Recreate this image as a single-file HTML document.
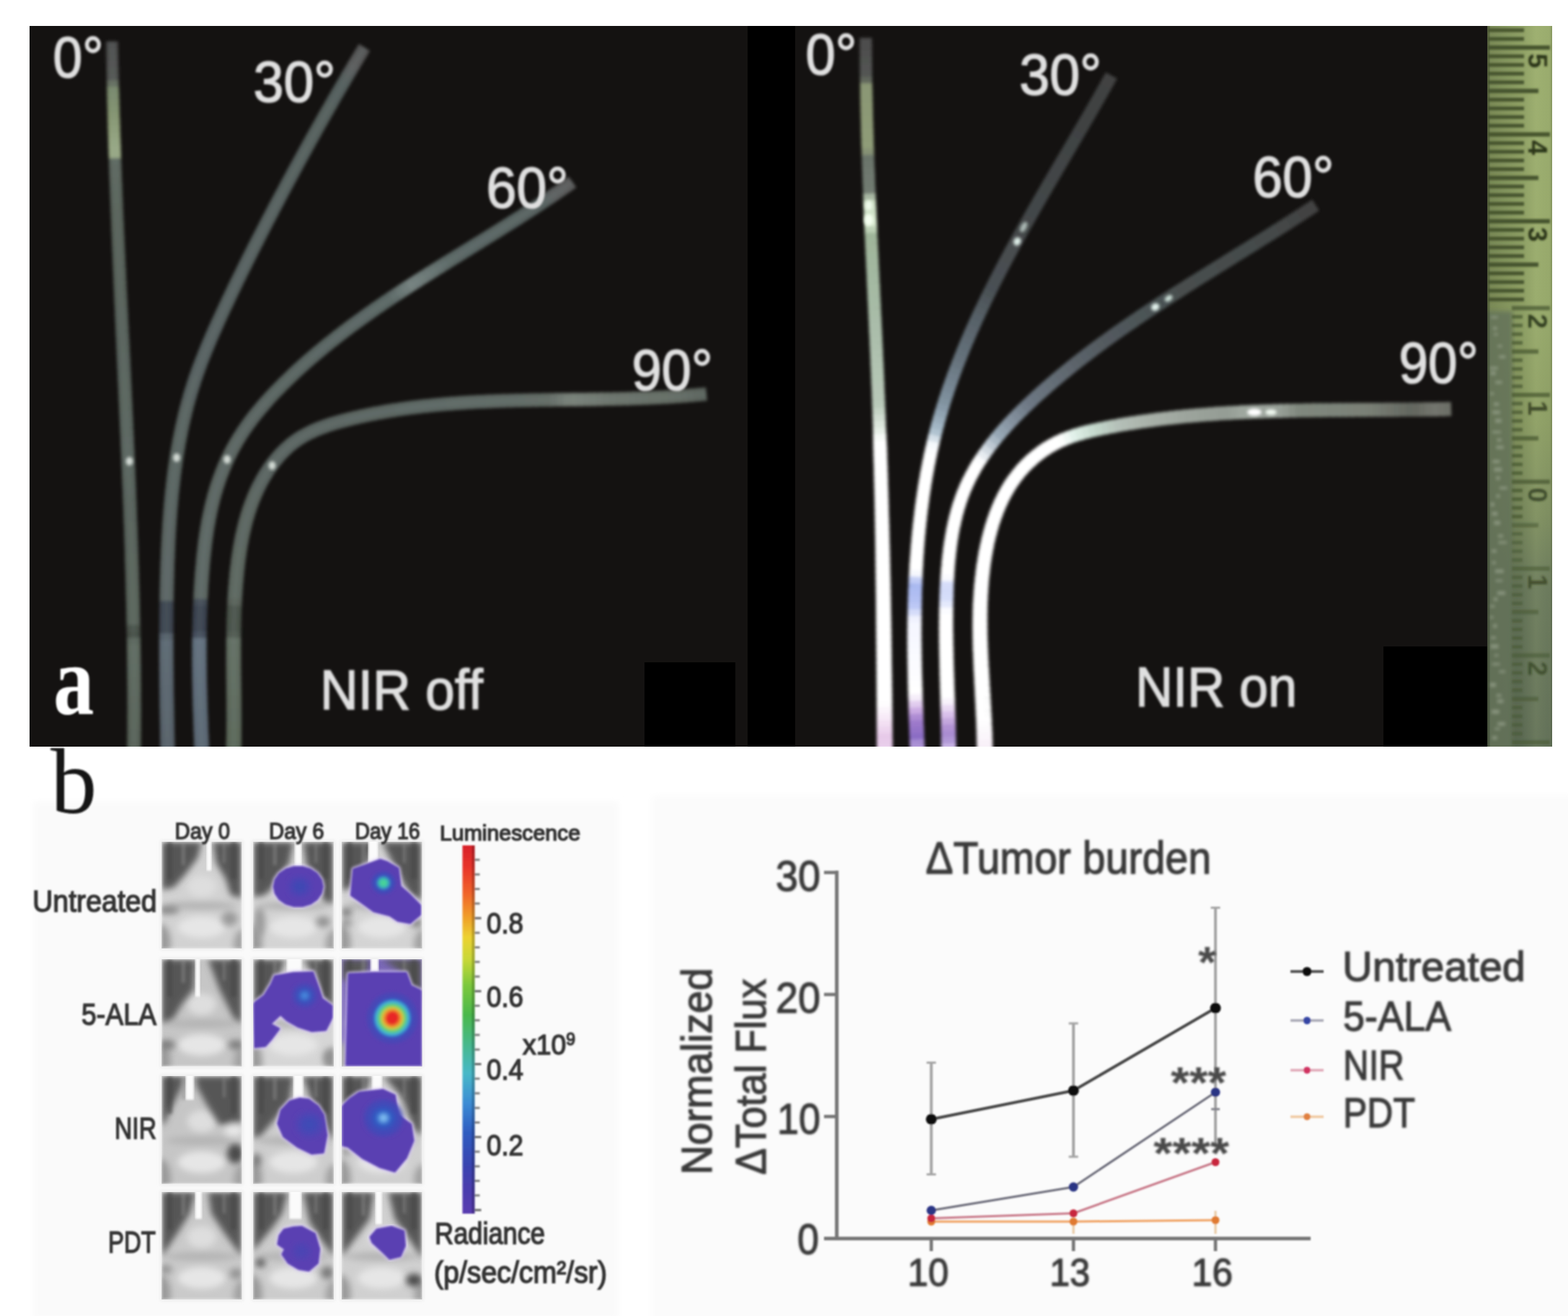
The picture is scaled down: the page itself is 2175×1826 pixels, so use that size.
<!DOCTYPE html>
<html lang="en"><head><meta charset="utf-8"><title>Figure</title>
<style>
html,body{margin:0;padding:0;background:#fff;}
body{width:2175px;height:1826px;overflow:hidden;position:relative;font-family:"Liberation Sans",sans-serif;}
svg{position:absolute;left:0;top:0;display:block;}
text{font-family:"Liberation Sans",sans-serif;}
.serif{font-family:"Liberation Serif",serif;}
</style></head><body>
<svg xmlns="http://www.w3.org/2000/svg" width="2175" height="1826" viewBox="0 0 2175 1826">
<defs>
<filter id="b1" x="-5%" y="-5%" width="110%" height="110%"><feGaussianBlur stdDeviation="1"/></filter>
<filter id="b15" x="-5%" y="-5%" width="110%" height="110%"><feGaussianBlur stdDeviation="1.5"/></filter>
<filter id="b2" x="-10%" y="-10%" width="120%" height="120%"><feGaussianBlur stdDeviation="2"/></filter>
<filter id="b3" x="-10%" y="-10%" width="120%" height="120%"><feGaussianBlur stdDeviation="3"/></filter>
<filter id="b5" x="-20%" y="-20%" width="140%" height="140%"><feGaussianBlur stdDeviation="5"/></filter>
<filter id="b8" x="-30%" y="-30%" width="160%" height="160%"><feGaussianBlur stdDeviation="8"/></filter>

<linearGradient id="gR0" gradientUnits="userSpaceOnUse" x1="0" y1="36" x2="0" y2="1036">
<stop offset="0" stop-color="#4a4e4a"/><stop offset="0.10" stop-color="#59615a"/><stop offset="0.2" stop-color="#7f8a7c"/>
<stop offset="0.42" stop-color="#95a398"/><stop offset="0.53" stop-color="#b9c9c0"/><stop offset="0.585" stop-color="#ffffff"/>
<stop offset="0.86" stop-color="#ffffff"/><stop offset="0.93" stop-color="#f3e3f7"/><stop offset="1" stop-color="#d9b3e6"/>
</linearGradient>
<linearGradient id="gR30" gradientUnits="userSpaceOnUse" x1="0" y1="36" x2="0" y2="1036">
<stop offset="0" stop-color="#3c3f3f"/><stop offset="0.10" stop-color="#454a4a"/><stop offset="0.3" stop-color="#5f6969"/>
<stop offset="0.45" stop-color="#66737a"/><stop offset="0.55" stop-color="#9fb6bd"/><stop offset="0.63" stop-color="#ffffff"/>
<stop offset="0.72" stop-color="#ffffff"/><stop offset="0.76" stop-color="#aab4e8"/><stop offset="0.80" stop-color="#eef0ff"/><stop offset="0.88" stop-color="#ffffff"/>
<stop offset="0.94" stop-color="#a183dc"/><stop offset="1" stop-color="#8a63c8"/>
</linearGradient>
<linearGradient id="gR60" gradientUnits="userSpaceOnUse" x1="0" y1="36" x2="0" y2="1036">
<stop offset="0" stop-color="#3c3f3f"/><stop offset="0.25" stop-color="#454a4a"/><stop offset="0.40" stop-color="#59625f"/>
<stop offset="0.50" stop-color="#6a7880"/><stop offset="0.57" stop-color="#a9bfc6"/><stop offset="0.63" stop-color="#ffffff"/>
<stop offset="0.74" stop-color="#ffffff"/><stop offset="0.77" stop-color="#dfe3fb"/><stop offset="0.82" stop-color="#ffffff"/><stop offset="0.90" stop-color="#ffffff"/>
<stop offset="0.95" stop-color="#b79be6"/><stop offset="1" stop-color="#9270d0"/>
</linearGradient>
<linearGradient id="gR90" gradientUnits="userSpaceOnUse" x1="1380" y1="0" x2="2010" y2="0">
<stop offset="0" stop-color="#ffffff"/><stop offset="0.22" stop-color="#ffffff"/><stop offset="0.36" stop-color="#c8cec8"/>
<stop offset="0.50" stop-color="#b0b8b0"/><stop offset="0.56" stop-color="#f4f6f4"/><stop offset="0.60" stop-color="#f4f6f4"/><stop offset="0.66" stop-color="#aab2aa"/>
<stop offset="0.85" stop-color="#9aa29a"/><stop offset="0.93" stop-color="#6e746e"/><stop offset="1" stop-color="#5a5e5a"/>
</linearGradient>
<linearGradient id="gL0" gradientUnits="userSpaceOnUse" x1="0" y1="36" x2="0" y2="1036">
<stop offset="0" stop-color="#444644"/><stop offset="0.075" stop-color="#4c504c"/><stop offset="0.09" stop-color="#859473"/>
<stop offset="0.18" stop-color="#8b9b78"/><stop offset="0.19" stop-color="#5a645c"/><stop offset="0.5" stop-color="#545e58"/>
<stop offset="1" stop-color="#556058"/>
</linearGradient>
<linearGradient id="gL" gradientUnits="userSpaceOnUse" x1="0" y1="36" x2="0" y2="1036">
<stop offset="0" stop-color="#4a4f4e"/><stop offset="0.1" stop-color="#566060"/><stop offset="0.5" stop-color="#5f6b6b"/>
<stop offset="0.78" stop-color="#5c6868"/><stop offset="0.82" stop-color="#39404a"/><stop offset="0.88" stop-color="#4e5866"/><stop offset="1" stop-color="#667484"/>
</linearGradient>
<linearGradient id="gL90" gradientUnits="userSpaceOnUse" x1="0" y1="36" x2="0" y2="1036">
<stop offset="0" stop-color="#566060"/><stop offset="0.5" stop-color="#626e6a"/>
<stop offset="0.8" stop-color="#606c64"/><stop offset="0.84" stop-color="#4a524a"/><stop offset="1" stop-color="#6a7668"/>
</linearGradient>
<linearGradient id="gRul" x1="0" y1="0" x2="1" y2="0">
<stop offset="0" stop-color="#6f7d4c"/><stop offset="0.08" stop-color="#7f8f55"/><stop offset="0.55" stop-color="#93a565"/><stop offset="0.8" stop-color="#a3b573"/><stop offset="1" stop-color="#94a667"/>
</linearGradient>
<linearGradient id="gRulDark" gradientUnits="userSpaceOnUse" x1="0" y1="36" x2="0" y2="1036">
<stop offset="0" stop-color="#2a3320" stop-opacity="0"/><stop offset="0.38" stop-color="#2a3320" stop-opacity="0"/><stop offset="0.5" stop-color="#2a3320" stop-opacity="0.18"/>
<stop offset="0.7" stop-color="#2f3a2c" stop-opacity="0.4"/><stop offset="1" stop-color="#2f3a2c" stop-opacity="0.5"/>
</linearGradient>
<linearGradient id="gRulV" gradientUnits="userSpaceOnUse" x1="0" y1="36" x2="0" y2="1036">
<stop offset="0" stop-color="#98aa6c"/><stop offset="0.39" stop-color="#94a669"/><stop offset="0.55" stop-color="#8a9b63"/>
<stop offset="0.68" stop-color="#7a8a5e"/><stop offset="0.78" stop-color="#67765a"/><stop offset="1" stop-color="#5e6c56"/>
</linearGradient>
<linearGradient id="gRulH" x1="0" y1="0" x2="1" y2="0">
<stop offset="0" stop-color="#2c3620" stop-opacity="0.28"/><stop offset="0.5" stop-color="#2c3620" stop-opacity="0.08"/>
<stop offset="0.75" stop-color="#d8e8a0" stop-opacity="0.10"/><stop offset="0.94" stop-color="#d8e8a0" stop-opacity="0.04"/><stop offset="1" stop-color="#2c3620" stop-opacity="0.2"/>
</linearGradient>
<linearGradient id="gCbar" x1="0" y1="0" x2="0" y2="1">
<stop offset="0" stop-color="#d8222a"/><stop offset="0.06" stop-color="#e8352a"/><stop offset="0.13" stop-color="#f0642a"/><stop offset="0.19" stop-color="#f09a2a"/>
<stop offset="0.25" stop-color="#ecd232"/><stop offset="0.31" stop-color="#c8d838"/><stop offset="0.38" stop-color="#7cc83c"/><stop offset="0.46" stop-color="#4ab84c"/>
<stop offset="0.54" stop-color="#46b88c"/><stop offset="0.62" stop-color="#48b8c8"/><stop offset="0.70" stop-color="#3c8cd4"/><stop offset="0.78" stop-color="#2f5cc0"/>
<stop offset="0.87" stop-color="#3a44b0"/><stop offset="0.94" stop-color="#4c3cae"/><stop offset="1" stop-color="#5a3cb0"/>
</linearGradient>
</defs>
<rect x="0" y="0" width="2175" height="1826" fill="#ffffff"/>
<g filter="url(#b5)"><rect x="46" y="1112" width="812" height="720" fill="#fafafa"/><rect x="904" y="1104" width="1280" height="730" fill="#fbfbfb"/></g>
<g id="panel-a">
<rect x="41" y="36" width="2112" height="1000" fill="#141211"/>
<rect x="1037" y="36" width="66" height="1000" fill="#000"/>
<rect x="894" y="919" width="126" height="117" fill="#000"/>
<rect x="1919" y="897" width="144" height="139" fill="#000"/>
<clipPath id="clipL"><rect x="41" y="36" width="996" height="1000"/></clipPath>
<clipPath id="clipR"><rect x="1103" y="36" width="960" height="1000"/></clipPath>
<g clip-path="url(#clipL)"><g filter="url(#b2)" fill="none" stroke-linecap="butt" stroke-linejoin="round">
<path d="M155.5 57.5 L155.5 60.5 L155.6 63.5 L155.6 66.5 L155.7 69.5" stroke="#4b4b4b" stroke-width="16.5"/>
<path d="M155.6 66.5 L155.7 69.5 L155.7 72.5 L155.8 75.5 L155.8 78.5" stroke="#4c4d4c" stroke-width="16.6"/>
<path d="M155.8 75.5 L155.8 78.5 L155.9 81.5 L155.9 84.5 L156.0 87.5" stroke="#4d4e4d" stroke-width="16.6"/>
<path d="M155.9 84.5 L156.0 87.5 L156.0 90.5 L156.1 93.5 L156.1 96.5" stroke="#4f504f" stroke-width="16.6"/>
<path d="M156.1 93.5 L156.1 96.5 L156.2 99.5 L156.3 102.5 L156.3 105.5" stroke="#505250" stroke-width="16.7"/>
<path d="M156.3 102.5 L156.3 105.5 L156.4 108.5 L156.4 111.5 L156.5 114.5" stroke="#515351" stroke-width="16.7"/>
<path d="M156.4 111.5 L156.5 114.5 L156.6 117.5 L156.6 120.5 L156.7 123.5" stroke="#646d5e" stroke-width="16.7"/>
<path d="M156.6 120.5 L156.7 123.5 L156.8 126.5 L156.9 129.5 L156.9 132.5" stroke="#78886b" stroke-width="16.8"/>
<path d="M156.9 129.5 L156.9 132.5 L157.0 135.5 L157.1 138.5 L157.1 141.5" stroke="#7b8b6c" stroke-width="16.8"/>
<path d="M157.1 138.5 L157.1 141.5 L157.2 144.5 L157.3 147.5 L157.4 150.5" stroke="#7e8e6d" stroke-width="16.9"/>
<path d="M157.3 147.5 L157.4 150.5 L157.5 153.5 L157.5 156.5 L157.6 159.5" stroke="#81916e" stroke-width="16.9"/>
<path d="M157.5 156.5 L157.6 159.5 L157.7 162.5 L157.8 165.5 L157.9 168.5" stroke="#859570" stroke-width="16.9"/>
<path d="M157.8 165.5 L157.9 168.5 L158.0 171.5 L158.1 174.5 L158.1 177.5" stroke="#899974" stroke-width="17.0"/>
<path d="M158.1 174.5 L158.1 177.5 L158.2 180.5 L158.3 183.5 L158.4 186.5" stroke="#8d9d78" stroke-width="17.0"/>
<path d="M158.3 183.5 L158.4 186.5 L158.5 189.5 L158.6 192.5 L158.7 195.5" stroke="#91a17c" stroke-width="17.0"/>
<path d="M158.6 192.5 L158.7 195.5 L158.8 198.5 L158.9 201.5 L159.0 204.5" stroke="#95a581" stroke-width="17.1"/>
<path d="M158.9 201.5 L159.0 204.5 L159.1 207.5 L159.2 210.5 L159.3 213.5" stroke="#98a884" stroke-width="17.1"/>
<path d="M159.2 210.5 L159.3 213.5 L159.4 216.5 L159.5 219.5 L159.6 222.5" stroke="#98a884" stroke-width="17.1"/>
<path d="M159.5 219.5 L159.6 222.5 L159.7 225.5 L159.8 228.5 L159.9 231.5" stroke="#5c665e" stroke-width="17.2"/>
<path d="M159.8 228.5 L159.9 231.5 L160.0 234.5 L160.1 237.5 L160.2 240.4" stroke="#5b655d" stroke-width="17.2"/>
<path d="M160.1 237.5 L160.2 240.4 L160.3 243.4 L160.4 246.4 L160.5 249.4" stroke="#5b655d" stroke-width="17.3"/>
<path d="M160.4 246.4 L160.5 249.4 L160.6 252.4 L160.8 255.4 L160.9 258.4" stroke="#5a645c" stroke-width="17.3"/>
<path d="M160.8 255.4 L160.9 258.4 L161.0 261.4 L161.1 264.4 L161.2 267.4" stroke="#59635b" stroke-width="17.3"/>
<path d="M161.1 264.4 L161.2 267.4 L161.3 270.4 L161.4 273.4 L161.6 276.4" stroke="#58625a" stroke-width="17.4"/>
<path d="M161.4 273.4 L161.6 276.4 L161.7 279.4 L161.8 282.4 L161.9 285.4" stroke="#58625a" stroke-width="17.4"/>
<path d="M161.8 282.4 L161.9 285.4 L162.0 288.4 L162.1 291.4 L162.3 294.4" stroke="#576159" stroke-width="17.4"/>
<path d="M162.1 291.4 L162.3 294.4 L162.4 297.4 L162.5 300.4 L162.6 303.4" stroke="#566058" stroke-width="17.5"/>
<path d="M162.5 300.4 L162.6 303.4 L162.8 306.4 L162.9 309.4 L163.0 312.4" stroke="#566058" stroke-width="17.5"/>
<path d="M162.9 309.4 L163.0 312.4 L163.1 315.4 L163.2 318.4 L163.4 321.4" stroke="#566058" stroke-width="17.6"/>
<path d="M163.2 318.4 L163.4 321.4 L163.5 324.4 L163.6 327.4 L163.8 330.4" stroke="#566058" stroke-width="17.6"/>
<path d="M163.6 327.4 L163.8 330.4 L163.9 333.4 L164.0 336.4 L164.1 339.4" stroke="#566058" stroke-width="17.7"/>
<path d="M164.0 336.4 L164.1 339.4 L164.3 342.4 L164.4 345.4 L164.5 348.4" stroke="#566058" stroke-width="17.7"/>
<path d="M164.4 345.4 L164.5 348.4 L164.7 351.4 L164.8 354.4 L164.9 357.4" stroke="#566059" stroke-width="17.7"/>
<path d="M164.8 354.4 L164.9 357.4 L165.0 360.4 L165.2 363.4 L165.3 366.3" stroke="#566059" stroke-width="17.8"/>
<path d="M165.2 363.4 L165.3 366.3 L165.4 369.3 L165.6 372.3 L165.7 375.3" stroke="#566059" stroke-width="17.8"/>
<path d="M165.6 372.3 L165.7 375.3 L165.8 378.3 L166.0 381.3 L166.1 384.3" stroke="#566059" stroke-width="17.9"/>
<path d="M166.0 381.3 L166.1 384.3 L166.2 387.3 L166.4 390.3 L166.5 393.3" stroke="#566059" stroke-width="17.9"/>
<path d="M166.4 390.3 L166.5 393.3 L166.6 396.3 L166.8 399.3 L166.9 402.3" stroke="#566059" stroke-width="18.0"/>
<path d="M166.8 399.3 L166.9 402.3 L167.1 405.3 L167.2 408.3 L167.3 411.3" stroke="#566059" stroke-width="18.0"/>
<path d="M167.2 408.3 L167.3 411.3 L167.5 414.3 L167.6 417.3 L167.7 420.3" stroke="#566059" stroke-width="18.1"/>
<path d="M167.6 417.3 L167.7 420.3 L167.9 423.3 L168.0 426.3 L168.2 429.3" stroke="#566059" stroke-width="18.1"/>
<path d="M168.0 426.3 L168.2 429.3 L168.3 432.3 L168.4 435.3 L168.6 438.3" stroke="#56605a" stroke-width="18.1"/>
<path d="M168.4 435.3 L168.6 438.3 L168.7 441.3 L168.8 444.3 L169.0 447.3" stroke="#56605a" stroke-width="18.2"/>
<path d="M168.8 444.3 L169.0 447.3 L169.1 450.3 L169.3 453.3 L169.4 456.3" stroke="#56605a" stroke-width="18.2"/>
<path d="M169.3 453.3 L169.4 456.3 L169.5 459.3 L169.7 462.3 L169.8 465.2" stroke="#56605a" stroke-width="18.3"/>
<path d="M169.7 462.3 L169.8 465.2 L170.0 468.2 L170.1 471.2 L170.2 474.2" stroke="#56605a" stroke-width="18.3"/>
<path d="M170.1 471.2 L170.2 474.2 L170.4 477.2 L170.5 480.2 L170.7 483.2" stroke="#56605a" stroke-width="18.4"/>
<path d="M170.5 480.2 L170.7 483.2 L170.8 486.2 L170.9 489.2 L171.1 492.2" stroke="#56615a" stroke-width="18.4"/>
<path d="M170.9 489.2 L171.1 492.2 L171.2 495.2 L171.4 498.2 L171.5 501.2" stroke="#57615b" stroke-width="18.5"/>
<path d="M171.4 498.2 L171.5 501.2 L171.6 504.2 L171.8 507.2 L171.9 510.2" stroke="#57615b" stroke-width="18.5"/>
<path d="M171.8 507.2 L171.9 510.2 L172.1 513.2 L172.2 516.2 L172.3 519.2" stroke="#57615b" stroke-width="18.5"/>
<path d="M172.2 516.2 L172.3 519.2 L172.5 522.2 L172.6 525.2 L172.7 528.2" stroke="#57625b" stroke-width="18.5"/>
<path d="M172.6 525.2 L172.7 528.2 L172.9 531.2 L173.0 534.2 L173.2 537.2" stroke="#58625c" stroke-width="18.5"/>
<path d="M173.0 534.2 L173.2 537.2 L173.3 540.2 L173.4 543.2 L173.6 546.2" stroke="#58625c" stroke-width="18.5"/>
<path d="M173.4 543.2 L173.6 546.2 L173.7 549.2 L173.8 552.2 L174.0 555.2" stroke="#58635c" stroke-width="18.5"/>
<path d="M173.8 552.2 L174.0 555.2 L174.1 558.2 L174.3 561.2 L174.4 564.1" stroke="#58635c" stroke-width="18.6"/>
<path d="M174.3 561.2 L174.4 564.1 L174.5 567.1 L174.7 570.1 L174.8 573.1" stroke="#58635c" stroke-width="18.6"/>
<path d="M174.7 570.1 L174.8 573.1 L174.9 576.1 L175.1 579.1 L175.2 582.1" stroke="#59635d" stroke-width="18.6"/>
<path d="M175.1 579.1 L175.2 582.1 L175.3 585.1 L175.5 588.1 L175.6 591.1" stroke="#59645d" stroke-width="18.6"/>
<path d="M175.5 588.1 L175.6 591.1 L175.7 594.1 L175.9 597.1 L176.0 600.1" stroke="#59645d" stroke-width="18.6"/>
<path d="M175.9 597.1 L176.0 600.1 L176.1 603.1 L176.3 606.1 L176.4 609.1" stroke="#59645d" stroke-width="18.6"/>
<path d="M176.3 606.1 L176.4 609.1 L176.5 612.1 L176.6 615.1 L176.8 618.1" stroke="#5a645e" stroke-width="18.6"/>
<path d="M176.6 615.1 L176.8 618.1 L176.9 621.1 L177.0 624.1 L177.2 627.1" stroke="#5a655e" stroke-width="18.6"/>
<path d="M177.0 624.1 L177.2 627.1 L177.3 630.1 L177.4 633.1 L177.5 636.1" stroke="#5a655e" stroke-width="18.6"/>
<path d="M177.4 633.1 L177.5 636.1 L177.7 639.1 L177.8 642.1 L177.9 645.1" stroke="#5a645e" stroke-width="18.6"/>
<path d="M177.8 642.1 L177.9 645.1 L178.0 648.1 L178.2 651.1 L178.3 654.1" stroke="#59645d" stroke-width="18.6"/>
<path d="M178.2 651.1 L178.3 654.1 L178.4 657.1 L178.5 660.1 L178.7 663.1" stroke="#59635d" stroke-width="18.6"/>
<path d="M178.5 660.1 L178.7 663.1 L178.8 666.1 L178.9 669.0 L179.0 672.0" stroke="#58625c" stroke-width="18.7"/>
<path d="M178.9 669.0 L179.0 672.0 L179.1 675.0 L179.3 678.0 L179.4 681.0" stroke="#57625b" stroke-width="18.7"/>
<path d="M179.3 678.0 L179.4 681.0 L179.5 684.0 L179.6 687.0 L179.7 690.0" stroke="#57615b" stroke-width="18.7"/>
<path d="M179.6 687.0 L179.7 690.0 L179.8 693.0 L180.0 696.0 L180.1 699.0" stroke="#56615a" stroke-width="18.7"/>
<path d="M180.0 696.0 L180.1 699.0 L180.2 702.0 L180.3 705.0 L180.4 708.0" stroke="#56605a" stroke-width="18.7"/>
<path d="M180.3 705.0 L180.4 708.0 L180.5 711.0 L180.6 714.0 L180.7 717.0" stroke="#56605a" stroke-width="18.7"/>
<path d="M180.6 714.0 L180.7 717.0 L180.8 720.0 L180.9 723.0 L181.1 726.0" stroke="#56605a" stroke-width="18.7"/>
<path d="M180.9 723.0 L181.1 726.0 L181.2 729.0 L181.3 732.0 L181.4 735.0" stroke="#57615a" stroke-width="18.7"/>
<path d="M181.3 732.0 L181.4 735.0 L181.5 738.0 L181.6 741.0 L181.7 744.0" stroke="#57615a" stroke-width="18.7"/>
<path d="M181.6 741.0 L181.7 744.0 L181.8 747.0 L181.9 750.0 L182.0 753.0" stroke="#57615a" stroke-width="18.7"/>
<path d="M181.9 750.0 L182.0 753.0 L182.1 756.0 L182.2 759.0 L182.3 762.0" stroke="#57615a" stroke-width="18.7"/>
<path d="M182.2 759.0 L182.3 762.0 L182.4 765.0 L182.5 768.0 L182.6 771.0" stroke="#57615a" stroke-width="18.7"/>
<path d="M182.5 768.0 L182.6 771.0 L182.6 774.0 L182.7 777.0 L182.8 780.0" stroke="#58625a" stroke-width="18.8"/>
<path d="M182.7 777.0 L182.8 780.0 L182.9 783.0 L183.0 786.0 L183.1 789.0" stroke="#58625a" stroke-width="18.8"/>
<path d="M183.0 786.0 L183.1 789.0 L183.2 792.0 L183.3 795.0 L183.4 798.0" stroke="#58625a" stroke-width="18.8"/>
<path d="M183.3 795.0 L183.4 798.0 L183.4 801.0 L183.5 804.0 L183.6 807.0" stroke="#58625a" stroke-width="18.8"/>
<path d="M183.5 804.0 L183.6 807.0 L183.7 810.0 L183.8 813.0 L183.8 816.0" stroke="#58625a" stroke-width="18.8"/>
<path d="M183.8 813.0 L183.8 816.0 L183.9 819.0 L184.0 822.0 L184.1 825.0" stroke="#59635a" stroke-width="18.8"/>
<path d="M184.0 822.0 L184.1 825.0 L184.1 828.0 L184.2 831.0 L184.3 834.0" stroke="#59635a" stroke-width="18.8"/>
<path d="M184.2 831.0 L184.3 834.0 L184.4 837.0 L184.4 839.9 L184.5 842.9" stroke="#59635a" stroke-width="18.8"/>
<path d="M184.4 839.9 L184.5 842.9 L184.6 845.9 L184.6 848.9 L184.7 851.9" stroke="#59635a" stroke-width="18.8"/>
<path d="M184.6 848.9 L184.7 851.9 L184.7 854.9 L184.8 857.9 L184.9 860.9" stroke="#59635a" stroke-width="18.8"/>
<path d="M184.8 857.9 L184.9 860.9 L184.9 863.9 L185.0 866.9 L185.0 869.9" stroke="#59635a" stroke-width="18.8"/>
<path d="M185.0 866.9 L185.0 869.9 L185.1 872.9 L185.2 875.9 L185.2 878.9" stroke="#485148" stroke-width="18.8"/>
<path d="M185.2 875.9 L185.2 878.9 L185.3 881.9 L185.3 884.9 L185.4 887.9" stroke="#454d45" stroke-width="18.9"/>
<path d="M185.3 884.9 L185.4 887.9 L185.4 890.9 L185.5 893.9 L185.5 896.9" stroke="#5a655c" stroke-width="18.9"/>
<path d="M185.5 893.9 L185.5 896.9 L185.5 899.9 L185.6 902.9 L185.6 905.9" stroke="#5e695f" stroke-width="18.9"/>
<path d="M185.6 902.9 L185.6 905.9 L185.7 908.9 L185.7 911.9 L185.7 914.9" stroke="#5d695f" stroke-width="18.9"/>
<path d="M185.7 911.9 L185.7 914.9 L185.8 917.9 L185.8 920.9 L185.8 923.9" stroke="#5d685e" stroke-width="18.9"/>
<path d="M185.8 920.9 L185.8 923.9 L185.9 926.9 L185.9 929.9 L185.9 932.9" stroke="#5c685e" stroke-width="18.9"/>
<path d="M185.9 929.9 L185.9 932.9 L185.9 935.9 L186.0 938.9 L186.0 941.9" stroke="#5c675d" stroke-width="18.9"/>
<path d="M186.0 938.9 L186.0 941.9 L186.0 944.9 L186.0 947.9 L186.1 951.0" stroke="#5b665c" stroke-width="18.9"/>
<path d="M186.0 947.9 L186.1 951.0 L186.1 954.0 L186.1 957.0 L186.1 960.0" stroke="#5b665c" stroke-width="18.9"/>
<path d="M186.1 957.0 L186.1 960.0 L186.1 963.0 L186.1 966.0 L186.1 969.0" stroke="#5a655b" stroke-width="18.9"/>
<path d="M186.1 966.0 L186.1 969.0 L186.1 972.0 L186.1 975.0 L186.2 978.0" stroke="#5a645a" stroke-width="18.9"/>
<path d="M186.1 975.0 L186.2 978.0 L186.2 981.0 L186.2 984.0 L186.2 987.0" stroke="#59645a" stroke-width="18.9"/>
<path d="M186.2 984.0 L186.2 987.0 L186.2 990.0 L186.1 993.0 L186.1 996.0" stroke="#596359" stroke-width="19.0"/>
<path d="M186.1 993.0 L186.1 996.0 L186.1 999.0 L186.1 1002.0 L186.1 1005.0" stroke="#586359" stroke-width="19.0"/>
<path d="M186.1 1002.0 L186.1 1005.0 L186.1 1008.0 L186.1 1011.0 L186.1 1014.0" stroke="#586258" stroke-width="19.0"/>
<path d="M186.1 1011.0 L186.1 1014.0 L186.1 1017.0 L186.0 1020.0 L186.0 1023.0" stroke="#576157" stroke-width="19.0"/>
<path d="M186.0 1020.0 L186.0 1023.0 L186.0 1026.0 L186.0 1029.0 L185.9 1032.0" stroke="#576157" stroke-width="19.0"/>
<path d="M186.0 1029.0 L185.9 1032.0 L185.9 1035.0 L185.9 1038.0 L185.8 1041.0" stroke="#566056" stroke-width="19.0"/>
<path d="M185.9 1038.0 L185.8 1041.0 L185.8 1044.0" stroke="#566056" stroke-width="19.0"/>
<path d="M155.5 57.5 L155.7 69.5 L155.9 81.6 L156.1 93.6 L156.3 105.6 L156.6 117.7 L156.9 129.7 L157.2 141.8 L157.5 153.8 L157.8 165.8 L158.1 177.8 L158.5 189.9 L158.9 201.9 L159.3 213.9 L159.7 226.0 L160.1 238.0 L160.6 250.0 L161.0 262.1 L161.5 274.1 L161.9 286.1 L162.4 298.1 L162.9 310.2 L163.4 322.2 L163.9 334.2 L164.4 346.2 L165.0 358.3 L165.5 370.3 L166.0 382.3 L166.6 394.3 L167.1 406.4 L167.7 418.4 L168.2 430.4 L168.8 442.4 L169.3 454.5 L169.9 466.5 L170.4 478.5 L171.0 490.5 L171.6 502.6 L172.1 514.6 L172.7 526.6 L173.2 538.6 L173.8 550.7 L174.3 562.7 L174.9 574.7 L175.4 586.7 L175.9 598.8 L176.5 610.8 L177.0 622.8 L177.5 634.8 L178.0 646.9 L178.5 658.9 L179.0 670.9 L179.4 682.9 L179.9 695.0 L180.4 707.0 L180.8 719.0 L181.2 731.1 L181.6 743.1 L182.0 755.1 L182.4 767.1 L182.8 779.2 L183.2 791.2 L183.5 803.2 L183.8 815.3 L184.1 827.3 L184.4 839.3 L184.7 851.4 L184.9 863.4 L185.1 875.4 L185.3 887.5 L185.5 899.5 L185.7 911.5 L185.8 923.6 L185.9 935.6 L186.0 947.7 L186.1 959.7 L186.1 971.7 L186.2 983.8 L186.1 995.8 L186.1 1007.9 L186.0 1019.9 L185.9 1032.0 L185.8 1044.0" stroke="#9fb0ac" stroke-opacity="0.10" stroke-width="7"/>
<path d="M505.5 65.8 L503.9 68.4 L502.4 71.0 L500.9 73.6 L499.3 76.1" stroke="#555555" stroke-width="18.0"/>
<path d="M500.9 73.6 L499.3 76.1 L497.8 78.7 L496.2 81.3 L494.7 83.9" stroke="#565757" stroke-width="18.0"/>
<path d="M496.2 81.3 L494.7 83.9 L493.1 86.5 L491.6 89.1 L490.1 91.7" stroke="#585959" stroke-width="18.0"/>
<path d="M491.6 89.1 L490.1 91.7 L488.5 94.3 L487.0 96.9 L485.5 99.4" stroke="#5a5c5c" stroke-width="18.0"/>
<path d="M487.0 96.9 L485.5 99.4 L484.0 102.0 L482.4 104.6 L480.9 107.2" stroke="#575c5c" stroke-width="18.1"/>
<path d="M482.4 104.6 L480.9 107.2 L479.4 109.8 L477.9 112.4 L476.4 115.0" stroke="#545d5b" stroke-width="18.1"/>
<path d="M477.9 112.4 L476.4 115.0 L474.9 117.6 L473.4 120.2 L471.8 122.8" stroke="#535d5b" stroke-width="18.1"/>
<path d="M473.4 120.2 L471.8 122.8 L470.3 125.4 L468.8 128.0 L467.3 130.6" stroke="#535d5b" stroke-width="18.1"/>
<path d="M468.8 128.0 L467.3 130.6 L465.8 133.2 L464.3 135.8 L462.8 138.4" stroke="#535d5b" stroke-width="18.1"/>
<path d="M464.3 135.8 L462.8 138.4 L461.3 141.0 L459.9 143.6 L458.4 146.2" stroke="#535d5b" stroke-width="18.2"/>
<path d="M459.9 143.6 L458.4 146.2 L456.9 148.9 L455.4 151.5 L453.9 154.1" stroke="#545e5c" stroke-width="18.2"/>
<path d="M455.4 151.5 L453.9 154.1 L452.4 156.7 L450.9 159.3 L449.5 161.9" stroke="#545e5c" stroke-width="18.2"/>
<path d="M450.9 159.3 L449.5 161.9 L448.0 164.5 L446.5 167.1 L445.1 169.7" stroke="#545e5c" stroke-width="18.2"/>
<path d="M446.5 167.1 L445.1 169.7 L443.6 172.4 L442.1 175.0 L440.6 177.6" stroke="#545e5c" stroke-width="18.2"/>
<path d="M442.1 175.0 L440.6 177.6 L439.2 180.2 L437.7 182.8 L436.3 185.5" stroke="#545e5c" stroke-width="18.2"/>
<path d="M437.7 182.8 L436.3 185.5 L434.8 188.1 L433.3 190.7 L431.9 193.3" stroke="#545e5c" stroke-width="18.3"/>
<path d="M433.3 190.7 L431.9 193.3 L430.4 195.9 L429.0 198.6 L427.5 201.2" stroke="#545e5c" stroke-width="18.3"/>
<path d="M429.0 198.6 L427.5 201.2 L426.1 203.8 L424.6 206.5 L423.2 209.1" stroke="#545e5c" stroke-width="18.3"/>
<path d="M424.6 206.5 L423.2 209.1 L421.8 211.7 L420.3 214.3 L418.9 217.0" stroke="#555f5d" stroke-width="18.3"/>
<path d="M420.3 214.3 L418.9 217.0 L417.4 219.6 L416.0 222.2 L414.6 224.9" stroke="#555f5d" stroke-width="18.3"/>
<path d="M416.0 222.2 L414.6 224.9 L413.1 227.5 L411.7 230.1 L410.3 232.8" stroke="#555f5d" stroke-width="18.3"/>
<path d="M411.7 230.1 L410.3 232.8 L408.8 235.4 L407.4 238.1 L406.0 240.7" stroke="#555f5d" stroke-width="18.4"/>
<path d="M407.4 238.1 L406.0 240.7 L404.6 243.3 L403.2 246.0 L401.7 248.6" stroke="#555f5d" stroke-width="18.4"/>
<path d="M403.2 246.0 L401.7 248.6 L400.3 251.3 L398.9 253.9 L397.5 256.6" stroke="#555f5d" stroke-width="18.4"/>
<path d="M398.9 253.9 L397.5 256.6 L396.1 259.2 L394.7 261.9 L393.3 264.5" stroke="#555f5d" stroke-width="18.4"/>
<path d="M394.7 261.9 L393.3 264.5 L391.8 267.2 L390.4 269.8 L389.0 272.5" stroke="#555f5d" stroke-width="18.4"/>
<path d="M390.4 269.8 L389.0 272.5 L387.6 275.1 L386.2 277.8 L384.8 280.5" stroke="#56605e" stroke-width="18.4"/>
<path d="M386.2 277.8 L384.8 280.5 L383.4 283.1 L382.0 285.8 L380.6 288.4" stroke="#56605e" stroke-width="18.5"/>
<path d="M382.0 285.8 L380.6 288.4 L379.2 291.1 L377.9 293.8 L376.5 296.4" stroke="#56605e" stroke-width="18.5"/>
<path d="M377.9 293.8 L376.5 296.4 L375.1 299.1 L373.7 301.8 L372.3 304.4" stroke="#56605e" stroke-width="18.5"/>
<path d="M373.7 301.8 L372.3 304.4 L370.9 307.1 L369.5 309.8 L368.1 312.5" stroke="#56605e" stroke-width="18.5"/>
<path d="M369.5 309.8 L368.1 312.5 L366.8 315.1 L365.4 317.8 L364.0 320.5" stroke="#56605e" stroke-width="18.5"/>
<path d="M365.4 317.8 L364.0 320.5 L362.6 323.2 L361.3 325.8 L359.9 328.5" stroke="#56605e" stroke-width="18.5"/>
<path d="M361.3 325.8 L359.9 328.5 L358.5 331.2 L357.2 333.9 L355.8 336.6" stroke="#56605e" stroke-width="18.6"/>
<path d="M357.2 333.9 L355.8 336.6 L354.4 339.3 L353.1 341.9 L351.7 344.6" stroke="#56605e" stroke-width="18.6"/>
<path d="M353.1 341.9 L351.7 344.6 L350.4 347.3 L349.0 350.0 L347.7 352.7" stroke="#56605e" stroke-width="18.6"/>
<path d="M349.0 350.0 L347.7 352.7 L346.3 355.4 L345.0 358.1 L343.6 360.8" stroke="#56605f" stroke-width="18.6"/>
<path d="M345.0 358.1 L343.6 360.8 L342.3 363.5 L341.0 366.2 L339.6 368.9" stroke="#56605f" stroke-width="18.6"/>
<path d="M341.0 366.2 L339.6 368.9 L338.3 371.6 L337.0 374.3 L335.6 377.0" stroke="#56605f" stroke-width="18.6"/>
<path d="M337.0 374.3 L335.6 377.0 L334.3 379.7 L333.0 382.4 L331.7 385.1" stroke="#56605f" stroke-width="18.6"/>
<path d="M333.0 382.4 L331.7 385.1 L330.3 387.8 L329.0 390.5 L327.7 393.2" stroke="#56605f" stroke-width="18.6"/>
<path d="M329.0 390.5 L327.7 393.2 L326.4 395.9 L325.1 398.6 L323.8 401.3" stroke="#56605f" stroke-width="18.7"/>
<path d="M325.1 398.6 L323.8 401.3 L322.5 404.1 L321.2 406.8 L319.9 409.5" stroke="#56605f" stroke-width="18.7"/>
<path d="M321.2 406.8 L319.9 409.5 L318.6 412.2 L317.3 414.9 L316.0 417.7" stroke="#56605f" stroke-width="18.7"/>
<path d="M317.3 414.9 L316.0 417.7 L314.8 420.4 L313.5 423.1 L312.2 425.8" stroke="#56605f" stroke-width="18.7"/>
<path d="M313.5 423.1 L312.2 425.8 L310.9 428.6 L309.7 431.3 L308.4 434.0" stroke="#56605f" stroke-width="18.7"/>
<path d="M309.7 431.3 L308.4 434.0 L307.1 436.7 L305.9 439.5 L304.6 442.2" stroke="#56605f" stroke-width="18.7"/>
<path d="M305.9 439.5 L304.6 442.2 L303.4 444.9 L302.1 447.7 L300.9 450.4" stroke="#56605f" stroke-width="18.7"/>
<path d="M302.1 447.7 L300.9 450.4 L299.7 453.2 L298.5 455.9 L297.2 458.6" stroke="#566060" stroke-width="18.8"/>
<path d="M298.5 455.9 L297.2 458.6 L296.0 461.4 L294.8 464.1 L293.6 466.9" stroke="#566060" stroke-width="18.8"/>
<path d="M294.8 464.1 L293.6 466.9 L292.4 469.6 L291.3 472.4 L290.1 475.2" stroke="#566060" stroke-width="18.8"/>
<path d="M291.3 472.4 L290.1 475.2 L288.9 477.9 L287.8 480.7 L286.6 483.5" stroke="#566060" stroke-width="18.8"/>
<path d="M287.8 480.7 L286.6 483.5 L285.5 486.2 L284.4 489.0 L283.3 491.8" stroke="#566060" stroke-width="18.8"/>
<path d="M284.4 489.0 L283.3 491.8 L282.2 494.6 L281.1 497.3 L280.0 500.1" stroke="#566060" stroke-width="18.8"/>
<path d="M281.1 497.3 L280.0 500.1 L278.9 502.9 L277.9 505.7 L276.8 508.5" stroke="#566060" stroke-width="18.8"/>
<path d="M277.9 505.7 L276.8 508.5 L275.8 511.3 L274.8 514.1 L273.8 516.9" stroke="#566060" stroke-width="18.9"/>
<path d="M274.8 514.1 L273.8 516.9 L272.8 519.7 L271.8 522.6 L270.8 525.4" stroke="#566060" stroke-width="18.9"/>
<path d="M271.8 522.6 L270.8 525.4 L269.9 528.2 L269.0 531.1 L268.1 533.9" stroke="#576160" stroke-width="18.9"/>
<path d="M269.0 531.1 L268.1 533.9 L267.2 536.7 L266.3 539.6 L265.4 542.4" stroke="#576160" stroke-width="18.9"/>
<path d="M266.3 539.6 L265.4 542.4 L264.5 545.3 L263.7 548.1 L262.9 551.0" stroke="#576160" stroke-width="18.9"/>
<path d="M263.7 548.1 L262.9 551.0 L262.1 553.9 L261.3 556.7 L260.5 559.6" stroke="#576160" stroke-width="18.9"/>
<path d="M261.3 556.7 L260.5 559.6 L259.7 562.5 L259.0 565.4 L258.2 568.3" stroke="#58625f" stroke-width="18.9"/>
<path d="M259.0 565.4 L258.2 568.3 L257.5 571.2 L256.8 574.0 L256.1 576.9" stroke="#58625f" stroke-width="19.0"/>
<path d="M256.8 574.0 L256.1 576.9 L255.4 579.8 L254.7 582.8 L254.1 585.7" stroke="#58625f" stroke-width="19.0"/>
<path d="M254.7 582.8 L254.1 585.7 L253.4 588.6 L252.8 591.5 L252.1 594.4" stroke="#58625f" stroke-width="19.0"/>
<path d="M252.8 591.5 L252.1 594.4 L251.5 597.3 L250.9 600.3 L250.4 603.2" stroke="#58625f" stroke-width="19.0"/>
<path d="M250.9 600.3 L250.4 603.2 L249.8 606.1 L249.2 609.1 L248.7 612.0" stroke="#59635f" stroke-width="19.0"/>
<path d="M249.2 609.1 L248.7 612.0 L248.1 614.9 L247.6 617.9 L247.1 620.8" stroke="#59635f" stroke-width="19.0"/>
<path d="M247.6 617.9 L247.1 620.8 L246.6 623.8 L246.1 626.7 L245.6 629.7" stroke="#59635f" stroke-width="19.1"/>
<path d="M246.1 626.7 L245.6 629.7 L245.1 632.6 L244.7 635.6 L244.2 638.6" stroke="#59635f" stroke-width="19.1"/>
<path d="M244.7 635.6 L244.2 638.6 L243.8 641.5 L243.4 644.5 L242.9 647.5" stroke="#59635f" stroke-width="19.1"/>
<path d="M243.4 644.5 L242.9 647.5 L242.5 650.4 L242.1 653.4 L241.7 656.4" stroke="#59635f" stroke-width="19.1"/>
<path d="M242.1 653.4 L241.7 656.4 L241.3 659.4 L241.0 662.3 L240.6 665.3" stroke="#596360" stroke-width="19.1"/>
<path d="M241.0 662.3 L240.6 665.3 L240.3 668.3 L239.9 671.3 L239.6 674.3" stroke="#596360" stroke-width="19.2"/>
<path d="M239.9 671.3 L239.6 674.3 L239.3 677.3 L238.9 680.3 L238.6 683.3" stroke="#596360" stroke-width="19.2"/>
<path d="M238.9 680.3 L238.6 683.3 L238.3 686.3 L238.0 689.3 L237.8 692.2" stroke="#596360" stroke-width="19.2"/>
<path d="M238.0 689.3 L237.8 692.2 L237.5 695.2 L237.2 698.2 L237.0 701.3" stroke="#596360" stroke-width="19.2"/>
<path d="M237.2 698.2 L237.0 701.3 L236.7 704.3 L236.5 707.3 L236.2 710.3" stroke="#596360" stroke-width="19.2"/>
<path d="M236.5 707.3 L236.2 710.3 L236.0 713.3 L235.8 716.3 L235.5 719.3" stroke="#5a6461" stroke-width="19.3"/>
<path d="M235.8 716.3 L235.5 719.3 L235.3 722.3 L235.1 725.3 L234.9 728.3" stroke="#5a6461" stroke-width="19.3"/>
<path d="M235.1 725.3 L234.9 728.3 L234.7 731.3 L234.6 734.3 L234.4 737.4" stroke="#5a6461" stroke-width="19.3"/>
<path d="M234.6 734.3 L234.4 737.4 L234.2 740.4 L234.0 743.4 L233.9 746.4" stroke="#5a6461" stroke-width="19.3"/>
<path d="M234.0 743.4 L233.9 746.4 L233.7 749.4 L233.6 752.4 L233.4 755.4" stroke="#5a6461" stroke-width="19.3"/>
<path d="M233.6 752.4 L233.4 755.4 L233.3 758.5 L233.2 761.5 L233.0 764.5" stroke="#5a6461" stroke-width="19.4"/>
<path d="M233.2 761.5 L233.0 764.5 L232.9 767.5 L232.8 770.5 L232.7 773.5" stroke="#5a6461" stroke-width="19.4"/>
<path d="M232.8 770.5 L232.7 773.5 L232.6 776.6 L232.4 779.6 L232.3 782.6" stroke="#5a6462" stroke-width="19.4"/>
<path d="M232.4 779.6 L232.3 782.6 L232.2 785.6 L232.1 788.6 L232.1 791.6" stroke="#5a6462" stroke-width="19.4"/>
<path d="M232.1 788.6 L232.1 791.6 L232.0 794.6 L231.9 797.7 L231.8 800.7" stroke="#5a6462" stroke-width="19.4"/>
<path d="M231.9 797.7 L231.8 800.7 L231.7 803.7 L231.6 806.7 L231.6 809.7" stroke="#5a6462" stroke-width="19.5"/>
<path d="M231.6 806.7 L231.6 809.7 L231.5 812.7 L231.4 815.7 L231.4 818.7" stroke="#5a6462" stroke-width="19.5"/>
<path d="M231.4 815.7 L231.4 818.7 L231.3 821.7 L231.3 824.8 L231.2 827.8" stroke="#5a6462" stroke-width="19.5"/>
<path d="M231.3 824.8 L231.2 827.8 L231.2 830.8 L231.1 833.8 L231.1 836.8" stroke="#5a6462" stroke-width="19.5"/>
<path d="M231.1 833.8 L231.1 836.8 L231.0 839.8 L231.0 842.8 L230.9 845.8" stroke="#3c4450" stroke-width="19.5"/>
<path d="M231.0 842.8 L230.9 845.8 L230.9 848.8 L230.9 851.8 L230.8 854.8" stroke="#3c4450" stroke-width="19.6"/>
<path d="M230.9 851.8 L230.8 854.8 L230.8 857.8 L230.8 860.8 L230.8 863.8" stroke="#3c4450" stroke-width="19.6"/>
<path d="M230.8 860.8 L230.8 863.8 L230.7 866.8 L230.7 869.8 L230.7 872.8" stroke="#3c4450" stroke-width="19.6"/>
<path d="M230.7 869.8 L230.7 872.8 L230.7 875.9 L230.7 878.9 L230.7 881.9" stroke="#3c4450" stroke-width="19.6"/>
<path d="M230.7 878.9 L230.7 881.9 L230.7 884.9 L230.7 887.9 L230.7 890.9" stroke="#545f69" stroke-width="19.7"/>
<path d="M230.7 887.9 L230.7 890.9 L230.7 893.9 L230.7 896.9 L230.7 899.9" stroke="#5c6872" stroke-width="19.7"/>
<path d="M230.7 896.9 L230.7 899.9 L230.7 902.9 L230.7 905.9 L230.7 908.9" stroke="#5b6771" stroke-width="19.7"/>
<path d="M230.7 905.9 L230.7 908.9 L230.7 911.9 L230.7 914.9 L230.7 917.9" stroke="#5b6770" stroke-width="19.7"/>
<path d="M230.7 914.9 L230.7 917.9 L230.8 920.9 L230.8 923.9 L230.8 926.9" stroke="#5b6670" stroke-width="19.7"/>
<path d="M230.8 923.9 L230.8 926.9 L230.8 929.9 L230.9 932.9 L230.9 935.9" stroke="#5a666f" stroke-width="19.8"/>
<path d="M230.9 932.9 L230.9 935.9 L230.9 938.9 L230.9 941.9 L231.0 944.9" stroke="#5a656f" stroke-width="19.8"/>
<path d="M230.9 941.9 L231.0 944.9 L231.0 947.9 L231.0 950.9 L231.1 953.9" stroke="#5a656e" stroke-width="19.8"/>
<path d="M231.0 950.9 L231.1 953.9 L231.1 956.9 L231.1 959.9 L231.2 962.9" stroke="#59646d" stroke-width="19.8"/>
<path d="M231.1 959.9 L231.2 962.9 L231.2 965.9 L231.3 968.9 L231.3 971.9" stroke="#59646d" stroke-width="19.8"/>
<path d="M231.3 968.9 L231.3 971.9 L231.3 974.9 L231.4 977.9 L231.4 980.9" stroke="#58636c" stroke-width="19.9"/>
<path d="M231.4 977.9 L231.4 980.9 L231.5 983.9 L231.5 986.9 L231.6 989.9" stroke="#58636c" stroke-width="19.9"/>
<path d="M231.5 986.9 L231.6 989.9 L231.6 992.9 L231.7 995.9 L231.7 998.9" stroke="#58626b" stroke-width="19.9"/>
<path d="M231.7 995.9 L231.7 998.9 L231.8 1001.9 L231.8 1004.9 L231.9 1007.9" stroke="#57626a" stroke-width="19.9"/>
<path d="M231.8 1004.9 L231.9 1007.9 L231.9 1010.9 L232.0 1013.9 L232.0 1016.9" stroke="#57616a" stroke-width="19.9"/>
<path d="M232.0 1013.9 L232.0 1016.9 L232.1 1019.9 L232.1 1022.9 L232.2 1026.0" stroke="#576169" stroke-width="20.0"/>
<path d="M232.1 1022.9 L232.2 1026.0 L232.2 1029.0 L232.3 1032.0 L232.3 1035.0" stroke="#566069" stroke-width="20.0"/>
<path d="M232.3 1032.0 L232.3 1035.0 L232.4 1038.0 L232.4 1041.0 L232.5 1044.0" stroke="#566068" stroke-width="20.0"/>
<path d="M232.4 1041.0 L232.5 1044.0" stroke="#566068" stroke-width="20.0"/>
<path d="M505.5 65.8 L499.3 76.2 L493.1 86.6 L486.9 97.0 L480.8 107.5 L474.7 117.9 L468.6 128.4 L462.6 138.9 L456.6 149.3 L450.6 159.8 L444.7 170.4 L438.8 180.9 L432.9 191.4 L427.1 202.0 L421.3 212.6 L415.5 223.2 L409.7 233.8 L404.0 244.4 L398.3 255.0 L392.6 265.7 L387.0 276.4 L381.4 287.1 L375.8 297.8 L370.2 308.5 L364.6 319.3 L359.1 330.1 L353.6 340.9 L348.2 351.7 L342.8 362.5 L337.4 373.4 L332.1 384.3 L326.8 395.2 L321.5 406.1 L316.3 417.0 L311.2 428.0 L306.1 439.0 L301.1 450.0 L296.2 461.0 L291.4 472.1 L286.7 483.2 L282.2 494.4 L277.9 505.6 L273.8 516.9 L269.9 528.2 L266.2 539.6 L262.8 551.1 L259.7 562.7 L256.7 574.3 L254.0 586.0 L251.5 597.7 L249.1 609.5 L247.0 621.4 L245.0 633.3 L243.3 645.2 L241.6 657.1 L240.2 669.1 L238.8 681.2 L237.7 693.2 L236.6 705.3 L235.7 717.4 L234.9 729.5 L234.1 741.6 L233.5 753.8 L233.0 765.9 L232.5 778.0 L232.1 790.2 L231.8 802.3 L231.5 814.4 L231.2 826.5 L231.0 838.6 L230.9 850.7 L230.8 862.8 L230.7 874.9 L230.7 887.0 L230.7 899.0 L230.7 911.1 L230.8 923.2 L230.9 935.2 L231.0 947.3 L231.1 959.4 L231.3 971.5 L231.5 983.5 L231.6 995.6 L231.8 1007.7 L232.1 1019.8 L232.3 1031.9 L232.5 1044.0" stroke="#9fb0ac" stroke-opacity="0.10" stroke-width="7"/>
<path d="M794.1 252.5 L791.7 254.2 L789.2 255.9 L786.8 257.6 L784.3 259.3" stroke="#5a5a5a" stroke-width="18.5"/>
<path d="M786.8 257.6 L784.3 259.3 L781.9 261.0 L779.5 262.7 L777.0 264.4" stroke="#5b5c5c" stroke-width="18.5"/>
<path d="M779.5 262.7 L777.0 264.4 L774.5 266.1 L772.1 267.8 L769.6 269.5" stroke="#5b5d5d" stroke-width="18.5"/>
<path d="M772.1 267.8 L769.6 269.5 L767.1 271.1 L764.7 272.8 L762.2 274.5" stroke="#5c5e5e" stroke-width="18.5"/>
<path d="M764.7 272.8 L762.2 274.5 L759.7 276.1 L757.2 277.8 L754.7 279.4" stroke="#595f5e" stroke-width="18.5"/>
<path d="M757.2 277.8 L754.7 279.4 L752.2 281.1 L749.7 282.7 L747.2 284.4" stroke="#56605e" stroke-width="18.5"/>
<path d="M749.7 282.7 L747.2 284.4 L744.7 286.0 L742.2 287.7 L739.7 289.3" stroke="#56605e" stroke-width="18.5"/>
<path d="M742.2 287.7 L739.7 289.3 L737.2 290.9 L734.7 292.6 L732.1 294.2" stroke="#57615f" stroke-width="18.6"/>
<path d="M734.7 292.6 L732.1 294.2 L729.6 295.8 L727.1 297.4 L724.6 299.0" stroke="#57615f" stroke-width="18.6"/>
<path d="M727.1 297.4 L724.6 299.0 L722.0 300.7 L719.5 302.3 L717.0 303.9" stroke="#57615f" stroke-width="18.6"/>
<path d="M719.5 302.3 L717.0 303.9 L714.4 305.5 L711.9 307.1 L709.3 308.7" stroke="#576260" stroke-width="18.6"/>
<path d="M711.9 307.1 L709.3 308.7 L706.8 310.3 L704.2 311.9 L701.7 313.5" stroke="#576260" stroke-width="18.6"/>
<path d="M704.2 311.9 L701.7 313.5 L699.1 315.1 L696.6 316.7 L694.0 318.3" stroke="#586361" stroke-width="18.6"/>
<path d="M696.6 316.7 L694.0 318.3 L691.5 319.9 L688.9 321.5 L686.4 323.1" stroke="#586361" stroke-width="18.6"/>
<path d="M688.9 321.5 L686.4 323.1 L683.8 324.7 L681.3 326.3 L678.7 327.8" stroke="#586361" stroke-width="18.6"/>
<path d="M681.3 326.3 L678.7 327.8 L676.1 329.4 L673.6 331.0 L671.0 332.6" stroke="#586462" stroke-width="18.6"/>
<path d="M673.6 331.0 L671.0 332.6 L668.4 334.2 L665.9 335.8 L663.3 337.4" stroke="#596462" stroke-width="18.6"/>
<path d="M665.9 335.8 L663.3 337.4 L660.7 338.9 L658.2 340.5 L655.6 342.1" stroke="#596462" stroke-width="18.6"/>
<path d="M658.2 340.5 L655.6 342.1 L653.0 343.7 L650.5 345.3 L647.9 346.9" stroke="#596563" stroke-width="18.6"/>
<path d="M650.5 345.3 L647.9 346.9 L645.3 348.4 L642.8 350.0 L640.2 351.6" stroke="#596563" stroke-width="18.6"/>
<path d="M642.8 350.0 L640.2 351.6 L637.6 353.2 L635.0 354.8 L632.5 356.4" stroke="#5a6563" stroke-width="18.7"/>
<path d="M635.0 354.8 L632.5 356.4 L629.9 358.0 L627.3 359.6 L624.8 361.1" stroke="#5a6664" stroke-width="18.7"/>
<path d="M627.3 359.6 L624.8 361.1 L622.2 362.7 L619.6 364.3 L617.1 365.9" stroke="#5b6765" stroke-width="18.7"/>
<path d="M619.6 364.3 L617.1 365.9 L614.5 367.5 L612.0 369.1 L609.4 370.7" stroke="#5e6a68" stroke-width="18.7"/>
<path d="M612.0 369.1 L609.4 370.7 L606.8 372.3 L604.3 373.9 L601.7 375.5" stroke="#626e6c" stroke-width="18.7"/>
<path d="M604.3 373.9 L601.7 375.5 L599.2 377.1 L596.6 378.7 L594.0 380.3" stroke="#667270" stroke-width="18.7"/>
<path d="M596.6 378.7 L594.0 380.3 L591.5 382.0 L588.9 383.6 L586.4 385.2" stroke="#697573" stroke-width="18.7"/>
<path d="M588.9 383.6 L586.4 385.2 L583.8 386.8 L581.3 388.4 L578.8 390.0" stroke="#6d7977" stroke-width="18.7"/>
<path d="M581.3 388.4 L578.8 390.0 L576.2 391.7 L573.7 393.3 L571.1 394.9" stroke="#717d7b" stroke-width="18.7"/>
<path d="M573.7 393.3 L571.1 394.9 L568.6 396.6 L566.1 398.2 L563.5 399.9" stroke="#737f7d" stroke-width="18.7"/>
<path d="M566.1 398.2 L563.5 399.9 L561.0 401.5 L558.5 403.1 L556.0 404.8" stroke="#6c7876" stroke-width="18.7"/>
<path d="M558.5 403.1 L556.0 404.8 L553.5 406.5 L550.9 408.1 L548.4 409.8" stroke="#667270" stroke-width="18.7"/>
<path d="M550.9 408.1 L548.4 409.8 L545.9 411.4 L543.4 413.1 L540.9 414.8" stroke="#5f6b69" stroke-width="18.7"/>
<path d="M543.4 413.1 L540.9 414.8 L538.4 416.5 L535.9 418.1 L533.4 419.8" stroke="#5a6664" stroke-width="18.8"/>
<path d="M535.9 418.1 L533.4 419.8 L530.9 421.5 L528.5 423.2 L526.0 424.9" stroke="#5a6664" stroke-width="18.8"/>
<path d="M528.5 423.2 L526.0 424.9 L523.5 426.6 L521.0 428.3 L518.5 430.0" stroke="#5a6663" stroke-width="18.8"/>
<path d="M521.0 428.3 L518.5 430.0 L516.1 431.8 L513.6 433.5 L511.2 435.2" stroke="#5a6663" stroke-width="18.8"/>
<path d="M513.6 433.5 L511.2 435.2 L508.7 437.0 L506.3 438.7 L503.8 440.4" stroke="#5a6563" stroke-width="18.8"/>
<path d="M506.3 438.7 L503.8 440.4 L501.4 442.2 L498.9 443.9 L496.5 445.7" stroke="#5a6563" stroke-width="18.8"/>
<path d="M498.9 443.9 L496.5 445.7 L494.1 447.5 L491.7 449.3 L489.2 451.0" stroke="#5a6563" stroke-width="18.8"/>
<path d="M491.7 449.3 L489.2 451.0 L486.8 452.8 L484.4 454.6 L482.0 456.4" stroke="#5a6562" stroke-width="18.8"/>
<path d="M484.4 454.6 L482.0 456.4 L479.6 458.2 L477.2 460.0 L474.9 461.8" stroke="#5a6562" stroke-width="18.8"/>
<path d="M477.2 460.0 L474.9 461.8 L472.5 463.7 L470.1 465.5 L467.7 467.3" stroke="#5a6562" stroke-width="18.8"/>
<path d="M470.1 465.5 L467.7 467.3 L465.4 469.2 L463.0 471.0 L460.7 472.9" stroke="#5a6562" stroke-width="18.8"/>
<path d="M463.0 471.0 L460.7 472.9 L458.3 474.7 L456.0 476.6 L453.7 478.5" stroke="#596461" stroke-width="18.8"/>
<path d="M456.0 476.6 L453.7 478.5 L451.3 480.4 L449.0 482.3 L446.7 484.2" stroke="#596461" stroke-width="18.9"/>
<path d="M449.0 482.3 L446.7 484.2 L444.4 486.1 L442.1 488.0 L439.8 489.9" stroke="#596461" stroke-width="18.9"/>
<path d="M442.1 488.0 L439.8 489.9 L437.5 491.8 L435.2 493.8 L433.0 495.7" stroke="#596461" stroke-width="18.9"/>
<path d="M435.2 493.8 L433.0 495.7 L430.7 497.7 L428.4 499.6 L426.2 501.6" stroke="#596460" stroke-width="18.9"/>
<path d="M428.4 499.6 L426.2 501.6 L424.0 503.6 L421.7 505.6 L419.5 507.6" stroke="#596460" stroke-width="18.9"/>
<path d="M421.7 505.6 L419.5 507.6 L417.3 509.6 L415.0 511.6 L412.8 513.6" stroke="#596460" stroke-width="18.9"/>
<path d="M415.0 511.6 L412.8 513.6 L410.6 515.7 L408.5 517.7 L406.3 519.8" stroke="#596360" stroke-width="18.9"/>
<path d="M408.5 517.7 L406.3 519.8 L404.1 521.8 L401.9 523.9 L399.8 526.0" stroke="#59635f" stroke-width="18.9"/>
<path d="M401.9 523.9 L399.8 526.0 L397.6 528.1 L395.5 530.2 L393.3 532.3" stroke="#59635f" stroke-width="18.9"/>
<path d="M395.5 530.2 L393.3 532.3 L391.2 534.4 L389.1 536.5 L387.0 538.7" stroke="#59635f" stroke-width="18.9"/>
<path d="M389.1 536.5 L387.0 538.7 L384.9 540.8 L382.8 543.0 L380.8 545.1" stroke="#59635f" stroke-width="18.9"/>
<path d="M382.8 543.0 L380.8 545.1 L378.7 547.3 L376.6 549.5 L374.6 551.7" stroke="#59635f" stroke-width="18.9"/>
<path d="M376.6 549.5 L374.6 551.7 L372.6 553.9 L370.6 556.1 L368.6 558.4" stroke="#59635f" stroke-width="18.9"/>
<path d="M370.6 556.1 L368.6 558.4 L366.6 560.6 L364.7 562.9 L362.7 565.2" stroke="#5a6460" stroke-width="19.0"/>
<path d="M364.7 562.9 L362.7 565.2 L360.8 567.5 L358.9 569.7 L357.0 572.1" stroke="#5a6460" stroke-width="19.0"/>
<path d="M358.9 569.7 L357.0 572.1 L355.1 574.4 L353.3 576.7 L351.4 579.1" stroke="#5a6460" stroke-width="19.0"/>
<path d="M353.3 576.7 L351.4 579.1 L349.6 581.4 L347.8 583.8 L346.1 586.2" stroke="#5a6460" stroke-width="19.0"/>
<path d="M347.8 583.8 L346.1 586.2 L344.3 588.6 L342.6 591.0 L340.9 593.4" stroke="#5a6460" stroke-width="19.0"/>
<path d="M342.6 591.0 L340.9 593.4 L339.2 595.9 L337.5 598.4 L335.9 600.8" stroke="#5a6460" stroke-width="19.0"/>
<path d="M337.5 598.4 L335.9 600.8 L334.3 603.3 L332.7 605.8 L331.1 608.3" stroke="#5a6460" stroke-width="19.0"/>
<path d="M332.7 605.8 L331.1 608.3 L329.6 610.9 L328.1 613.4 L326.6 616.0" stroke="#5b6561" stroke-width="19.0"/>
<path d="M328.1 613.4 L326.6 616.0 L325.2 618.6 L323.7 621.2 L322.3 623.8" stroke="#5b6561" stroke-width="19.1"/>
<path d="M323.7 621.2 L322.3 623.8 L321.0 626.4 L319.6 629.0 L318.3 631.7" stroke="#5b6561" stroke-width="19.1"/>
<path d="M319.6 629.0 L318.3 631.7 L317.0 634.4 L315.7 637.0 L314.5 639.7" stroke="#5b6561" stroke-width="19.1"/>
<path d="M315.7 637.0 L314.5 639.7 L313.3 642.4 L312.1 645.2 L310.9 647.9" stroke="#5b6561" stroke-width="19.2"/>
<path d="M312.1 645.2 L310.9 647.9 L309.8 650.6 L308.7 653.4 L307.6 656.2" stroke="#5b6561" stroke-width="19.2"/>
<path d="M308.7 653.4 L307.6 656.2 L306.5 658.9 L305.5 661.7 L304.5 664.5" stroke="#5b6561" stroke-width="19.2"/>
<path d="M305.5 661.7 L304.5 664.5 L303.5 667.3 L302.6 670.2 L301.6 673.0" stroke="#5b6561" stroke-width="19.2"/>
<path d="M302.6 670.2 L301.6 673.0 L300.7 675.8 L299.8 678.7 L299.0 681.6" stroke="#5b6561" stroke-width="19.3"/>
<path d="M299.8 678.7 L299.0 681.6 L298.1 684.4 L297.3 687.3 L296.5 690.2" stroke="#5b6561" stroke-width="19.3"/>
<path d="M297.3 687.3 L296.5 690.2 L295.8 693.1 L295.0 696.0 L294.3 698.9" stroke="#5b6561" stroke-width="19.3"/>
<path d="M295.0 696.0 L294.3 698.9 L293.6 701.8 L292.9 704.8 L292.3 707.7" stroke="#5b6561" stroke-width="19.4"/>
<path d="M292.9 704.8 L292.3 707.7 L291.6 710.7 L291.0 713.6 L290.4 716.6" stroke="#5b6561" stroke-width="19.4"/>
<path d="M291.0 713.6 L290.4 716.6 L289.8 719.5 L289.3 722.5 L288.7 725.5" stroke="#5c6662" stroke-width="19.4"/>
<path d="M289.3 722.5 L288.7 725.5 L288.2 728.5 L287.7 731.4 L287.2 734.4" stroke="#5c6662" stroke-width="19.5"/>
<path d="M287.7 731.4 L287.2 734.4 L286.8 737.4 L286.3 740.4 L285.9 743.4" stroke="#5c6662" stroke-width="19.5"/>
<path d="M286.3 740.4 L285.9 743.4 L285.4 746.4 L285.0 749.4 L284.6 752.4" stroke="#5c6662" stroke-width="19.5"/>
<path d="M285.0 749.4 L284.6 752.4 L284.2 755.5 L283.9 758.5 L283.5 761.5" stroke="#5c6662" stroke-width="19.6"/>
<path d="M283.9 758.5 L283.5 761.5 L283.2 764.5 L282.8 767.5 L282.5 770.6" stroke="#5c6662" stroke-width="19.6"/>
<path d="M282.8 767.5 L282.5 770.6 L282.2 773.6 L281.9 776.6 L281.6 779.6" stroke="#5c6662" stroke-width="19.6"/>
<path d="M281.9 776.6 L281.6 779.6 L281.4 782.7 L281.1 785.7 L280.9 788.7" stroke="#5c6662" stroke-width="19.6"/>
<path d="M281.1 785.7 L280.9 788.7 L280.6 791.8 L280.4 794.8 L280.1 797.8" stroke="#5c6662" stroke-width="19.7"/>
<path d="M280.4 794.8 L280.1 797.8 L279.9 800.8 L279.7 803.9 L279.5 806.9" stroke="#5c6662" stroke-width="19.7"/>
<path d="M279.7 803.9 L279.5 806.9 L279.3 809.9 L279.1 812.9 L278.9 815.9" stroke="#5c6662" stroke-width="19.7"/>
<path d="M279.1 812.9 L278.9 815.9 L278.8 819.0 L278.6 822.0 L278.4 825.0" stroke="#5c6662" stroke-width="19.8"/>
<path d="M278.6 822.0 L278.4 825.0 L278.3 828.0 L278.1 831.0 L278.0 834.0" stroke="#5c6662" stroke-width="19.8"/>
<path d="M278.1 831.0 L278.0 834.0 L277.9 837.1 L277.7 840.1 L277.6 843.1" stroke="#434b55" stroke-width="19.8"/>
<path d="M277.7 840.1 L277.6 843.1 L277.5 846.1 L277.4 849.1 L277.3 852.1" stroke="#3a4250" stroke-width="19.9"/>
<path d="M277.4 849.1 L277.3 852.1 L277.2 855.1 L277.1 858.1 L277.0 861.1" stroke="#3a4250" stroke-width="19.9"/>
<path d="M277.1 858.1 L277.0 861.1 L277.0 864.1 L276.9 867.1 L276.8 870.2" stroke="#3a4250" stroke-width="19.9"/>
<path d="M276.9 867.1 L276.8 870.2 L276.8 873.2 L276.7 876.2 L276.7 879.2" stroke="#3a4250" stroke-width="19.9"/>
<path d="M276.7 876.2 L276.7 879.2 L276.6 882.2 L276.6 885.2 L276.6 888.2" stroke="#444d5b" stroke-width="20.0"/>
<path d="M276.6 885.2 L276.6 888.2 L276.5 891.2 L276.5 894.2 L276.5 897.2" stroke="#62707e" stroke-width="20.0"/>
<path d="M276.5 894.2 L276.5 897.2 L276.5 900.2 L276.5 903.2 L276.5 906.2" stroke="#616f7d" stroke-width="20.0"/>
<path d="M276.5 903.2 L276.5 906.2 L276.5 909.2 L276.5 912.2 L276.5 915.2" stroke="#616e7c" stroke-width="20.1"/>
<path d="M276.5 912.2 L276.5 915.2 L276.5 918.2 L276.5 921.2 L276.6 924.2" stroke="#606e7b" stroke-width="20.1"/>
<path d="M276.5 921.2 L276.6 924.2 L276.6 927.2 L276.6 930.2 L276.7 933.1" stroke="#606d7b" stroke-width="20.1"/>
<path d="M276.6 930.2 L276.7 933.1 L276.7 936.1 L276.7 939.1 L276.8 942.1" stroke="#5f6d7a" stroke-width="20.2"/>
<path d="M276.7 939.1 L276.8 942.1 L276.8 945.1 L276.9 948.1 L277.0 951.1" stroke="#5f6c79" stroke-width="20.2"/>
<path d="M276.9 948.1 L277.0 951.1 L277.0 954.1 L277.1 957.1 L277.2 960.1" stroke="#5e6b79" stroke-width="20.2"/>
<path d="M277.1 957.1 L277.2 960.1 L277.2 963.1 L277.3 966.1 L277.4 969.1" stroke="#5e6b78" stroke-width="20.3"/>
<path d="M277.3 966.1 L277.4 969.1 L277.5 972.1 L277.5 975.1 L277.6 978.1" stroke="#5d6a77" stroke-width="20.3"/>
<path d="M277.5 975.1 L277.6 978.1 L277.7 981.1 L277.8 984.1 L277.9 987.1" stroke="#5d6a76" stroke-width="20.3"/>
<path d="M277.8 984.1 L277.9 987.1 L278.0 990.0 L278.1 993.0 L278.2 996.0" stroke="#5c6976" stroke-width="20.3"/>
<path d="M278.1 993.0 L278.2 996.0 L278.3 999.0 L278.4 1002.0 L278.5 1005.0" stroke="#5c6975" stroke-width="20.4"/>
<path d="M278.4 1002.0 L278.5 1005.0 L278.6 1008.0 L278.7 1011.0 L278.8 1014.0" stroke="#5c6874" stroke-width="20.4"/>
<path d="M278.7 1011.0 L278.8 1014.0 L278.9 1017.0 L279.0 1020.0 L279.2 1023.0" stroke="#5b6774" stroke-width="20.4"/>
<path d="M279.0 1020.0 L279.2 1023.0 L279.3 1026.0 L279.4 1029.0 L279.5 1032.0" stroke="#5b6773" stroke-width="20.5"/>
<path d="M279.4 1029.0 L279.5 1032.0 L279.6 1035.0 L279.7 1038.0 L279.9 1041.0" stroke="#5a6672" stroke-width="20.5"/>
<path d="M279.7 1038.0 L279.9 1041.0 L280.0 1044.0" stroke="#5a6672" stroke-width="20.5"/>
<path d="M794.1 252.5 L784.3 259.3 L774.5 266.1 L764.7 272.8 L754.7 279.4 L744.7 286.0 L734.7 292.6 L724.6 299.0 L714.4 305.5 L704.2 311.9 L694.0 318.3 L683.8 324.7 L673.6 331.0 L663.3 337.4 L653.0 343.7 L642.8 350.0 L632.5 356.4 L622.2 362.7 L612.0 369.1 L601.7 375.5 L591.5 382.0 L581.3 388.4 L571.1 394.9 L561.0 401.5 L550.9 408.1 L540.9 414.8 L530.9 421.5 L521.0 428.3 L511.2 435.2 L501.4 442.2 L491.7 449.3 L482.0 456.4 L472.5 463.7 L463.0 471.0 L453.7 478.5 L444.4 486.1 L435.2 493.8 L426.2 501.6 L417.3 509.6 L408.5 517.7 L399.8 526.0 L391.2 534.4 L382.8 543.0 L374.6 551.7 L366.6 560.6 L358.9 569.7 L351.4 579.1 L344.3 588.6 L337.5 598.4 L331.1 608.3 L325.2 618.6 L319.6 629.0 L314.5 639.7 L309.8 650.6 L305.5 661.7 L301.6 673.0 L298.1 684.4 L295.0 696.0 L292.3 707.7 L289.8 719.5 L287.7 731.4 L285.9 743.4 L284.2 755.5 L282.8 767.5 L281.6 779.6 L280.6 791.8 L279.7 803.9 L278.9 815.9 L278.3 828.0 L277.7 840.1 L277.3 852.1 L277.0 864.1 L276.7 876.2 L276.6 888.2 L276.5 900.2 L276.5 912.2 L276.6 924.2 L276.7 936.1 L276.9 948.1 L277.2 960.1 L277.5 972.1 L277.8 984.1 L278.2 996.0 L278.6 1008.0 L279.0 1020.0 L279.5 1032.0 L280.0 1044.0" stroke="#9fb0ac" stroke-opacity="0.10" stroke-width="7"/>
<path d="M980.0 546.7 L977.0 547.0 L974.0 547.3 L971.1 547.6 L968.1 547.8" stroke="#5a625c" stroke-width="18.5"/>
<path d="M971.1 547.6 L968.1 547.8 L965.1 548.1 L962.1 548.3 L959.2 548.6" stroke="#5c645d" stroke-width="18.5"/>
<path d="M962.1 548.3 L959.2 548.6 L956.2 548.8 L953.2 549.1 L950.2 549.3" stroke="#5e665f" stroke-width="18.5"/>
<path d="M953.2 549.1 L950.2 549.3 L947.2 549.5 L944.2 549.7 L941.2 549.9" stroke="#606861" stroke-width="18.5"/>
<path d="M944.2 549.7 L941.2 549.9 L938.2 550.1 L935.3 550.3 L932.3 550.5" stroke="#626a62" stroke-width="18.5"/>
<path d="M935.3 550.3 L932.3 550.5 L929.3 550.7 L926.3 550.9 L923.3 551.0" stroke="#636b63" stroke-width="18.5"/>
<path d="M926.3 550.9 L923.3 551.0 L920.3 551.2 L917.3 551.3 L914.3 551.5" stroke="#646c64" stroke-width="18.6"/>
<path d="M917.3 551.3 L914.3 551.5 L911.3 551.6 L908.3 551.8 L905.3 551.9" stroke="#656d65" stroke-width="18.6"/>
<path d="M908.3 551.8 L905.3 551.9 L902.3 552.0 L899.3 552.2 L896.3 552.3" stroke="#656d65" stroke-width="18.6"/>
<path d="M899.3 552.2 L896.3 552.3 L893.3 552.4 L890.3 552.5 L887.3 552.6" stroke="#666e66" stroke-width="18.6"/>
<path d="M890.3 552.5 L887.3 552.6 L884.3 552.7 L881.3 552.8 L878.2 552.9" stroke="#676f67" stroke-width="18.6"/>
<path d="M881.3 552.8 L878.2 552.9 L875.2 553.0 L872.2 553.1 L869.2 553.2" stroke="#687068" stroke-width="18.6"/>
<path d="M872.2 553.1 L869.2 553.2 L866.2 553.2 L863.2 553.3 L860.2 553.4" stroke="#697169" stroke-width="18.6"/>
<path d="M863.2 553.3 L860.2 553.4 L857.2 553.5 L854.2 553.5 L851.1 553.6" stroke="#697169" stroke-width="18.6"/>
<path d="M854.2 553.5 L851.1 553.6 L848.1 553.7 L845.1 553.7 L842.1 553.8" stroke="#6a726a" stroke-width="18.6"/>
<path d="M845.1 553.7 L842.1 553.8 L839.1 553.8 L836.1 553.9 L833.1 553.9" stroke="#6c746c" stroke-width="18.6"/>
<path d="M836.1 553.9 L833.1 553.9 L830.0 554.0 L827.0 554.0 L824.0 554.1" stroke="#6f776f" stroke-width="18.6"/>
<path d="M827.0 554.0 L824.0 554.1 L821.0 554.1 L818.0 554.1 L815.0 554.2" stroke="#717971" stroke-width="18.6"/>
<path d="M818.0 554.1 L815.0 554.2 L811.9 554.2 L808.9 554.3 L805.9 554.3" stroke="#737b73" stroke-width="18.6"/>
<path d="M808.9 554.3 L805.9 554.3 L802.9 554.3 L799.9 554.4 L796.8 554.4" stroke="#757d75" stroke-width="18.7"/>
<path d="M799.9 554.4 L796.8 554.4 L793.8 554.4 L790.8 554.5 L787.8 554.5" stroke="#777f77" stroke-width="18.7"/>
<path d="M790.8 554.5 L787.8 554.5 L784.8 554.6 L781.7 554.6 L778.7 554.6" stroke="#757d75" stroke-width="18.7"/>
<path d="M781.7 554.6 L778.7 554.6 L775.7 554.7 L772.7 554.7 L769.7 554.7" stroke="#6e766f" stroke-width="18.7"/>
<path d="M772.7 554.7 L769.7 554.7 L766.6 554.8 L763.6 554.8 L760.6 554.9" stroke="#676f69" stroke-width="18.7"/>
<path d="M763.6 554.8 L760.6 554.9 L757.6 554.9 L754.6 554.9 L751.5 555.0" stroke="#626a64" stroke-width="18.7"/>
<path d="M754.6 554.9 L751.5 555.0 L748.5 555.0 L745.5 555.1 L742.5 555.1" stroke="#616a64" stroke-width="18.7"/>
<path d="M745.5 555.1 L742.5 555.1 L739.5 555.2 L736.5 555.2 L733.4 555.3" stroke="#616964" stroke-width="18.7"/>
<path d="M736.5 555.2 L733.4 555.3 L730.4 555.4 L727.4 555.4 L724.4 555.5" stroke="#606964" stroke-width="18.7"/>
<path d="M727.4 555.4 L724.4 555.5 L721.4 555.6 L718.4 555.6 L715.3 555.7" stroke="#5f6964" stroke-width="18.7"/>
<path d="M718.4 555.6 L715.3 555.7 L712.3 555.8 L709.3 555.9 L706.3 556.0" stroke="#5f6864" stroke-width="18.7"/>
<path d="M709.3 555.9 L706.3 556.0 L703.3 556.0 L700.3 556.1 L697.3 556.2" stroke="#5e6864" stroke-width="18.7"/>
<path d="M700.3 556.1 L697.3 556.2 L694.3 556.3 L691.2 556.4 L688.2 556.5" stroke="#5e6864" stroke-width="18.8"/>
<path d="M691.2 556.4 L688.2 556.5 L685.2 556.7 L682.2 556.8 L679.2 556.9" stroke="#5e6864" stroke-width="18.8"/>
<path d="M682.2 556.8 L679.2 556.9 L676.2 557.0 L673.2 557.2 L670.2 557.3" stroke="#5e6864" stroke-width="18.8"/>
<path d="M673.2 557.2 L670.2 557.3 L667.2 557.4 L664.2 557.6 L661.2 557.7" stroke="#5d6763" stroke-width="18.8"/>
<path d="M664.2 557.6 L661.2 557.7 L658.2 557.9 L655.2 558.1 L652.2 558.2" stroke="#5d6763" stroke-width="18.8"/>
<path d="M655.2 558.1 L652.2 558.2 L649.2 558.4 L646.2 558.6 L643.2 558.8" stroke="#5d6763" stroke-width="18.8"/>
<path d="M646.2 558.6 L643.2 558.8 L640.2 559.0 L637.2 559.2 L634.2 559.4" stroke="#5d6763" stroke-width="18.8"/>
<path d="M637.2 559.2 L634.2 559.4 L631.2 559.6 L628.2 559.8 L625.2 560.0" stroke="#5d6763" stroke-width="18.8"/>
<path d="M628.2 559.8 L625.2 560.0 L622.2 560.3 L619.2 560.5 L616.2 560.8" stroke="#5d6763" stroke-width="18.8"/>
<path d="M619.2 560.5 L616.2 560.8 L613.2 561.0 L610.2 561.3 L607.2 561.6" stroke="#5c6662" stroke-width="18.8"/>
<path d="M610.2 561.3 L607.2 561.6 L604.3 561.9 L601.3 562.2 L598.3 562.5" stroke="#5c6662" stroke-width="18.8"/>
<path d="M601.3 562.2 L598.3 562.5 L595.3 562.8 L592.3 563.1 L589.4 563.4" stroke="#5c6662" stroke-width="18.8"/>
<path d="M592.3 563.1 L589.4 563.4 L586.4 563.7 L583.4 564.1 L580.4 564.4" stroke="#5c6662" stroke-width="18.9"/>
<path d="M583.4 564.1 L580.4 564.4 L577.5 564.8 L574.5 565.2 L571.5 565.5" stroke="#5c6662" stroke-width="18.9"/>
<path d="M574.5 565.2 L571.5 565.5 L568.5 565.9 L565.6 566.3 L562.6 566.7" stroke="#5c6662" stroke-width="18.9"/>
<path d="M565.6 566.3 L562.6 566.7 L559.6 567.2 L556.7 567.6 L553.7 568.0" stroke="#5c6662" stroke-width="18.9"/>
<path d="M556.7 567.6 L553.7 568.0 L550.7 568.5 L547.8 568.9 L544.8 569.4" stroke="#5c6662" stroke-width="18.9"/>
<path d="M547.8 568.9 L544.8 569.4 L541.9 569.9 L538.9 570.4 L536.0 570.9" stroke="#5b6561" stroke-width="18.9"/>
<path d="M538.9 570.4 L536.0 570.9 L533.0 571.4 L530.1 571.9 L527.1 572.5" stroke="#5b6561" stroke-width="18.9"/>
<path d="M530.1 571.9 L527.1 572.5 L524.2 573.0 L521.2 573.6 L518.3 574.1" stroke="#5b6561" stroke-width="18.9"/>
<path d="M521.2 573.6 L518.3 574.1 L515.3 574.7 L512.4 575.3 L509.5 575.9" stroke="#5b6561" stroke-width="18.9"/>
<path d="M512.4 575.3 L509.5 575.9 L506.5 576.5 L503.6 577.2 L500.7 577.8" stroke="#5b6561" stroke-width="18.9"/>
<path d="M503.6 577.2 L500.7 577.8 L497.7 578.5 L494.8 579.2 L491.9 579.8" stroke="#5b6561" stroke-width="18.9"/>
<path d="M494.8 579.2 L491.9 579.8 L489.0 580.5 L486.0 581.3 L483.1 582.0" stroke="#5b6561" stroke-width="18.9"/>
<path d="M486.0 581.3 L483.1 582.0 L480.2 582.7 L477.3 583.5 L474.4 584.2" stroke="#5b6561" stroke-width="19.0"/>
<path d="M477.3 583.5 L474.4 584.2 L471.5 585.0 L468.6 585.8 L465.7 586.7" stroke="#5a6460" stroke-width="19.0"/>
<path d="M468.6 585.8 L465.7 586.7 L462.8 587.5 L460.0 588.4 L457.1 589.3" stroke="#5a6460" stroke-width="19.0"/>
<path d="M460.0 588.4 L457.1 589.3 L454.3 590.3 L451.5 591.2 L448.7 592.2" stroke="#5a6460" stroke-width="19.0"/>
<path d="M451.5 591.2 L448.7 592.2 L445.9 593.3 L443.1 594.3 L440.4 595.4" stroke="#5a6460" stroke-width="19.0"/>
<path d="M443.1 594.3 L440.4 595.4 L437.6 596.6 L434.9 597.8 L432.3 599.0" stroke="#5a6460" stroke-width="19.0"/>
<path d="M434.9 597.8 L432.3 599.0 L429.6 600.3 L427.0 601.6 L424.4 603.0" stroke="#5a6460" stroke-width="19.0"/>
<path d="M427.0 601.6 L424.4 603.0 L421.8 604.4 L419.3 605.8 L416.8 607.3" stroke="#5a6460" stroke-width="19.0"/>
<path d="M419.3 605.8 L416.8 607.3 L414.3 608.9 L411.9 610.5 L409.5 612.2" stroke="#5a6460" stroke-width="19.1"/>
<path d="M411.9 610.5 L409.5 612.2 L407.1 614.0 L404.8 615.8 L402.5 617.6" stroke="#5a6460" stroke-width="19.1"/>
<path d="M404.8 615.8 L402.5 617.6 L400.3 619.5 L398.1 621.5 L395.9 623.5" stroke="#5a6460" stroke-width="19.1"/>
<path d="M398.1 621.5 L395.9 623.5 L393.8 625.6 L391.7 627.7 L389.6 629.8" stroke="#5a6460" stroke-width="19.2"/>
<path d="M391.7 627.7 L389.6 629.8 L387.6 632.0 L385.6 634.3 L383.7 636.6" stroke="#5a6460" stroke-width="19.2"/>
<path d="M385.6 634.3 L383.7 636.6 L381.8 638.9 L379.9 641.3 L378.1 643.7" stroke="#5a6460" stroke-width="19.3"/>
<path d="M379.9 641.3 L378.1 643.7 L376.3 646.1 L374.5 648.6 L372.8 651.1" stroke="#5a6460" stroke-width="19.3"/>
<path d="M374.5 648.6 L372.8 651.1 L371.1 653.6 L369.5 656.2 L367.9 658.8" stroke="#5a6460" stroke-width="19.3"/>
<path d="M369.5 656.2 L367.9 658.8 L366.3 661.4 L364.8 664.1 L363.3 666.7" stroke="#5a6460" stroke-width="19.4"/>
<path d="M364.8 664.1 L363.3 666.7 L361.9 669.4 L360.5 672.1 L359.1 674.9" stroke="#5a6460" stroke-width="19.4"/>
<path d="M360.5 672.1 L359.1 674.9 L357.7 677.6 L356.4 680.4 L355.2 683.1" stroke="#5a6460" stroke-width="19.5"/>
<path d="M356.4 680.4 L355.2 683.1 L353.9 685.9 L352.8 688.7 L351.6 691.5" stroke="#5b655f" stroke-width="19.5"/>
<path d="M352.8 688.7 L351.6 691.5 L350.5 694.4 L349.4 697.2 L348.3 700.0" stroke="#5b655f" stroke-width="19.5"/>
<path d="M349.4 697.2 L348.3 700.0 L347.3 702.9 L346.3 705.8 L345.4 708.6" stroke="#5b655f" stroke-width="19.6"/>
<path d="M346.3 705.8 L345.4 708.6 L344.4 711.5 L343.5 714.4 L342.7 717.3" stroke="#5b655f" stroke-width="19.6"/>
<path d="M343.5 714.4 L342.7 717.3 L341.8 720.2 L341.0 723.2 L340.2 726.1" stroke="#5b655f" stroke-width="19.6"/>
<path d="M341.0 723.2 L340.2 726.1 L339.5 729.0 L338.8 732.0 L338.1 734.9" stroke="#5b655f" stroke-width="19.7"/>
<path d="M338.8 732.0 L338.1 734.9 L337.4 737.9 L336.7 740.9 L336.1 743.8" stroke="#5b655f" stroke-width="19.7"/>
<path d="M336.7 740.9 L336.1 743.8 L335.5 746.8 L334.9 749.8 L334.4 752.8" stroke="#5b655f" stroke-width="19.8"/>
<path d="M334.9 749.8 L334.4 752.8 L333.8 755.8 L333.3 758.8 L332.8 761.8" stroke="#5b655f" stroke-width="19.8"/>
<path d="M333.3 758.8 L332.8 761.8 L332.3 764.8 L331.9 767.8 L331.4 770.8" stroke="#5c665e" stroke-width="19.8"/>
<path d="M331.9 767.8 L331.4 770.8 L331.0 773.8 L330.6 776.8 L330.2 779.8" stroke="#5c665e" stroke-width="19.9"/>
<path d="M330.6 776.8 L330.2 779.8 L329.9 782.8 L329.5 785.8 L329.2 788.9" stroke="#5c665e" stroke-width="19.9"/>
<path d="M329.5 785.8 L329.2 788.9 L328.8 791.9 L328.5 794.9 L328.2 797.9" stroke="#5c665e" stroke-width="20.0"/>
<path d="M328.5 794.9 L328.2 797.9 L328.0 800.9 L327.7 803.9 L327.4 806.9" stroke="#5c665e" stroke-width="20.0"/>
<path d="M327.7 803.9 L327.4 806.9 L327.2 809.9 L326.9 812.9 L326.7 815.9" stroke="#5c665e" stroke-width="20.0"/>
<path d="M326.9 812.9 L326.7 815.9 L326.5 818.9 L326.3 821.9 L326.1 824.9" stroke="#5c665e" stroke-width="20.1"/>
<path d="M326.3 821.9 L326.1 824.9 L325.9 827.9 L325.7 830.9 L325.6 833.9" stroke="#5c665e" stroke-width="20.1"/>
<path d="M325.7 830.9 L325.6 833.9 L325.4 836.9 L325.3 839.9 L325.1 842.9" stroke="#586159" stroke-width="20.1"/>
<path d="M325.3 839.9 L325.1 842.9 L325.0 845.9 L324.9 848.9 L324.8 851.9" stroke="#4a524a" stroke-width="20.2"/>
<path d="M324.9 848.9 L324.8 851.9 L324.7 854.9 L324.6 857.9 L324.5 860.9" stroke="#4a524a" stroke-width="20.2"/>
<path d="M324.6 857.9 L324.5 860.9 L324.4 863.9 L324.4 866.9 L324.3 869.9" stroke="#4a524a" stroke-width="20.3"/>
<path d="M324.4 866.9 L324.3 869.9 L324.2 872.9 L324.2 875.8 L324.1 878.8" stroke="#4a524a" stroke-width="20.3"/>
<path d="M324.2 875.8 L324.1 878.8 L324.1 881.8 L324.1 884.8 L324.0 887.8" stroke="#505950" stroke-width="20.3"/>
<path d="M324.1 884.8 L324.0 887.8 L324.0 890.8 L324.0 893.8 L324.0 896.8" stroke="#626e62" stroke-width="20.4"/>
<path d="M324.0 893.8 L324.0 896.8 L324.0 899.8 L324.0 902.7 L324.0 905.7" stroke="#616d61" stroke-width="20.4"/>
<path d="M324.0 902.7 L324.0 905.7 L324.0 908.7 L324.0 911.7 L324.0 914.7" stroke="#616d61" stroke-width="20.5"/>
<path d="M324.0 911.7 L324.0 914.7 L324.0 917.7 L324.0 920.7 L324.0 923.7" stroke="#606c60" stroke-width="20.5"/>
<path d="M324.0 920.7 L324.0 923.7 L324.0 926.7 L324.1 929.7 L324.1 932.6" stroke="#606c5f" stroke-width="20.5"/>
<path d="M324.1 929.7 L324.1 932.6 L324.1 935.6 L324.1 938.6 L324.2 941.6" stroke="#5f6b5f" stroke-width="20.6"/>
<path d="M324.1 938.6 L324.2 941.6 L324.2 944.6 L324.2 947.6 L324.3 950.6" stroke="#5f6b5e" stroke-width="20.6"/>
<path d="M324.2 947.6 L324.3 950.6 L324.3 953.6 L324.3 956.6 L324.3 959.6" stroke="#5e6a5e" stroke-width="20.6"/>
<path d="M324.3 956.6 L324.3 959.6 L324.4 962.6 L324.4 965.6 L324.4 968.6" stroke="#5e6a5d" stroke-width="20.7"/>
<path d="M324.4 965.6 L324.4 968.6 L324.5 971.6 L324.5 974.6 L324.5 977.6" stroke="#5d695c" stroke-width="20.7"/>
<path d="M324.5 974.6 L324.5 977.6 L324.5 980.6 L324.5 983.6 L324.5 986.6" stroke="#5d695c" stroke-width="20.8"/>
<path d="M324.5 983.6 L324.5 986.6 L324.6 989.6 L324.6 992.6 L324.6 995.6" stroke="#5c685b" stroke-width="20.8"/>
<path d="M324.6 992.6 L324.6 995.6 L324.6 998.7 L324.6 1001.7 L324.6 1004.7" stroke="#5c685b" stroke-width="20.8"/>
<path d="M324.6 1001.7 L324.6 1004.7 L324.5 1007.7 L324.5 1010.7 L324.5 1013.7" stroke="#5c685a" stroke-width="20.9"/>
<path d="M324.5 1010.7 L324.5 1013.7 L324.5 1016.8 L324.5 1019.8 L324.4 1022.8" stroke="#5b6759" stroke-width="20.9"/>
<path d="M324.5 1019.8 L324.4 1022.8 L324.4 1025.8 L324.3 1028.8 L324.3 1031.9" stroke="#5b6759" stroke-width="21.0"/>
<path d="M324.3 1028.8 L324.3 1031.9 L324.2 1034.9 L324.1 1037.9 L324.1 1041.0" stroke="#5a6658" stroke-width="21.0"/>
<path d="M324.1 1037.9 L324.1 1041.0 L324.0 1044.0" stroke="#5a6658" stroke-width="21.0"/>
<path d="M980.0 546.7 L968.1 547.8 L956.2 548.8 L944.2 549.7 L932.3 550.5 L920.3 551.2 L908.3 551.8 L896.3 552.3 L884.3 552.7 L872.2 553.1 L860.2 553.4 L848.1 553.7 L836.1 553.9 L824.0 554.1 L811.9 554.2 L799.9 554.4 L787.8 554.5 L775.7 554.7 L763.6 554.8 L751.5 555.0 L739.5 555.2 L727.4 555.4 L715.3 555.7 L703.3 556.0 L691.2 556.4 L679.2 556.9 L667.2 557.4 L655.2 558.1 L643.2 558.8 L631.2 559.6 L619.2 560.5 L607.2 561.6 L595.3 562.8 L583.4 564.1 L571.5 565.5 L559.6 567.2 L547.8 568.9 L536.0 570.9 L524.2 573.0 L512.4 575.3 L500.7 577.8 L489.0 580.5 L477.3 583.5 L465.7 586.7 L454.3 590.3 L443.1 594.3 L432.3 599.0 L421.8 604.4 L411.9 610.5 L402.5 617.6 L393.8 625.6 L385.6 634.3 L378.1 643.7 L371.1 653.6 L364.8 664.1 L359.1 674.9 L353.9 685.9 L349.4 697.2 L345.4 708.6 L341.8 720.2 L338.8 732.0 L336.1 743.8 L333.8 755.8 L331.9 767.8 L330.2 779.8 L328.8 791.9 L327.7 803.9 L326.7 815.9 L325.9 827.9 L325.3 839.9 L324.8 851.9 L324.4 863.9 L324.2 875.8 L324.0 887.8 L324.0 899.8 L324.0 911.7 L324.0 923.7 L324.1 935.6 L324.2 947.6 L324.3 959.6 L324.5 971.6 L324.5 983.6 L324.6 995.6 L324.5 1007.7 L324.5 1019.8 L324.3 1031.9 L324.0 1044.0" stroke="#9fb0ac" stroke-opacity="0.10" stroke-width="7"/>
</g>
<g filter="url(#b2)">
<ellipse cx="179.5" cy="640.0" rx="5" ry="6" fill="#d0d8d2"/>
<ellipse cx="245.0" cy="635.0" rx="5" ry="6" fill="#d0d8d2"/>
<ellipse cx="315.0" cy="637.5" rx="5" ry="6" fill="#d0d8d2"/>
<ellipse cx="377.5" cy="646.0" rx="5" ry="6" fill="#d0d8d2"/>
</g></g>
<g clip-path="url(#clipR)"><g filter="url(#b2)" fill="none" stroke-linecap="butt" stroke-linejoin="round">
<path d="M1201.0 52.5 L1201.0 55.5 L1201.0 58.5 L1201.0 61.5 L1201.0 64.5" stroke="#4d4d4d" stroke-width="17.0"/>
<path d="M1201.0 61.5 L1201.0 64.5 L1201.0 67.5 L1201.0 70.5 L1201.0 73.6" stroke="#4e4e4e" stroke-width="17.0"/>
<path d="M1201.0 70.5 L1201.0 73.6 L1201.1 76.6 L1201.1 79.6 L1201.1 82.6" stroke="#4f504f" stroke-width="17.0"/>
<path d="M1201.1 79.6 L1201.1 82.6 L1201.1 85.6 L1201.2 88.6 L1201.2 91.6" stroke="#505250" stroke-width="17.1"/>
<path d="M1201.2 88.6 L1201.2 91.6 L1201.2 94.6 L1201.2 97.6 L1201.3 100.6" stroke="#525352" stroke-width="17.1"/>
<path d="M1201.2 97.6 L1201.3 100.6 L1201.3 103.6 L1201.3 106.6 L1201.4 109.6" stroke="#535553" stroke-width="17.1"/>
<path d="M1201.3 106.6 L1201.4 109.6 L1201.4 112.6 L1201.5 115.6 L1201.5 118.6" stroke="#61665c" stroke-width="17.1"/>
<path d="M1201.5 115.6 L1201.5 118.6 L1201.6 121.7 L1201.6 124.7 L1201.7 127.7" stroke="#8a9774" stroke-width="17.1"/>
<path d="M1201.6 124.7 L1201.7 127.7 L1201.7 130.7 L1201.8 133.7 L1201.8 136.7" stroke="#8b9875" stroke-width="17.2"/>
<path d="M1201.8 133.7 L1201.8 136.7 L1201.9 139.7 L1202.0 142.7 L1202.0 145.7" stroke="#8b9875" stroke-width="17.2"/>
<path d="M1202.0 142.7 L1202.0 145.7 L1202.1 148.7 L1202.2 151.7 L1202.2 154.7" stroke="#8c9975" stroke-width="17.2"/>
<path d="M1202.2 151.7 L1202.2 154.7 L1202.3 157.7 L1202.4 160.7 L1202.4 163.7" stroke="#8c9976" stroke-width="17.2"/>
<path d="M1202.4 160.7 L1202.4 163.7 L1202.5 166.7 L1202.6 169.7 L1202.7 172.7" stroke="#8d9a76" stroke-width="17.2"/>
<path d="M1202.6 169.7 L1202.7 172.7 L1202.7 175.7 L1202.8 178.8 L1202.9 181.8" stroke="#8d9a77" stroke-width="17.2"/>
<path d="M1202.8 178.8 L1202.9 181.8 L1203.0 184.8 L1203.1 187.8 L1203.2 190.8" stroke="#8e9b77" stroke-width="17.3"/>
<path d="M1203.1 187.8 L1203.2 190.8 L1203.3 193.8 L1203.3 196.8 L1203.4 199.8" stroke="#8e9b77" stroke-width="17.3"/>
<path d="M1203.3 196.8 L1203.4 199.8 L1203.5 202.8 L1203.6 205.8 L1203.7 208.8" stroke="#8f9c78" stroke-width="17.3"/>
<path d="M1203.6 205.8 L1203.7 208.8 L1203.8 211.8 L1203.9 214.8 L1204.0 217.8" stroke="#869275" stroke-width="17.3"/>
<path d="M1203.9 214.8 L1204.0 217.8 L1204.1 220.8 L1204.2 223.8 L1204.3 226.8" stroke="#6b756b" stroke-width="17.3"/>
<path d="M1204.2 223.8 L1204.3 226.8 L1204.4 229.8 L1204.5 232.8 L1204.6 235.8" stroke="#6c766c" stroke-width="17.4"/>
<path d="M1204.5 232.8 L1204.6 235.8 L1204.8 238.8 L1204.9 241.8 L1205.0 244.9" stroke="#6e786e" stroke-width="17.4"/>
<path d="M1204.9 241.8 L1205.0 244.9 L1205.1 247.9 L1205.2 250.9 L1205.3 253.9" stroke="#6f796f" stroke-width="17.4"/>
<path d="M1205.2 250.9 L1205.3 253.9 L1205.4 256.9 L1205.5 259.9 L1205.7 262.9" stroke="#707a70" stroke-width="17.4"/>
<path d="M1205.5 259.9 L1205.7 262.9 L1205.8 265.9 L1205.9 268.9 L1206.0 271.9" stroke="#727c72" stroke-width="17.4"/>
<path d="M1205.9 268.9 L1206.0 271.9 L1206.1 274.9 L1206.3 277.9 L1206.4 280.9" stroke="#a8b7a3" stroke-width="17.4"/>
<path d="M1206.3 277.9 L1206.4 280.9 L1206.5 283.9 L1206.6 286.9 L1206.8 289.9" stroke="#cadcc2" stroke-width="17.5"/>
<path d="M1206.6 286.9 L1206.8 289.9 L1206.9 292.9 L1207.0 295.9 L1207.1 298.9" stroke="#cfe1c7" stroke-width="17.5"/>
<path d="M1207.0 295.9 L1207.1 298.9 L1207.3 301.9 L1207.4 304.9 L1207.5 307.9" stroke="#d3e5cb" stroke-width="17.5"/>
<path d="M1207.4 304.9 L1207.5 307.9 L1207.7 310.9 L1207.8 313.9 L1207.9 316.9" stroke="#d7e9cf" stroke-width="17.5"/>
<path d="M1207.8 313.9 L1207.9 316.9 L1208.0 319.9 L1208.2 322.9 L1208.3 325.9" stroke="#bcd0b5" stroke-width="17.5"/>
<path d="M1208.2 322.9 L1208.3 325.9 L1208.4 328.9 L1208.6 332.0 L1208.7 335.0" stroke="#9fb59a" stroke-width="17.5"/>
<path d="M1208.6 332.0 L1208.7 335.0 L1208.8 338.0 L1209.0 341.0 L1209.1 344.0" stroke="#a0b69b" stroke-width="17.6"/>
<path d="M1209.0 341.0 L1209.1 344.0 L1209.3 347.0 L1209.4 350.0 L1209.5 353.0" stroke="#a1b69c" stroke-width="17.6"/>
<path d="M1209.4 350.0 L1209.5 353.0 L1209.7 356.0 L1209.8 359.0 L1209.9 362.0" stroke="#a1b79e" stroke-width="17.6"/>
<path d="M1209.8 359.0 L1209.9 362.0 L1210.1 365.0 L1210.2 368.0 L1210.4 371.0" stroke="#a2b79f" stroke-width="17.6"/>
<path d="M1210.2 368.0 L1210.4 371.0 L1210.5 374.0 L1210.6 377.0 L1210.8 380.0" stroke="#a3b8a0" stroke-width="17.6"/>
<path d="M1210.6 377.0 L1210.8 380.0 L1210.9 383.0 L1211.1 386.0 L1211.2 389.0" stroke="#a3b8a1" stroke-width="17.6"/>
<path d="M1211.1 386.0 L1211.2 389.0 L1211.3 392.0 L1211.5 395.0 L1211.6 398.0" stroke="#a4b9a2" stroke-width="17.7"/>
<path d="M1211.5 395.0 L1211.6 398.0 L1211.8 401.0 L1211.9 404.0 L1212.0 407.0" stroke="#a5baa3" stroke-width="17.7"/>
<path d="M1211.9 404.0 L1212.0 407.0 L1212.2 410.0 L1212.3 413.0 L1212.5 416.0" stroke="#a6baa4" stroke-width="17.7"/>
<path d="M1212.3 413.0 L1212.5 416.0 L1212.6 419.0 L1212.7 422.0 L1212.9 425.0" stroke="#a6bba5" stroke-width="17.7"/>
<path d="M1212.7 422.0 L1212.9 425.0 L1213.0 428.0 L1213.2 431.0 L1213.3 434.0" stroke="#a7bba6" stroke-width="17.7"/>
<path d="M1213.2 431.0 L1213.3 434.0 L1213.4 437.1 L1213.6 440.1 L1213.7 443.1" stroke="#a8bca7" stroke-width="17.7"/>
<path d="M1213.6 440.1 L1213.7 443.1 L1213.9 446.1 L1214.0 449.1 L1214.1 452.1" stroke="#a9bca9" stroke-width="17.8"/>
<path d="M1214.0 449.1 L1214.1 452.1 L1214.3 455.1 L1214.4 458.1 L1214.5 461.1" stroke="#aabdaa" stroke-width="17.8"/>
<path d="M1214.4 458.1 L1214.5 461.1 L1214.7 464.1 L1214.8 467.1 L1215.0 470.1" stroke="#abbeab" stroke-width="17.8"/>
<path d="M1214.8 467.1 L1215.0 470.1 L1215.1 473.1 L1215.2 476.1 L1215.4 479.1" stroke="#acbfac" stroke-width="17.8"/>
<path d="M1215.2 476.1 L1215.4 479.1 L1215.5 482.1 L1215.6 485.1 L1215.8 488.1" stroke="#adc0ad" stroke-width="17.8"/>
<path d="M1215.6 485.1 L1215.8 488.1 L1215.9 491.1 L1216.0 494.1 L1216.2 497.1" stroke="#afc1af" stroke-width="17.8"/>
<path d="M1216.0 494.1 L1216.2 497.1 L1216.3 500.1 L1216.4 503.1 L1216.5 506.1" stroke="#b0c2b0" stroke-width="17.8"/>
<path d="M1216.4 503.1 L1216.5 506.1 L1216.7 509.1 L1216.8 512.1 L1216.9 515.1" stroke="#b1c3b1" stroke-width="17.9"/>
<path d="M1216.8 512.1 L1216.9 515.1 L1217.1 518.1 L1217.2 521.1 L1217.3 524.1" stroke="#b2c4b2" stroke-width="17.9"/>
<path d="M1217.2 521.1 L1217.3 524.1 L1217.4 527.1 L1217.5 530.1 L1217.7 533.1" stroke="#b3c5b3" stroke-width="17.9"/>
<path d="M1217.5 530.1 L1217.7 533.1 L1217.8 536.2 L1217.9 539.2 L1218.0 542.2" stroke="#b5c5b5" stroke-width="17.9"/>
<path d="M1217.9 539.2 L1218.0 542.2 L1218.1 545.2 L1218.3 548.2 L1218.4 551.2" stroke="#b6c6b6" stroke-width="17.9"/>
<path d="M1218.3 548.2 L1218.4 551.2 L1218.5 554.2 L1218.6 557.2 L1218.7 560.2" stroke="#b7c7b7" stroke-width="17.9"/>
<path d="M1218.6 557.2 L1218.7 560.2 L1218.8 563.2 L1218.9 566.2 L1219.1 569.2" stroke="#bacaba" stroke-width="18.0"/>
<path d="M1218.9 566.2 L1219.1 569.2 L1219.2 572.2 L1219.3 575.2 L1219.4 578.2" stroke="#c5d3c5" stroke-width="18.0"/>
<path d="M1219.3 575.2 L1219.4 578.2 L1219.5 581.2 L1219.6 584.2 L1219.7 587.2" stroke="#d0dcd0" stroke-width="18.0"/>
<path d="M1219.6 584.2 L1219.7 587.2 L1219.8 590.2 L1219.9 593.2 L1220.0 596.2" stroke="#dbe5db" stroke-width="18.0"/>
<path d="M1219.9 593.2 L1220.0 596.2 L1220.1 599.2 L1220.2 602.2 L1220.3 605.2" stroke="#e6eee6" stroke-width="18.3"/>
<path d="M1220.2 602.2 L1220.3 605.2 L1220.4 608.2 L1220.5 611.2 L1220.6 614.2" stroke="#f6f9f6" stroke-width="18.7"/>
<path d="M1220.5 611.2 L1220.6 614.2 L1220.7 617.2 L1220.8 620.3 L1220.9 623.3" stroke="#ffffff" stroke-width="19.0"/>
<path d="M1220.8 620.3 L1220.9 623.3 L1221.0 626.3 L1221.1 629.3 L1221.1 632.3" stroke="#ffffff" stroke-width="19.1"/>
<path d="M1221.1 629.3 L1221.1 632.3 L1221.2 635.3 L1221.3 638.3 L1221.4 641.3" stroke="#ffffff" stroke-width="19.1"/>
<path d="M1221.3 638.3 L1221.4 641.3 L1221.5 644.3 L1221.6 647.3 L1221.7 650.3" stroke="#ffffff" stroke-width="19.2"/>
<path d="M1221.6 647.3 L1221.7 650.3 L1221.7 653.3 L1221.8 656.3 L1221.9 659.3" stroke="#ffffff" stroke-width="19.2"/>
<path d="M1221.8 656.3 L1221.9 659.3 L1222.0 662.3 L1222.1 665.3 L1222.1 668.3" stroke="#ffffff" stroke-width="19.3"/>
<path d="M1222.1 665.3 L1222.1 668.3 L1222.2 671.3 L1222.3 674.3 L1222.4 677.3" stroke="#ffffff" stroke-width="19.3"/>
<path d="M1222.3 674.3 L1222.4 677.3 L1222.5 680.3 L1222.5 683.3 L1222.6 686.3" stroke="#ffffff" stroke-width="19.4"/>
<path d="M1222.5 683.3 L1222.6 686.3 L1222.7 689.3 L1222.7 692.4 L1222.8 695.4" stroke="#ffffff" stroke-width="19.4"/>
<path d="M1222.7 692.4 L1222.8 695.4 L1222.9 698.4 L1223.0 701.4 L1223.0 704.4" stroke="#ffffff" stroke-width="19.5"/>
<path d="M1223.0 701.4 L1223.0 704.4 L1223.1 707.4 L1223.2 710.4 L1223.2 713.4" stroke="#ffffff" stroke-width="19.5"/>
<path d="M1223.2 710.4 L1223.2 713.4 L1223.3 716.4 L1223.4 719.4 L1223.4 722.4" stroke="#ffffff" stroke-width="19.6"/>
<path d="M1223.4 719.4 L1223.4 722.4 L1223.5 725.4 L1223.6 728.4 L1223.6 731.4" stroke="#ffffff" stroke-width="19.7"/>
<path d="M1223.6 728.4 L1223.6 731.4 L1223.7 734.4 L1223.7 737.4 L1223.8 740.4" stroke="#ffffff" stroke-width="19.8"/>
<path d="M1223.7 737.4 L1223.8 740.4 L1223.9 743.4 L1223.9 746.4 L1224.0 749.4" stroke="#ffffff" stroke-width="19.9"/>
<path d="M1223.9 746.4 L1224.0 749.4 L1224.0 752.4 L1224.1 755.5 L1224.2 758.5" stroke="#ffffff" stroke-width="20.0"/>
<path d="M1224.1 755.5 L1224.2 758.5 L1224.2 761.5 L1224.3 764.5 L1224.3 767.5" stroke="#ffffff" stroke-width="20.1"/>
<path d="M1224.3 764.5 L1224.3 767.5 L1224.4 770.5 L1224.4 773.5 L1224.5 776.5" stroke="#ffffff" stroke-width="20.2"/>
<path d="M1224.4 773.5 L1224.5 776.5 L1224.5 779.5 L1224.6 782.5 L1224.6 785.5" stroke="#ffffff" stroke-width="20.3"/>
<path d="M1224.6 782.5 L1224.6 785.5 L1224.7 788.5 L1224.7 791.5 L1224.8 794.5" stroke="#ffffff" stroke-width="20.4"/>
<path d="M1224.7 791.5 L1224.8 794.5 L1224.8 797.5 L1224.9 800.5 L1224.9 803.5" stroke="#ffffff" stroke-width="20.5"/>
<path d="M1224.9 800.5 L1224.9 803.5 L1225.0 806.5 L1225.0 809.5 L1225.1 812.5" stroke="#ffffff" stroke-width="20.6"/>
<path d="M1225.0 809.5 L1225.1 812.5 L1225.1 815.6 L1225.1 818.6 L1225.2 821.6" stroke="#ffffff" stroke-width="20.6"/>
<path d="M1225.1 818.6 L1225.2 821.6 L1225.2 824.6 L1225.3 827.6 L1225.3 830.6" stroke="#ffffff" stroke-width="20.7"/>
<path d="M1225.3 827.6 L1225.3 830.6 L1225.4 833.6 L1225.4 836.6 L1225.4 839.6" stroke="#ffffff" stroke-width="20.8"/>
<path d="M1225.4 836.6 L1225.4 839.6 L1225.5 842.6 L1225.5 845.6 L1225.6 848.6" stroke="#ffffff" stroke-width="20.9"/>
<path d="M1225.5 845.6 L1225.6 848.6 L1225.6 851.6 L1225.6 854.6 L1225.7 857.6" stroke="#ffffff" stroke-width="21.0"/>
<path d="M1225.6 854.6 L1225.7 857.6 L1225.7 860.6 L1225.7 863.6 L1225.8 866.6" stroke="#ffffff" stroke-width="21.1"/>
<path d="M1225.7 863.6 L1225.8 866.6 L1225.8 869.7 L1225.8 872.7 L1225.9 875.7" stroke="#ffffff" stroke-width="21.1"/>
<path d="M1225.8 872.7 L1225.9 875.7 L1225.9 878.7 L1225.9 881.7 L1226.0 884.7" stroke="#ffffff" stroke-width="21.2"/>
<path d="M1225.9 881.7 L1226.0 884.7 L1226.0 887.7 L1226.0 890.7 L1226.1 893.7" stroke="#ffffff" stroke-width="21.2"/>
<path d="M1226.0 890.7 L1226.1 893.7 L1226.1 896.7 L1226.1 899.7 L1226.2 902.7" stroke="#ffffff" stroke-width="21.2"/>
<path d="M1226.1 899.7 L1226.2 902.7 L1226.2 905.7 L1226.2 908.7 L1226.3 911.7" stroke="#ffffff" stroke-width="21.3"/>
<path d="M1226.2 908.7 L1226.3 911.7 L1226.3 914.7 L1226.3 917.7 L1226.3 920.8" stroke="#ffffff" stroke-width="21.3"/>
<path d="M1226.3 917.7 L1226.3 920.8 L1226.4 923.8 L1226.4 926.8 L1226.4 929.8" stroke="#ffffff" stroke-width="21.4"/>
<path d="M1226.4 926.8 L1226.4 929.8 L1226.5 932.8 L1226.5 935.8 L1226.5 938.8" stroke="#ffffff" stroke-width="21.4"/>
<path d="M1226.5 935.8 L1226.5 938.8 L1226.5 941.8 L1226.6 944.8 L1226.6 947.8" stroke="#ffffff" stroke-width="21.5"/>
<path d="M1226.6 944.8 L1226.6 947.8 L1226.6 950.8 L1226.6 953.8 L1226.7 956.8" stroke="#ffffff" stroke-width="21.5"/>
<path d="M1226.6 953.8 L1226.7 956.8 L1226.7 959.8 L1226.7 962.8 L1226.7 965.8" stroke="#ffffff" stroke-width="21.6"/>
<path d="M1226.7 962.8 L1226.7 965.8 L1226.8 968.8 L1226.8 971.9 L1226.8 974.9" stroke="#ffffff" stroke-width="21.6"/>
<path d="M1226.8 971.9 L1226.8 974.9 L1226.8 977.9 L1226.8 980.9 L1226.9 983.9" stroke="#fefdfe" stroke-width="21.7"/>
<path d="M1226.8 980.9 L1226.9 983.9 L1226.9 986.9 L1226.9 989.9 L1226.9 992.9" stroke="#fbf4fb" stroke-width="21.7"/>
<path d="M1226.9 989.9 L1226.9 992.9 L1227.0 995.9 L1227.0 998.9 L1227.0 1001.9" stroke="#f8ebf8" stroke-width="21.8"/>
<path d="M1227.0 998.9 L1227.0 1001.9 L1227.0 1004.9 L1227.0 1007.9 L1227.1 1010.9" stroke="#f3e0f3" stroke-width="21.8"/>
<path d="M1227.0 1007.9 L1227.1 1010.9 L1227.1 1013.9 L1227.1 1016.9 L1227.1 1020.0" stroke="#edd5ee" stroke-width="21.9"/>
<path d="M1227.1 1016.9 L1227.1 1020.0 L1227.1 1023.0 L1227.2 1026.0 L1227.2 1029.0" stroke="#e7cae9" stroke-width="21.9"/>
<path d="M1227.2 1026.0 L1227.2 1029.0 L1227.2 1032.0 L1227.2 1035.0 L1227.2 1038.0" stroke="#e8ccea" stroke-width="22.0"/>
<path d="M1227.2 1035.0 L1227.2 1038.0 L1227.3 1041.0 L1227.3 1044.0" stroke="#ecd4ee" stroke-width="22.0"/>
<path d="M1541.7 104.8 L1540.3 107.4 L1538.8 110.0 L1537.4 112.6 L1535.9 115.2" stroke="#424242" stroke-width="18.0"/>
<path d="M1537.4 112.6 L1535.9 115.2 L1534.5 117.8 L1533.0 120.4 L1531.6 123.0" stroke="#424242" stroke-width="18.0"/>
<path d="M1533.0 120.4 L1531.6 123.0 L1530.1 125.5 L1528.7 128.1 L1527.2 130.7" stroke="#414242" stroke-width="18.0"/>
<path d="M1528.7 128.1 L1527.2 130.7 L1525.7 133.3 L1524.3 135.9 L1522.8 138.5" stroke="#414242" stroke-width="18.0"/>
<path d="M1524.3 135.9 L1522.8 138.5 L1521.3 141.1 L1519.8 143.7 L1518.3 146.3" stroke="#404242" stroke-width="18.0"/>
<path d="M1519.8 143.7 L1518.3 146.3 L1516.9 148.9 L1515.4 151.5 L1513.9 154.1" stroke="#404242" stroke-width="18.0"/>
<path d="M1515.4 151.5 L1513.9 154.1 L1512.4 156.7 L1510.9 159.3 L1509.4 161.8" stroke="#404242" stroke-width="18.0"/>
<path d="M1510.9 159.3 L1509.4 161.8 L1507.9 164.4 L1506.4 167.0 L1504.9 169.6" stroke="#404243" stroke-width="18.0"/>
<path d="M1506.4 167.0 L1504.9 169.6 L1503.4 172.2 L1501.9 174.8 L1500.4 177.4" stroke="#414343" stroke-width="18.0"/>
<path d="M1501.9 174.8 L1500.4 177.4 L1498.8 180.0 L1497.3 182.6 L1495.8 185.2" stroke="#414343" stroke-width="18.0"/>
<path d="M1497.3 182.6 L1495.8 185.2 L1494.3 187.8 L1492.8 190.4 L1491.3 193.0" stroke="#414344" stroke-width="18.0"/>
<path d="M1492.8 190.4 L1491.3 193.0 L1489.8 195.6 L1488.2 198.2 L1486.7 200.8" stroke="#414444" stroke-width="18.0"/>
<path d="M1488.2 198.2 L1486.7 200.8 L1485.2 203.4 L1483.7 206.0 L1482.2 208.6" stroke="#414444" stroke-width="18.0"/>
<path d="M1483.7 206.0 L1482.2 208.6 L1480.6 211.2 L1479.1 213.8 L1477.6 216.4" stroke="#414445" stroke-width="18.0"/>
<path d="M1479.1 213.8 L1477.6 216.4 L1476.1 219.0 L1474.5 221.6 L1473.0 224.2" stroke="#424445" stroke-width="18.0"/>
<path d="M1474.5 221.6 L1473.0 224.2 L1471.5 226.8 L1470.0 229.4 L1468.4 232.0" stroke="#424546" stroke-width="18.0"/>
<path d="M1470.0 229.4 L1468.4 232.0 L1466.9 234.6 L1465.4 237.2 L1463.9 239.9" stroke="#424546" stroke-width="18.0"/>
<path d="M1465.4 237.2 L1463.9 239.9 L1462.3 242.5 L1460.8 245.1 L1459.3 247.7" stroke="#424546" stroke-width="18.0"/>
<path d="M1460.8 245.1 L1459.3 247.7 L1457.8 250.3 L1456.3 252.9 L1454.7 255.5" stroke="#424547" stroke-width="18.0"/>
<path d="M1456.3 252.9 L1454.7 255.5 L1453.2 258.1 L1451.7 260.8 L1450.2 263.4" stroke="#434647" stroke-width="18.0"/>
<path d="M1451.7 260.8 L1450.2 263.4 L1448.7 266.0 L1447.1 268.6 L1445.6 271.2" stroke="#434647" stroke-width="18.0"/>
<path d="M1447.1 268.6 L1445.6 271.2 L1444.1 273.9 L1442.6 276.5 L1441.1 279.1" stroke="#434648" stroke-width="18.0"/>
<path d="M1442.6 276.5 L1441.1 279.1 L1439.6 281.7 L1438.1 284.4 L1436.6 287.0" stroke="#434748" stroke-width="18.0"/>
<path d="M1438.1 284.4 L1436.6 287.0 L1435.1 289.6 L1433.6 292.2 L1432.1 294.9" stroke="#434748" stroke-width="18.0"/>
<path d="M1433.6 292.2 L1432.1 294.9 L1430.6 297.5 L1429.1 300.1 L1427.6 302.8" stroke="#434749" stroke-width="18.0"/>
<path d="M1429.1 300.1 L1427.6 302.8 L1426.1 305.4 L1424.6 308.0 L1423.1 310.7" stroke="#444749" stroke-width="18.0"/>
<path d="M1424.6 308.0 L1423.1 310.7 L1421.7 313.3 L1420.2 315.9 L1418.7 318.6" stroke="#44484a" stroke-width="18.0"/>
<path d="M1420.2 315.9 L1418.7 318.6 L1417.2 321.2 L1415.8 323.9 L1414.3 326.5" stroke="#44484a" stroke-width="18.0"/>
<path d="M1415.8 323.9 L1414.3 326.5 L1412.8 329.2 L1411.4 331.8 L1409.9 334.5" stroke="#464a4c" stroke-width="18.0"/>
<path d="M1411.4 331.8 L1409.9 334.5 L1408.5 337.1 L1407.0 339.8 L1405.6 342.4" stroke="#484c4e" stroke-width="18.0"/>
<path d="M1407.0 339.8 L1405.6 342.4 L1404.1 345.1 L1402.7 347.7 L1401.3 350.4" stroke="#484d4f" stroke-width="18.0"/>
<path d="M1402.7 347.7 L1401.3 350.4 L1399.8 353.1 L1398.4 355.7 L1397.0 358.4" stroke="#494d50" stroke-width="18.0"/>
<path d="M1398.4 355.7 L1397.0 358.4 L1395.6 361.1 L1394.1 363.7 L1392.7 366.4" stroke="#494e50" stroke-width="18.0"/>
<path d="M1394.1 363.7 L1392.7 366.4 L1391.3 369.1 L1389.9 371.7 L1388.5 374.4" stroke="#494e51" stroke-width="18.0"/>
<path d="M1389.9 371.7 L1388.5 374.4 L1387.1 377.1 L1385.7 379.8 L1384.4 382.4" stroke="#494e52" stroke-width="18.0"/>
<path d="M1385.7 379.8 L1384.4 382.4 L1383.0 385.1 L1381.6 387.8 L1380.2 390.5" stroke="#494f52" stroke-width="18.0"/>
<path d="M1381.6 387.8 L1380.2 390.5 L1378.9 393.2 L1377.5 395.9 L1376.2 398.6" stroke="#4a4f53" stroke-width="18.0"/>
<path d="M1377.5 395.9 L1376.2 398.6 L1374.8 401.3 L1373.5 403.9 L1372.2 406.6" stroke="#4a5054" stroke-width="18.0"/>
<path d="M1373.5 403.9 L1372.2 406.6 L1370.8 409.3 L1369.5 412.0 L1368.2 414.7" stroke="#4c5357" stroke-width="18.0"/>
<path d="M1369.5 412.0 L1368.2 414.7 L1366.9 417.5 L1365.6 420.2 L1364.3 422.9" stroke="#4f565b" stroke-width="18.0"/>
<path d="M1365.6 420.2 L1364.3 422.9 L1363.0 425.6 L1361.7 428.3 L1360.4 431.0" stroke="#515a5f" stroke-width="18.0"/>
<path d="M1361.7 428.3 L1360.4 431.0 L1359.1 433.7 L1357.9 436.4 L1356.6 439.2" stroke="#545d63" stroke-width="18.0"/>
<path d="M1357.9 436.4 L1356.6 439.2 L1355.3 441.9 L1354.1 444.6 L1352.8 447.3" stroke="#566067" stroke-width="18.0"/>
<path d="M1354.1 444.6 L1352.8 447.3 L1351.6 450.1 L1350.4 452.8 L1349.2 455.5" stroke="#59636a" stroke-width="18.0"/>
<path d="M1350.4 452.8 L1349.2 455.5 L1347.9 458.3 L1346.7 461.0 L1345.5 463.8" stroke="#5b656d" stroke-width="18.0"/>
<path d="M1346.7 461.0 L1345.5 463.8 L1344.4 466.5 L1343.2 469.3 L1342.0 472.0" stroke="#5d6870" stroke-width="18.0"/>
<path d="M1343.2 469.3 L1342.0 472.0 L1340.8 474.8 L1339.7 477.5 L1338.5 480.3" stroke="#5f6a73" stroke-width="18.0"/>
<path d="M1339.7 477.5 L1338.5 480.3 L1337.4 483.0 L1336.2 485.8 L1335.1 488.6" stroke="#616d76" stroke-width="18.0"/>
<path d="M1336.2 485.8 L1335.1 488.6 L1334.0 491.3 L1332.9 494.1 L1331.8 496.9" stroke="#636f79" stroke-width="18.0"/>
<path d="M1332.9 494.1 L1331.8 496.9 L1330.7 499.6 L1329.6 502.4 L1328.5 505.2" stroke="#66727c" stroke-width="18.0"/>
<path d="M1329.6 502.4 L1328.5 505.2 L1327.4 508.0 L1326.4 510.8 L1325.3 513.6" stroke="#697680" stroke-width="18.0"/>
<path d="M1326.4 510.8 L1325.3 513.6 L1324.3 516.4 L1323.2 519.1 L1322.2 521.9" stroke="#6d7b86" stroke-width="18.0"/>
<path d="M1323.2 519.1 L1322.2 521.9 L1321.2 524.7 L1320.2 527.5 L1319.2 530.4" stroke="#717f8b" stroke-width="18.0"/>
<path d="M1320.2 527.5 L1319.2 530.4 L1318.2 533.2 L1317.2 536.0 L1316.2 538.8" stroke="#758490" stroke-width="18.0"/>
<path d="M1317.2 536.0 L1316.2 538.8 L1315.3 541.6 L1314.3 544.4 L1313.4 547.2" stroke="#788895" stroke-width="18.0"/>
<path d="M1314.3 544.4 L1313.4 547.2 L1312.5 550.1 L1311.5 552.9 L1310.6 555.7" stroke="#7c8d9a" stroke-width="18.0"/>
<path d="M1311.5 552.9 L1310.6 555.7 L1309.7 558.6 L1308.8 561.4 L1308.0 564.2" stroke="#80929f" stroke-width="18.0"/>
<path d="M1308.8 561.4 L1308.0 564.2 L1307.1 567.1 L1306.2 569.9 L1305.4 572.8" stroke="#8799a7" stroke-width="18.0"/>
<path d="M1306.2 569.9 L1305.4 572.8 L1304.5 575.6 L1303.7 578.5 L1302.9 581.4" stroke="#90a3b1" stroke-width="18.0"/>
<path d="M1303.7 578.5 L1302.9 581.4 L1302.1 584.2 L1301.3 587.1 L1300.5 590.0" stroke="#99acba" stroke-width="18.0"/>
<path d="M1301.3 587.1 L1300.5 590.0 L1299.7 592.8 L1299.0 595.7 L1298.2 598.6" stroke="#a2b6c4" stroke-width="18.0"/>
<path d="M1299.0 595.7 L1298.2 598.6 L1297.5 601.5 L1296.8 604.3 L1296.0 607.2" stroke="#b0c3d0" stroke-width="18.0"/>
<path d="M1296.8 604.3 L1296.0 607.2 L1295.3 610.1 L1294.6 613.0 L1294.0 615.9" stroke="#d5e0e8" stroke-width="18.0"/>
<path d="M1294.6 613.0 L1294.0 615.9 L1293.3 618.8 L1292.6 621.7 L1292.0 624.6" stroke="#f5f9fc" stroke-width="18.0"/>
<path d="M1292.6 621.7 L1292.0 624.6 L1291.3 627.5 L1290.7 630.5 L1290.1 633.4" stroke="#fcfdfe" stroke-width="18.0"/>
<path d="M1290.7 630.5 L1290.1 633.4 L1289.5 636.3 L1288.9 639.2 L1288.3 642.1" stroke="#ffffff" stroke-width="18.0"/>
<path d="M1288.9 639.2 L1288.3 642.1 L1287.7 645.1 L1287.2 648.0 L1286.6 650.9" stroke="#ffffff" stroke-width="18.0"/>
<path d="M1287.2 648.0 L1286.6 650.9 L1286.1 653.9 L1285.5 656.8 L1285.0 659.7" stroke="#ffffff" stroke-width="18.1"/>
<path d="M1285.5 656.8 L1285.0 659.7 L1284.5 662.7 L1284.0 665.6 L1283.5 668.6" stroke="#ffffff" stroke-width="18.1"/>
<path d="M1284.0 665.6 L1283.5 668.6 L1283.0 671.5 L1282.5 674.5 L1282.1 677.4" stroke="#ffffff" stroke-width="18.1"/>
<path d="M1282.5 674.5 L1282.1 677.4 L1281.6 680.4 L1281.2 683.4 L1280.7 686.3" stroke="#ffffff" stroke-width="18.2"/>
<path d="M1281.2 683.4 L1280.7 686.3 L1280.3 689.3 L1279.9 692.3 L1279.5 695.2" stroke="#ffffff" stroke-width="18.2"/>
<path d="M1279.9 692.3 L1279.5 695.2 L1279.1 698.2 L1278.7 701.2 L1278.3 704.1" stroke="#ffffff" stroke-width="18.3"/>
<path d="M1278.7 701.2 L1278.3 704.1 L1277.9 707.1 L1277.5 710.1 L1277.2 713.1" stroke="#ffffff" stroke-width="18.3"/>
<path d="M1277.5 710.1 L1277.2 713.1 L1276.8 716.1 L1276.5 719.0 L1276.2 722.0" stroke="#ffffff" stroke-width="18.3"/>
<path d="M1276.5 719.0 L1276.2 722.0 L1275.8 725.0 L1275.5 728.0 L1275.2 731.0" stroke="#ffffff" stroke-width="18.4"/>
<path d="M1275.5 728.0 L1275.2 731.0 L1274.9 734.0 L1274.6 737.0 L1274.3 740.0" stroke="#ffffff" stroke-width="18.4"/>
<path d="M1274.6 737.0 L1274.3 740.0 L1274.0 743.0 L1273.8 746.0 L1273.5 749.0" stroke="#ffffff" stroke-width="18.5"/>
<path d="M1273.8 746.0 L1273.5 749.0 L1273.3 752.0 L1273.0 755.0 L1272.8 758.0" stroke="#ffffff" stroke-width="18.5"/>
<path d="M1273.0 755.0 L1272.8 758.0 L1272.5 761.0 L1272.3 764.0 L1272.1 767.0" stroke="#ffffff" stroke-width="18.6"/>
<path d="M1272.3 764.0 L1272.1 767.0 L1271.9 770.0 L1271.7 773.0 L1271.5 776.0" stroke="#ffffff" stroke-width="18.7"/>
<path d="M1271.7 773.0 L1271.5 776.0 L1271.3 779.1 L1271.1 782.1 L1270.9 785.1" stroke="#ffffff" stroke-width="18.8"/>
<path d="M1271.1 782.1 L1270.9 785.1 L1270.8 788.1 L1270.6 791.1 L1270.5 794.1" stroke="#ffffff" stroke-width="18.9"/>
<path d="M1270.6 791.1 L1270.5 794.1 L1270.3 797.2 L1270.2 800.2 L1270.0 803.2" stroke="#f6f8fd" stroke-width="19.0"/>
<path d="M1270.2 800.2 L1270.0 803.2 L1269.9 806.2 L1269.8 809.2 L1269.7 812.3" stroke="#c2cdf5" stroke-width="19.1"/>
<path d="M1269.8 809.2 L1269.7 812.3 L1269.5 815.3 L1269.4 818.3 L1269.3 821.3" stroke="#aabaf1" stroke-width="19.2"/>
<path d="M1269.4 818.3 L1269.3 821.3 L1269.2 824.4 L1269.2 827.4 L1269.1 830.4" stroke="#afbdf2" stroke-width="19.2"/>
<path d="M1269.2 827.4 L1269.1 830.4 L1269.0 833.4 L1268.9 836.5 L1268.8 839.5" stroke="#b4c1f3" stroke-width="19.3"/>
<path d="M1268.9 836.5 L1268.8 839.5 L1268.8 842.5 L1268.7 845.5 L1268.7 848.6" stroke="#bcc8f5" stroke-width="19.4"/>
<path d="M1268.7 845.5 L1268.7 848.6 L1268.6 851.6 L1268.6 854.6 L1268.6 857.7" stroke="#d6ddf9" stroke-width="19.5"/>
<path d="M1268.6 854.6 L1268.6 857.7 L1268.5 860.7 L1268.5 863.7 L1268.5 866.7" stroke="#f0f2fe" stroke-width="19.6"/>
<path d="M1268.5 863.7 L1268.5 866.7 L1268.5 869.8 L1268.4 872.8 L1268.4 875.8" stroke="#f5f7ff" stroke-width="19.6"/>
<path d="M1268.4 872.8 L1268.4 875.8 L1268.4 878.8 L1268.4 881.9 L1268.4 884.9" stroke="#f6f7ff" stroke-width="19.7"/>
<path d="M1268.4 881.9 L1268.4 884.9 L1268.4 887.9 L1268.4 891.0 L1268.5 894.0" stroke="#f7f8ff" stroke-width="19.7"/>
<path d="M1268.4 891.0 L1268.5 894.0 L1268.5 897.0 L1268.5 900.0 L1268.5 903.1" stroke="#f8f9ff" stroke-width="19.8"/>
<path d="M1268.5 900.0 L1268.5 903.1 L1268.6 906.1 L1268.6 909.1 L1268.6 912.1" stroke="#f9faff" stroke-width="19.8"/>
<path d="M1268.6 909.1 L1268.6 912.1 L1268.7 915.1 L1268.7 918.2 L1268.8 921.2" stroke="#fafbff" stroke-width="19.8"/>
<path d="M1268.7 918.2 L1268.8 921.2 L1268.8 924.2 L1268.9 927.2 L1268.9 930.2" stroke="#fbfbff" stroke-width="19.9"/>
<path d="M1268.9 927.2 L1268.9 930.2 L1269.0 933.3 L1269.1 936.3 L1269.1 939.3" stroke="#fcfcff" stroke-width="19.9"/>
<path d="M1269.1 936.3 L1269.1 939.3 L1269.2 942.3 L1269.3 945.3 L1269.3 948.3" stroke="#fdfdff" stroke-width="20.0"/>
<path d="M1269.3 945.3 L1269.3 948.3 L1269.4 951.4 L1269.5 954.4 L1269.6 957.4" stroke="#fefeff" stroke-width="20.0"/>
<path d="M1269.5 954.4 L1269.6 957.4 L1269.7 960.4 L1269.7 963.4 L1269.8 966.4" stroke="#ffffff" stroke-width="20.1"/>
<path d="M1269.7 963.4 L1269.8 966.4 L1269.9 969.4 L1270.0 972.4 L1270.1 975.4" stroke="#f5eef9" stroke-width="20.1"/>
<path d="M1270.0 972.4 L1270.1 975.4 L1270.2 978.4 L1270.3 981.4 L1270.4 984.4" stroke="#e1ccee" stroke-width="20.2"/>
<path d="M1270.3 981.4 L1270.4 984.4 L1270.5 987.4 L1270.6 990.4 L1270.7 993.4" stroke="#cbabe2" stroke-width="20.2"/>
<path d="M1270.6 990.4 L1270.7 993.4 L1270.8 996.4 L1270.9 999.4 L1271.0 1002.4" stroke="#ae8cd3" stroke-width="20.3"/>
<path d="M1270.9 999.4 L1271.0 1002.4 L1271.1 1005.3 L1271.2 1008.3 L1271.4 1011.3" stroke="#9c79ca" stroke-width="20.3"/>
<path d="M1271.2 1008.3 L1271.4 1011.3 L1271.5 1014.3 L1271.6 1017.3 L1271.7 1020.2" stroke="#9473c7" stroke-width="20.4"/>
<path d="M1271.6 1017.3 L1271.7 1020.2 L1271.8 1023.2 L1271.9 1026.2 L1272.0 1029.2" stroke="#8b6dc4" stroke-width="20.4"/>
<path d="M1271.9 1026.2 L1272.0 1029.2 L1272.1 1032.1 L1272.3 1035.1 L1272.4 1038.1" stroke="#a78dd3" stroke-width="20.5"/>
<path d="M1272.3 1035.1 L1272.4 1038.1 L1272.5 1041.0 L1272.6 1044.0" stroke="#b8a0dc" stroke-width="20.5"/>
<path d="M1825.1 284.6 L1822.6 286.2 L1820.1 287.9 L1817.6 289.5 L1815.1 291.2" stroke="#424242" stroke-width="18.0"/>
<path d="M1817.6 289.5 L1815.1 291.2 L1812.6 292.8 L1810.1 294.4 L1807.6 296.1" stroke="#424343" stroke-width="18.0"/>
<path d="M1810.1 294.4 L1807.6 296.1 L1805.1 297.7 L1802.6 299.3 L1800.0 301.0" stroke="#434343" stroke-width="18.0"/>
<path d="M1802.6 299.3 L1800.0 301.0 L1797.5 302.6 L1795.0 304.2 L1792.5 305.8" stroke="#434444" stroke-width="18.0"/>
<path d="M1795.0 304.2 L1792.5 305.8 L1790.0 307.4 L1787.4 309.0 L1784.9 310.7" stroke="#434545" stroke-width="18.0"/>
<path d="M1787.4 309.0 L1784.9 310.7 L1782.4 312.3 L1779.9 313.9 L1777.3 315.5" stroke="#444646" stroke-width="18.1"/>
<path d="M1779.9 313.9 L1777.3 315.5 L1774.8 317.1 L1772.3 318.7 L1769.7 320.3" stroke="#444747" stroke-width="18.1"/>
<path d="M1772.3 318.7 L1769.7 320.3 L1767.2 321.9 L1764.6 323.5 L1762.1 325.1" stroke="#444848" stroke-width="18.1"/>
<path d="M1764.6 323.5 L1762.1 325.1 L1759.6 326.7 L1757.0 328.3 L1754.5 329.8" stroke="#444a4a" stroke-width="18.1"/>
<path d="M1757.0 328.3 L1754.5 329.8 L1751.9 331.4 L1749.4 333.0 L1746.8 334.6" stroke="#444a4a" stroke-width="18.1"/>
<path d="M1749.4 333.0 L1746.8 334.6 L1744.3 336.2 L1741.7 337.8 L1739.2 339.4" stroke="#444a4a" stroke-width="18.1"/>
<path d="M1741.7 337.8 L1739.2 339.4 L1736.6 341.0 L1734.1 342.5 L1731.5 344.1" stroke="#454b4b" stroke-width="18.1"/>
<path d="M1734.1 342.5 L1731.5 344.1 L1729.0 345.7 L1726.4 347.3 L1723.9 348.9" stroke="#454b4b" stroke-width="18.1"/>
<path d="M1726.4 347.3 L1723.9 348.9 L1721.3 350.5 L1718.8 352.0 L1716.2 353.6" stroke="#454b4b" stroke-width="18.2"/>
<path d="M1718.8 352.0 L1716.2 353.6 L1713.7 355.2 L1711.1 356.8 L1708.5 358.4" stroke="#454b4b" stroke-width="18.2"/>
<path d="M1711.1 356.8 L1708.5 358.4 L1706.0 359.9 L1703.4 361.5 L1700.9 363.1" stroke="#464c4c" stroke-width="18.2"/>
<path d="M1703.4 361.5 L1700.9 363.1 L1698.3 364.7 L1695.8 366.3 L1693.2 367.9" stroke="#464c4c" stroke-width="18.2"/>
<path d="M1695.8 366.3 L1693.2 367.9 L1690.7 369.4 L1688.1 371.0 L1685.6 372.6" stroke="#464c4c" stroke-width="18.2"/>
<path d="M1688.1 371.0 L1685.6 372.6 L1683.0 374.2 L1680.4 375.8 L1677.9 377.4" stroke="#474d4d" stroke-width="18.2"/>
<path d="M1680.4 375.8 L1677.9 377.4 L1675.3 379.0 L1672.8 380.6 L1670.2 382.2" stroke="#474d4d" stroke-width="18.2"/>
<path d="M1672.8 380.6 L1670.2 382.2 L1667.7 383.7 L1665.1 385.3 L1662.6 386.9" stroke="#474d4d" stroke-width="18.2"/>
<path d="M1665.1 385.3 L1662.6 386.9 L1660.0 388.5 L1657.5 390.1 L1654.9 391.7" stroke="#474d4d" stroke-width="18.2"/>
<path d="M1657.5 390.1 L1654.9 391.7 L1652.4 393.3 L1649.9 394.9 L1647.3 396.5" stroke="#484e4e" stroke-width="18.3"/>
<path d="M1649.9 394.9 L1647.3 396.5 L1644.8 398.1 L1642.2 399.8 L1639.7 401.4" stroke="#484e4e" stroke-width="18.3"/>
<path d="M1642.2 399.8 L1639.7 401.4 L1637.2 403.0 L1634.6 404.6 L1632.1 406.2" stroke="#484e4e" stroke-width="18.3"/>
<path d="M1634.6 404.6 L1632.1 406.2 L1629.6 407.8 L1627.0 409.4 L1624.5 411.1" stroke="#494f4f" stroke-width="18.3"/>
<path d="M1627.0 409.4 L1624.5 411.1 L1622.0 412.7 L1619.4 414.3 L1616.9 416.0" stroke="#495050" stroke-width="18.3"/>
<path d="M1619.4 414.3 L1616.9 416.0 L1614.4 417.6 L1611.9 419.2 L1609.4 420.9" stroke="#4a5152" stroke-width="18.3"/>
<path d="M1611.9 419.2 L1609.4 420.9 L1606.8 422.5 L1604.3 424.2 L1601.8 425.8" stroke="#4a5253" stroke-width="18.3"/>
<path d="M1604.3 424.2 L1601.8 425.8 L1599.3 427.5 L1596.8 429.1 L1594.3 430.8" stroke="#4b5254" stroke-width="18.3"/>
<path d="M1596.8 429.1 L1594.3 430.8 L1591.8 432.4 L1589.3 434.1 L1586.8 435.8" stroke="#4c5355" stroke-width="18.3"/>
<path d="M1589.3 434.1 L1586.8 435.8 L1584.3 437.4 L1581.8 439.1 L1579.3 440.8" stroke="#4c5456" stroke-width="18.4"/>
<path d="M1581.8 439.1 L1579.3 440.8 L1576.8 442.5 L1574.3 444.2 L1571.9 445.9" stroke="#4d5557" stroke-width="18.4"/>
<path d="M1574.3 444.2 L1571.9 445.9 L1569.4 447.6 L1566.9 449.3 L1564.4 451.0" stroke="#4e5659" stroke-width="18.4"/>
<path d="M1566.9 449.3 L1564.4 451.0 L1562.0 452.7 L1559.5 454.4 L1557.0 456.1" stroke="#4f575a" stroke-width="18.4"/>
<path d="M1559.5 454.4 L1557.0 456.1 L1554.6 457.8 L1552.1 459.5 L1549.6 461.3" stroke="#50575b" stroke-width="18.4"/>
<path d="M1552.1 459.5 L1549.6 461.3 L1547.2 463.0 L1544.7 464.8 L1542.3 466.5" stroke="#51585d" stroke-width="18.4"/>
<path d="M1544.7 464.8 L1542.3 466.5 L1539.9 468.2 L1537.4 470.0 L1535.0 471.8" stroke="#52595e" stroke-width="18.4"/>
<path d="M1537.4 470.0 L1535.0 471.8 L1532.6 473.5 L1530.1 475.3 L1527.7 477.1" stroke="#535a5f" stroke-width="18.4"/>
<path d="M1530.1 475.3 L1527.7 477.1 L1525.3 478.8 L1522.9 480.6 L1520.5 482.4" stroke="#555c61" stroke-width="18.5"/>
<path d="M1522.9 480.6 L1520.5 482.4 L1518.1 484.2 L1515.7 486.0 L1513.3 487.8" stroke="#565d63" stroke-width="18.5"/>
<path d="M1515.7 486.0 L1513.3 487.8 L1510.9 489.6 L1508.5 491.5 L1506.1 493.3" stroke="#575f65" stroke-width="18.5"/>
<path d="M1508.5 491.5 L1506.1 493.3 L1503.7 495.1 L1501.3 496.9 L1499.0 498.8" stroke="#596167" stroke-width="18.5"/>
<path d="M1501.3 496.9 L1499.0 498.8 L1496.6 500.6 L1494.2 502.5 L1491.9 504.4" stroke="#5a6268" stroke-width="18.5"/>
<path d="M1494.2 502.5 L1491.9 504.4 L1489.5 506.2 L1487.2 508.1 L1484.8 510.0" stroke="#5c646b" stroke-width="18.5"/>
<path d="M1487.2 508.1 L1484.8 510.0 L1482.5 511.9 L1480.2 513.8 L1477.8 515.7" stroke="#5e666e" stroke-width="18.4"/>
<path d="M1480.2 513.8 L1477.8 515.7 L1475.5 517.6 L1473.2 519.5 L1470.9 521.4" stroke="#606970" stroke-width="18.4"/>
<path d="M1473.2 519.5 L1470.9 521.4 L1468.6 523.3 L1466.3 525.3 L1464.0 527.2" stroke="#626b73" stroke-width="18.4"/>
<path d="M1466.3 525.3 L1464.0 527.2 L1461.7 529.1 L1459.4 531.1 L1457.1 533.1" stroke="#646d76" stroke-width="18.4"/>
<path d="M1459.4 531.1 L1457.1 533.1 L1454.8 535.0 L1452.6 537.0 L1450.3 539.0" stroke="#666f78" stroke-width="18.3"/>
<path d="M1452.6 537.0 L1450.3 539.0 L1448.0 541.0 L1445.8 543.0 L1443.5 545.0" stroke="#67717b" stroke-width="18.3"/>
<path d="M1445.8 543.0 L1443.5 545.0 L1441.3 547.0 L1439.0 549.0 L1436.8 551.1" stroke="#69737d" stroke-width="18.3"/>
<path d="M1439.0 549.0 L1436.8 551.1 L1434.6 553.1 L1432.4 555.2 L1430.2 557.2" stroke="#6b7580" stroke-width="18.2"/>
<path d="M1432.4 555.2 L1430.2 557.2 L1428.0 559.3 L1425.8 561.4 L1423.6 563.5" stroke="#6d7783" stroke-width="18.2"/>
<path d="M1425.8 561.4 L1423.6 563.5 L1421.4 565.5 L1419.3 567.7 L1417.1 569.8" stroke="#717c88" stroke-width="18.2"/>
<path d="M1419.3 567.7 L1417.1 569.8 L1415.0 571.9 L1412.8 574.0 L1410.7 576.2" stroke="#77838f" stroke-width="18.2"/>
<path d="M1412.8 574.0 L1410.7 576.2 L1408.6 578.3 L1406.5 580.5 L1404.4 582.6" stroke="#7e8a97" stroke-width="18.1"/>
<path d="M1406.5 580.5 L1404.4 582.6 L1402.4 584.8 L1400.3 587.0 L1398.3 589.2" stroke="#84919e" stroke-width="18.1"/>
<path d="M1400.3 587.0 L1398.3 589.2 L1396.3 591.4 L1394.3 593.7 L1392.3 595.9" stroke="#8a98a6" stroke-width="18.1"/>
<path d="M1394.3 593.7 L1392.3 595.9 L1390.3 598.1 L1388.4 600.4 L1386.4 602.7" stroke="#91a0ad" stroke-width="18.1"/>
<path d="M1388.4 600.4 L1386.4 602.7 L1384.5 605.0 L1382.6 607.2 L1380.7 609.6" stroke="#97a7b5" stroke-width="18.0"/>
<path d="M1382.6 607.2 L1380.7 609.6 L1378.9 611.9 L1377.0 614.2 L1375.2 616.6" stroke="#a9b7c3" stroke-width="18.0"/>
<path d="M1377.0 614.2 L1375.2 616.6 L1373.4 618.9 L1371.7 621.3 L1369.9 623.7" stroke="#bdc8d2" stroke-width="18.0"/>
<path d="M1371.7 621.3 L1369.9 623.7 L1368.2 626.1 L1366.5 628.5 L1364.8 630.9" stroke="#d2dae1" stroke-width="18.0"/>
<path d="M1366.5 628.5 L1364.8 630.9 L1363.1 633.3 L1361.5 635.8 L1359.9 638.2" stroke="#e6ebf0" stroke-width="18.0"/>
<path d="M1361.5 635.8 L1359.9 638.2 L1358.3 640.7 L1356.7 643.2 L1355.2 645.7" stroke="#fbfcfd" stroke-width="18.0"/>
<path d="M1356.7 643.2 L1355.2 645.7 L1353.7 648.2 L1352.2 650.8 L1350.8 653.3" stroke="#ffffff" stroke-width="18.0"/>
<path d="M1352.2 650.8 L1350.8 653.3 L1349.4 655.9 L1348.0 658.5 L1346.6 661.1" stroke="#ffffff" stroke-width="18.0"/>
<path d="M1348.0 658.5 L1346.6 661.1 L1345.3 663.7 L1344.0 666.3 L1342.7 669.0" stroke="#ffffff" stroke-width="18.0"/>
<path d="M1344.0 666.3 L1342.7 669.0 L1341.5 671.6 L1340.3 674.3 L1339.1 677.0" stroke="#ffffff" stroke-width="18.1"/>
<path d="M1340.3 674.3 L1339.1 677.0 L1338.0 679.7 L1336.9 682.4 L1335.8 685.1" stroke="#ffffff" stroke-width="18.1"/>
<path d="M1336.9 682.4 L1335.8 685.1 L1334.7 687.9 L1333.7 690.7 L1332.8 693.5" stroke="#ffffff" stroke-width="18.2"/>
<path d="M1333.7 690.7 L1332.8 693.5 L1331.8 696.3 L1330.9 699.1 L1330.0 701.9" stroke="#ffffff" stroke-width="18.2"/>
<path d="M1330.9 699.1 L1330.0 701.9 L1329.1 704.7 L1328.3 707.6 L1327.5 710.5" stroke="#ffffff" stroke-width="18.3"/>
<path d="M1328.3 707.6 L1327.5 710.5 L1326.7 713.3 L1326.0 716.2 L1325.3 719.1" stroke="#ffffff" stroke-width="18.3"/>
<path d="M1326.0 716.2 L1325.3 719.1 L1324.6 722.0 L1323.9 725.0 L1323.3 727.9" stroke="#ffffff" stroke-width="18.4"/>
<path d="M1323.9 725.0 L1323.3 727.9 L1322.6 730.8 L1322.0 733.8 L1321.5 736.8" stroke="#ffffff" stroke-width="18.4"/>
<path d="M1322.0 733.8 L1321.5 736.8 L1320.9 739.7 L1320.4 742.7 L1319.9 745.7" stroke="#ffffff" stroke-width="18.4"/>
<path d="M1320.4 742.7 L1319.9 745.7 L1319.4 748.7 L1319.0 751.7 L1318.5 754.7" stroke="#ffffff" stroke-width="18.5"/>
<path d="M1319.0 751.7 L1318.5 754.7 L1318.1 757.7 L1317.7 760.7 L1317.3 763.8" stroke="#ffffff" stroke-width="18.6"/>
<path d="M1317.7 760.7 L1317.3 763.8 L1317.0 766.8 L1316.6 769.8 L1316.3 772.9" stroke="#ffffff" stroke-width="18.7"/>
<path d="M1316.6 769.8 L1316.3 772.9 L1316.0 775.9 L1315.7 779.0 L1315.4 782.0" stroke="#ffffff" stroke-width="18.8"/>
<path d="M1315.7 779.0 L1315.4 782.0 L1315.2 785.1 L1314.9 788.1 L1314.7 791.2" stroke="#ffffff" stroke-width="18.8"/>
<path d="M1314.9 788.1 L1314.7 791.2 L1314.5 794.2 L1314.3 797.3 L1314.1 800.4" stroke="#ffffff" stroke-width="18.9"/>
<path d="M1314.3 797.3 L1314.1 800.4 L1313.9 803.4 L1313.7 806.5 L1313.6 809.6" stroke="#f9fafe" stroke-width="19.0"/>
<path d="M1313.7 806.5 L1313.6 809.6 L1313.4 812.6 L1313.3 815.7 L1313.2 818.7" stroke="#d6ddf9" stroke-width="19.1"/>
<path d="M1313.3 815.7 L1313.2 818.7 L1313.1 821.8 L1313.0 824.9 L1312.9 827.9" stroke="#d3dbf9" stroke-width="19.2"/>
<path d="M1313.0 824.9 L1312.9 827.9 L1312.8 831.0 L1312.7 834.0 L1312.6 837.0" stroke="#d6defa" stroke-width="19.3"/>
<path d="M1312.7 834.0 L1312.6 837.0 L1312.6 840.1 L1312.5 843.1 L1312.5 846.2" stroke="#e4e9fc" stroke-width="19.4"/>
<path d="M1312.5 843.1 L1312.5 846.2 L1312.4 849.2 L1312.4 852.2 L1312.4 855.2" stroke="#fbfcff" stroke-width="19.5"/>
<path d="M1312.4 852.2 L1312.4 855.2 L1312.4 858.3 L1312.3 861.3 L1312.3 864.3" stroke="#ffffff" stroke-width="19.5"/>
<path d="M1312.3 861.3 L1312.3 864.3 L1312.3 867.3 L1312.3 870.3 L1312.3 873.4" stroke="#ffffff" stroke-width="19.6"/>
<path d="M1312.3 870.3 L1312.3 873.4 L1312.3 876.4 L1312.4 879.4 L1312.4 882.4" stroke="#ffffff" stroke-width="19.6"/>
<path d="M1312.4 879.4 L1312.4 882.4 L1312.4 885.4 L1312.4 888.4 L1312.5 891.4" stroke="#ffffff" stroke-width="19.7"/>
<path d="M1312.4 888.4 L1312.5 891.4 L1312.5 894.4 L1312.6 897.4 L1312.6 900.4" stroke="#ffffff" stroke-width="19.7"/>
<path d="M1312.6 897.4 L1312.6 900.4 L1312.7 903.4 L1312.7 906.4 L1312.8 909.4" stroke="#ffffff" stroke-width="19.8"/>
<path d="M1312.7 906.4 L1312.8 909.4 L1312.8 912.4 L1312.9 915.3 L1313.0 918.3" stroke="#ffffff" stroke-width="19.8"/>
<path d="M1312.9 915.3 L1313.0 918.3 L1313.0 921.3 L1313.1 924.3 L1313.2 927.3" stroke="#ffffff" stroke-width="19.9"/>
<path d="M1313.1 924.3 L1313.2 927.3 L1313.3 930.3 L1313.3 933.3 L1313.4 936.3" stroke="#ffffff" stroke-width="19.9"/>
<path d="M1313.3 933.3 L1313.4 936.3 L1313.5 939.2 L1313.6 942.2 L1313.7 945.2" stroke="#ffffff" stroke-width="20.0"/>
<path d="M1313.6 942.2 L1313.7 945.2 L1313.8 948.2 L1313.8 951.2 L1313.9 954.2" stroke="#ffffff" stroke-width="20.0"/>
<path d="M1313.8 951.2 L1313.9 954.2 L1314.0 957.1 L1314.1 960.1 L1314.2 963.1" stroke="#ffffff" stroke-width="20.1"/>
<path d="M1314.1 960.1 L1314.2 963.1 L1314.3 966.1 L1314.4 969.1 L1314.5 972.1" stroke="#ffffff" stroke-width="20.1"/>
<path d="M1314.4 969.1 L1314.5 972.1 L1314.5 975.0 L1314.6 978.0 L1314.7 981.0" stroke="#f8f2fb" stroke-width="20.2"/>
<path d="M1314.6 978.0 L1314.7 981.0 L1314.8 984.0 L1314.9 987.0 L1315.0 990.0" stroke="#e9d9f3" stroke-width="20.2"/>
<path d="M1314.9 987.0 L1315.0 990.0 L1315.0 993.0 L1315.1 995.9 L1315.2 998.9" stroke="#d9c0ea" stroke-width="20.3"/>
<path d="M1315.1 995.9 L1315.2 998.9 L1315.3 1001.9 L1315.3 1004.9 L1315.4 1007.9" stroke="#c5a8de" stroke-width="20.3"/>
<path d="M1315.3 1004.9 L1315.4 1007.9 L1315.5 1010.9 L1315.5 1013.9 L1315.6 1016.9" stroke="#b293d4" stroke-width="20.4"/>
<path d="M1315.5 1013.9 L1315.6 1016.9 L1315.7 1019.9 L1315.7 1022.9 L1315.8 1025.9" stroke="#a98cd1" stroke-width="20.4"/>
<path d="M1315.7 1022.9 L1315.8 1025.9 L1315.8 1028.9 L1315.8 1031.9 L1315.9 1034.9" stroke="#b198d7" stroke-width="20.5"/>
<path d="M1315.8 1031.9 L1315.9 1034.9 L1315.9 1038.0 L1315.9 1041.0 L1316.0 1044.0" stroke="#c8b4e4" stroke-width="20.5"/>
<path d="M1315.9 1041.0 L1316.0 1044.0" stroke="#c8b4e4" stroke-width="20.5"/>
<path d="M2013.0 567.5 L2010.0 567.6 L2007.0 567.6 L2004.0 567.7 L2001.0 567.7" stroke="#6d6f68" stroke-width="19.5"/>
<path d="M2004.0 567.7 L2001.0 567.7 L1998.0 567.8 L1995.0 567.8 L1992.0 567.9" stroke="#70726b" stroke-width="19.5"/>
<path d="M1995.0 567.8 L1992.0 567.9 L1989.1 567.9 L1986.1 568.0 L1983.1 568.0" stroke="#73756e" stroke-width="19.5"/>
<path d="M1986.1 568.0 L1983.1 568.0 L1980.1 568.1 L1977.1 568.1 L1974.1 568.1" stroke="#70726a" stroke-width="19.5"/>
<path d="M1977.1 568.1 L1974.1 568.1 L1971.1 568.2 L1968.1 568.2 L1965.1 568.2" stroke="#6a6d65" stroke-width="19.4"/>
<path d="M1968.1 568.2 L1965.1 568.2 L1962.1 568.3 L1959.1 568.3 L1956.1 568.3" stroke="#656860" stroke-width="19.4"/>
<path d="M1959.1 568.3 L1956.1 568.3 L1953.1 568.4 L1950.1 568.4 L1947.1 568.4" stroke="#646860" stroke-width="19.4"/>
<path d="M1950.1 568.4 L1947.1 568.4 L1944.1 568.4 L1941.1 568.4 L1938.1 568.5" stroke="#686c64" stroke-width="19.4"/>
<path d="M1941.1 568.4 L1938.1 568.5 L1935.0 568.5 L1932.0 568.5 L1929.0 568.5" stroke="#6b6f67" stroke-width="19.4"/>
<path d="M1932.0 568.5 L1929.0 568.5 L1926.0 568.5 L1923.0 568.5 L1920.0 568.6" stroke="#6f736b" stroke-width="19.4"/>
<path d="M1923.0 568.5 L1920.0 568.6 L1917.0 568.6 L1914.0 568.6 L1911.0 568.6" stroke="#72776e" stroke-width="19.4"/>
<path d="M1914.0 568.6 L1911.0 568.6 L1908.0 568.6 L1905.0 568.6 L1902.0 568.6" stroke="#767b72" stroke-width="19.3"/>
<path d="M1905.0 568.6 L1902.0 568.6 L1899.0 568.7 L1896.0 568.7 L1893.0 568.7" stroke="#797f75" stroke-width="19.3"/>
<path d="M1896.0 568.7 L1893.0 568.7 L1890.0 568.7 L1887.0 568.7 L1883.9 568.7" stroke="#7a8177" stroke-width="19.3"/>
<path d="M1887.0 568.7 L1883.9 568.7 L1880.9 568.7 L1877.9 568.8 L1874.9 568.8" stroke="#7b8177" stroke-width="19.3"/>
<path d="M1877.9 568.8 L1874.9 568.8 L1871.9 568.8 L1868.9 568.8 L1865.9 568.8" stroke="#7c8278" stroke-width="19.3"/>
<path d="M1868.9 568.8 L1865.9 568.8 L1862.9 568.8 L1859.9 568.9 L1856.9 568.9" stroke="#7c8379" stroke-width="19.3"/>
<path d="M1859.9 568.9 L1856.9 568.9 L1853.9 568.9 L1850.8 568.9 L1847.8 569.0" stroke="#7d847a" stroke-width="19.3"/>
<path d="M1850.8 568.9 L1847.8 569.0 L1844.8 569.0 L1841.8 569.0 L1838.8 569.0" stroke="#7d847a" stroke-width="19.2"/>
<path d="M1841.8 569.0 L1838.8 569.0 L1835.8 569.1 L1832.8 569.1 L1829.8 569.1" stroke="#7e857b" stroke-width="19.2"/>
<path d="M1832.8 569.1 L1829.8 569.1 L1826.8 569.2 L1823.8 569.2 L1820.7 569.2" stroke="#7e867c" stroke-width="19.2"/>
<path d="M1823.8 569.2 L1820.7 569.2 L1817.7 569.3 L1814.7 569.3 L1811.7 569.4" stroke="#7f867c" stroke-width="19.2"/>
<path d="M1814.7 569.3 L1811.7 569.4 L1808.7 569.4 L1805.7 569.5 L1802.7 569.5" stroke="#7f877d" stroke-width="19.2"/>
<path d="M1805.7 569.5 L1802.7 569.5 L1799.7 569.6 L1796.7 569.6 L1793.7 569.7" stroke="#80887e" stroke-width="19.2"/>
<path d="M1796.7 569.6 L1793.7 569.7 L1790.7 569.8 L1787.6 569.8 L1784.6 569.9" stroke="#889086" stroke-width="19.1"/>
<path d="M1787.6 569.8 L1784.6 569.9 L1781.6 570.0 L1778.6 570.0 L1775.6 570.1" stroke="#919990" stroke-width="19.1"/>
<path d="M1778.6 570.0 L1775.6 570.1 L1772.6 570.2 L1769.6 570.3 L1766.6 570.4" stroke="#98a098" stroke-width="19.1"/>
<path d="M1769.6 570.3 L1766.6 570.4 L1763.6 570.5 L1760.6 570.6 L1757.6 570.6" stroke="#9aa29a" stroke-width="19.1"/>
<path d="M1760.6 570.6 L1757.6 570.6 L1754.6 570.7 L1751.6 570.9 L1748.6 571.0" stroke="#9ba39b" stroke-width="19.1"/>
<path d="M1751.6 570.9 L1748.6 571.0 L1745.5 571.1 L1742.5 571.2 L1739.5 571.3" stroke="#9ca49c" stroke-width="19.1"/>
<path d="M1742.5 571.2 L1739.5 571.3 L1736.5 571.4 L1733.5 571.6 L1730.5 571.7" stroke="#9ea69e" stroke-width="19.1"/>
<path d="M1733.5 571.6 L1730.5 571.7 L1727.5 571.8 L1724.5 572.0 L1721.5 572.1" stroke="#9fa79f" stroke-width="19.0"/>
<path d="M1724.5 572.0 L1721.5 572.1 L1718.5 572.3 L1715.5 572.4 L1712.5 572.6" stroke="#9ea69e" stroke-width="19.0"/>
<path d="M1715.5 572.4 L1712.5 572.6 L1709.5 572.8 L1706.5 572.9 L1703.5 573.1" stroke="#99a199" stroke-width="19.0"/>
<path d="M1706.5 572.9 L1703.5 573.1 L1700.5 573.3 L1697.5 573.5 L1694.5 573.6" stroke="#959d95" stroke-width="19.0"/>
<path d="M1697.5 573.5 L1694.5 573.6 L1691.5 573.8 L1688.5 574.0 L1685.5 574.2" stroke="#959d95" stroke-width="19.0"/>
<path d="M1688.5 574.0 L1685.5 574.2 L1682.5 574.5 L1679.5 574.7 L1676.5 574.9" stroke="#979f97" stroke-width="18.9"/>
<path d="M1679.5 574.7 L1676.5 574.9 L1673.5 575.1 L1670.5 575.4 L1667.5 575.6" stroke="#98a098" stroke-width="18.9"/>
<path d="M1670.5 575.4 L1667.5 575.6 L1664.5 575.8 L1661.6 576.1 L1658.6 576.3" stroke="#99a199" stroke-width="18.9"/>
<path d="M1661.6 576.1 L1658.6 576.3 L1655.6 576.6 L1652.6 576.9 L1649.6 577.2" stroke="#9ba39b" stroke-width="18.9"/>
<path d="M1652.6 576.9 L1649.6 577.2 L1646.6 577.4 L1643.6 577.7 L1640.6 578.0" stroke="#9ca49c" stroke-width="18.8"/>
<path d="M1643.6 577.7 L1640.6 578.0 L1637.6 578.3 L1634.6 578.6 L1631.7 578.9" stroke="#9ea69e" stroke-width="18.8"/>
<path d="M1634.6 578.6 L1631.7 578.9 L1628.7 579.3 L1625.7 579.6 L1622.7 579.9" stroke="#a1a9a1" stroke-width="18.8"/>
<path d="M1625.7 579.6 L1622.7 579.9 L1619.7 580.3 L1616.7 580.6 L1613.8 581.0" stroke="#a3aba3" stroke-width="18.7"/>
<path d="M1616.7 580.6 L1613.8 581.0 L1610.8 581.3 L1607.8 581.7 L1604.8 582.1" stroke="#a5ada5" stroke-width="18.7"/>
<path d="M1607.8 581.7 L1604.8 582.1 L1601.8 582.5 L1598.9 582.9 L1595.9 583.3" stroke="#a7afa7" stroke-width="18.7"/>
<path d="M1598.9 582.9 L1595.9 583.3 L1592.9 583.7 L1589.9 584.1 L1587.0 584.5" stroke="#a9b1a9" stroke-width="18.6"/>
<path d="M1589.9 584.1 L1587.0 584.5 L1584.0 584.9 L1581.0 585.4 L1578.0 585.8" stroke="#abb4ac" stroke-width="18.6"/>
<path d="M1581.0 585.4 L1578.0 585.8 L1575.1 586.3 L1572.1 586.8 L1569.1 587.2" stroke="#aeb7af" stroke-width="18.6"/>
<path d="M1572.1 586.8 L1569.1 587.2 L1566.2 587.7 L1563.2 588.2 L1560.2 588.7" stroke="#b0bab2" stroke-width="18.6"/>
<path d="M1563.2 588.2 L1560.2 588.7 L1557.3 589.2 L1554.3 589.7 L1551.3 590.2" stroke="#b2bdb5" stroke-width="18.5"/>
<path d="M1554.3 589.7 L1551.3 590.2 L1548.4 590.8 L1545.4 591.3 L1542.4 591.9" stroke="#b5c1b9" stroke-width="18.5"/>
<path d="M1545.4 591.3 L1542.4 591.9 L1539.5 592.4 L1536.5 593.0 L1533.6 593.6" stroke="#b9c8be" stroke-width="18.5"/>
<path d="M1536.5 593.0 L1533.6 593.6 L1530.6 594.2 L1527.7 594.8 L1524.7 595.4" stroke="#bdcec4" stroke-width="18.5"/>
<path d="M1527.7 594.8 L1524.7 595.4 L1521.8 596.0 L1518.8 596.7 L1515.9 597.3" stroke="#c2d5c9" stroke-width="18.5"/>
<path d="M1518.8 596.7 L1515.9 597.3 L1512.9 598.0 L1510.0 598.7 L1507.1 599.4" stroke="#c8dcd0" stroke-width="18.5"/>
<path d="M1510.0 598.7 L1507.1 599.4 L1504.2 600.2 L1501.3 601.0 L1498.4 601.8" stroke="#d1e3d9" stroke-width="18.5"/>
<path d="M1501.3 601.0 L1498.4 601.8 L1495.6 602.6 L1492.7 603.5 L1489.9 604.4" stroke="#d9eae1" stroke-width="18.5"/>
<path d="M1492.7 603.5 L1489.9 604.4 L1487.1 605.4 L1484.3 606.4 L1481.5 607.4" stroke="#e2f1ea" stroke-width="18.5"/>
<path d="M1484.3 606.4 L1481.5 607.4 L1478.7 608.5 L1476.0 609.6 L1473.2 610.7" stroke="#f0f8f4" stroke-width="18.5"/>
<path d="M1476.0 609.6 L1473.2 610.7 L1470.5 612.0 L1467.9 613.2 L1465.2 614.5" stroke="#fdfefd" stroke-width="18.5"/>
<path d="M1467.9 613.2 L1465.2 614.5 L1462.6 615.9 L1460.0 617.3 L1457.4 618.8" stroke="#ffffff" stroke-width="18.5"/>
<path d="M1460.0 617.3 L1457.4 618.8 L1454.8 620.3 L1452.3 621.8 L1449.8 623.5" stroke="#ffffff" stroke-width="18.6"/>
<path d="M1452.3 621.8 L1449.8 623.5 L1447.4 625.1 L1444.9 626.8 L1442.5 628.6" stroke="#ffffff" stroke-width="18.6"/>
<path d="M1444.9 626.8 L1442.5 628.6 L1440.2 630.4 L1437.8 632.2 L1435.5 634.1" stroke="#ffffff" stroke-width="18.6"/>
<path d="M1437.8 632.2 L1435.5 634.1 L1433.2 636.0 L1431.0 638.0 L1428.8 640.0" stroke="#ffffff" stroke-width="18.6"/>
<path d="M1431.0 638.0 L1428.8 640.0 L1426.6 642.0 L1424.5 644.1 L1422.4 646.2" stroke="#ffffff" stroke-width="18.7"/>
<path d="M1424.5 644.1 L1422.4 646.2 L1420.3 648.4 L1418.3 650.6 L1416.3 652.8" stroke="#ffffff" stroke-width="18.7"/>
<path d="M1418.3 650.6 L1416.3 652.8 L1414.4 655.1 L1412.5 657.4 L1410.7 659.7" stroke="#ffffff" stroke-width="18.7"/>
<path d="M1412.5 657.4 L1410.7 659.7 L1408.9 662.1 L1407.1 664.5 L1405.4 666.9" stroke="#ffffff" stroke-width="18.7"/>
<path d="M1407.1 664.5 L1405.4 666.9 L1403.7 669.3 L1402.0 671.8 L1400.4 674.3" stroke="#ffffff" stroke-width="18.8"/>
<path d="M1402.0 671.8 L1400.4 674.3 L1398.9 676.9 L1397.3 679.4 L1395.9 682.0" stroke="#ffffff" stroke-width="18.8"/>
<path d="M1397.3 679.4 L1395.9 682.0 L1394.4 684.6 L1393.0 687.3 L1391.6 689.9" stroke="#ffffff" stroke-width="18.8"/>
<path d="M1393.0 687.3 L1391.6 689.9 L1390.3 692.6 L1389.0 695.3 L1387.7 698.1" stroke="#ffffff" stroke-width="18.8"/>
<path d="M1389.0 695.3 L1387.7 698.1 L1386.5 700.8 L1385.3 703.6 L1384.2 706.4" stroke="#ffffff" stroke-width="18.9"/>
<path d="M1385.3 703.6 L1384.2 706.4 L1383.0 709.2 L1382.0 712.0 L1380.9 714.8" stroke="#ffffff" stroke-width="18.9"/>
<path d="M1382.0 712.0 L1380.9 714.8 L1379.9 717.7 L1378.9 720.6 L1377.9 723.4" stroke="#ffffff" stroke-width="18.9"/>
<path d="M1378.9 720.6 L1377.9 723.4 L1377.0 726.3 L1376.1 729.3 L1375.2 732.2" stroke="#ffffff" stroke-width="18.9"/>
<path d="M1376.1 729.3 L1375.2 732.2 L1374.4 735.1 L1373.6 738.1 L1372.8 741.0" stroke="#ffffff" stroke-width="19.0"/>
<path d="M1373.6 738.1 L1372.8 741.0 L1372.0 744.0 L1371.3 747.0 L1370.6 750.0" stroke="#ffffff" stroke-width="19.0"/>
<path d="M1371.3 747.0 L1370.6 750.0 L1369.9 753.0 L1369.3 756.0 L1368.7 759.0" stroke="#ffffff" stroke-width="19.0"/>
<path d="M1369.3 756.0 L1368.7 759.0 L1368.1 762.0 L1367.5 765.0 L1366.9 768.0" stroke="#ffffff" stroke-width="19.2"/>
<path d="M1367.5 765.0 L1366.9 768.0 L1366.4 771.1 L1365.9 774.1 L1365.4 777.1" stroke="#ffffff" stroke-width="19.3"/>
<path d="M1365.9 774.1 L1365.4 777.1 L1365.0 780.1 L1364.5 783.2 L1364.1 786.2" stroke="#ffffff" stroke-width="19.4"/>
<path d="M1364.5 783.2 L1364.1 786.2 L1363.7 789.2 L1363.4 792.3 L1363.0 795.3" stroke="#ffffff" stroke-width="19.6"/>
<path d="M1363.4 792.3 L1363.0 795.3 L1362.7 798.3 L1362.3 801.3 L1362.0 804.3" stroke="#ffffff" stroke-width="19.7"/>
<path d="M1362.3 801.3 L1362.0 804.3 L1361.8 807.3 L1361.5 810.4 L1361.2 813.4" stroke="#ffffff" stroke-width="19.8"/>
<path d="M1361.5 810.4 L1361.2 813.4 L1361.0 816.4 L1360.8 819.4 L1360.6 822.4" stroke="#ffffff" stroke-width="20.0"/>
<path d="M1360.8 819.4 L1360.6 822.4 L1360.4 825.4 L1360.2 828.4 L1360.1 831.4" stroke="#ffffff" stroke-width="20.1"/>
<path d="M1360.2 828.4 L1360.1 831.4 L1359.9 834.4 L1359.8 837.4 L1359.7 840.4" stroke="#ffffff" stroke-width="20.3"/>
<path d="M1359.8 837.4 L1359.7 840.4 L1359.6 843.4 L1359.5 846.3 L1359.5 849.3" stroke="#ffffff" stroke-width="20.4"/>
<path d="M1359.5 846.3 L1359.5 849.3 L1359.4 852.3 L1359.4 855.3 L1359.3 858.3" stroke="#ffffff" stroke-width="20.5"/>
<path d="M1359.4 855.3 L1359.3 858.3 L1359.3 861.3 L1359.3 864.3 L1359.3 867.3" stroke="#ffffff" stroke-width="20.6"/>
<path d="M1359.3 864.3 L1359.3 867.3 L1359.3 870.2 L1359.3 873.2 L1359.4 876.2" stroke="#ffffff" stroke-width="20.7"/>
<path d="M1359.3 873.2 L1359.4 876.2 L1359.4 879.2 L1359.5 882.2 L1359.5 885.1" stroke="#ffffff" stroke-width="20.7"/>
<path d="M1359.5 882.2 L1359.5 885.1 L1359.6 888.1 L1359.7 891.1 L1359.8 894.1" stroke="#ffffff" stroke-width="20.8"/>
<path d="M1359.7 891.1 L1359.8 894.1 L1359.8 897.1 L1359.9 900.0 L1360.0 903.0" stroke="#ffffff" stroke-width="20.9"/>
<path d="M1359.9 900.0 L1360.0 903.0 L1360.2 906.0 L1360.3 909.0 L1360.4 912.0" stroke="#ffffff" stroke-width="20.9"/>
<path d="M1360.3 909.0 L1360.4 912.0 L1360.5 914.9 L1360.7 917.9 L1360.8 920.9" stroke="#ffffff" stroke-width="21.0"/>
<path d="M1360.7 917.9 L1360.8 920.9 L1360.9 923.9 L1361.1 926.8 L1361.2 929.8" stroke="#ffffff" stroke-width="21.1"/>
<path d="M1361.1 926.8 L1361.2 929.8 L1361.4 932.8 L1361.5 935.8 L1361.7 938.8" stroke="#ffffff" stroke-width="21.2"/>
<path d="M1361.5 935.8 L1361.7 938.8 L1361.9 941.8 L1362.0 944.7 L1362.2 947.7" stroke="#ffffff" stroke-width="21.2"/>
<path d="M1362.0 944.7 L1362.2 947.7 L1362.3 950.7 L1362.5 953.7 L1362.7 956.7" stroke="#ffffff" stroke-width="21.3"/>
<path d="M1362.5 953.7 L1362.7 956.7 L1362.8 959.7 L1363.0 962.7 L1363.2 965.6" stroke="#ffffff" stroke-width="21.4"/>
<path d="M1363.0 962.7 L1363.2 965.6 L1363.3 968.6 L1363.5 971.6 L1363.6 974.6" stroke="#ffffff" stroke-width="21.5"/>
<path d="M1363.5 971.6 L1363.6 974.6 L1363.8 977.6 L1363.9 980.6 L1364.1 983.6" stroke="#ffffff" stroke-width="21.5"/>
<path d="M1363.9 980.6 L1364.1 983.6 L1364.2 986.6 L1364.4 989.6 L1364.5 992.6" stroke="#ffffff" stroke-width="21.6"/>
<path d="M1364.4 989.6 L1364.5 992.6 L1364.7 995.6 L1364.8 998.6 L1364.9 1001.6" stroke="#ffffff" stroke-width="21.7"/>
<path d="M1364.8 998.6 L1364.9 1001.6 L1365.0 1004.7 L1365.2 1007.7 L1365.3 1010.7" stroke="#fefdfe" stroke-width="21.7"/>
<path d="M1365.2 1007.7 L1365.3 1010.7 L1365.4 1013.7 L1365.5 1016.7 L1365.6 1019.7" stroke="#fcf9fc" stroke-width="21.8"/>
<path d="M1365.5 1016.7 L1365.6 1019.7 L1365.6 1022.8 L1365.7 1025.8 L1365.8 1028.8" stroke="#fbf6fb" stroke-width="21.9"/>
<path d="M1365.7 1025.8 L1365.8 1028.8 L1365.8 1031.9 L1365.9 1034.9 L1365.9 1037.9" stroke="#f9f2f9" stroke-width="22.0"/>
<path d="M1365.9 1034.9 L1365.9 1037.9 L1366.0 1041.0 L1366.0 1044.0" stroke="#f8f0f8" stroke-width="22.0"/>
</g>
<g filter="url(#b2)">
<ellipse cx="1205.0" cy="285.0" rx="5" ry="7" fill="#eefaea" transform="rotate(0 1205.0 285.0)"/>
<ellipse cx="1205.0" cy="305.0" rx="6" ry="8" fill="#f4fff0" transform="rotate(0 1205.0 305.0)"/>
<ellipse cx="1411.0" cy="335.0" rx="5" ry="6" fill="#dcece6" transform="rotate(28 1411.0 335.0)"/>
<ellipse cx="1420.0" cy="315.0" rx="4" ry="8" fill="#aab8b4" transform="rotate(28 1420.0 315.0)"/>
<ellipse cx="1602.5" cy="426.0" rx="6" ry="5" fill="#e0f0ea" transform="rotate(-33 1602.5 426.0)"/>
<ellipse cx="1621.0" cy="414.0" rx="6" ry="4" fill="#c8dcd4" transform="rotate(-33 1621.0 414.0)"/>
<ellipse cx="1740.0" cy="572.0" rx="10" ry="5" fill="#ffffff" transform="rotate(0 1740.0 572.0)"/>
<ellipse cx="1763.0" cy="572.0" rx="8" ry="4" fill="#f0f8f0" transform="rotate(0 1763.0 572.0)"/>
</g></g>
<g id="ruler">
<clipPath id="clipRul"><rect x="2063" y="36" width="90" height="1000"/></clipPath>
<g clip-path="url(#clipRul)">
<rect x="2063" y="36" width="90" height="1000" fill="url(#gRulV)"/>
<rect x="2063" y="36" width="90" height="1000" fill="url(#gRulH)"/>
<rect x="2060" y="432" width="38" height="620" fill="#65735a" opacity="0.85" filter="url(#b3)"/>
<g filter="url(#b2)" fill="#aab4a0" opacity="0.5">
<rect x="2068.1" y="438.6" width="9.6" height="3.2"/>
<rect x="2071.1" y="453.3" width="5.4" height="4.5"/>
<rect x="2072.1" y="462.3" width="5.5" height="3.3"/>
<rect x="2077.6" y="478.4" width="5.9" height="3.7"/>
<rect x="2079.3" y="493.0" width="9.0" height="4.2"/>
<rect x="2066.7" y="508.8" width="11.0" height="3.9"/>
<rect x="2067.6" y="515.2" width="7.2" height="5.4"/>
<rect x="2074.1" y="528.4" width="9.5" height="4.1"/>
<rect x="2066.9" y="544.4" width="5.4" height="3.6"/>
<rect x="2072.0" y="558.4" width="7.2" height="4.8"/>
<rect x="2070.2" y="569.6" width="10.6" height="5.1"/>
<rect x="2074.0" y="581.0" width="8.7" height="5.6"/>
<rect x="2070.0" y="597.8" width="11.9" height="3.4"/>
<rect x="2076.6" y="608.3" width="6.1" height="4.5"/>
<rect x="2075.4" y="618.3" width="10.4" height="4.7"/>
<rect x="2070.4" y="638.0" width="9.9" height="4.8"/>
<rect x="2072.4" y="648.6" width="10.9" height="5.8"/>
<rect x="2075.3" y="660.8" width="5.4" height="5.1"/>
<rect x="2079.9" y="675.2" width="10.8" height="3.9"/>
<rect x="2075.4" y="686.1" width="5.2" height="4.4"/>
<rect x="2067.6" y="697.3" width="5.4" height="5.3"/>
<rect x="2069.5" y="710.0" width="7.7" height="5.6"/>
<rect x="2072.3" y="722.6" width="8.8" height="5.7"/>
<rect x="2078.1" y="741.6" width="6.9" height="4.2"/>
<rect x="2078.4" y="750.9" width="11.7" height="3.5"/>
<rect x="2069.2" y="762.4" width="6.6" height="4.5"/>
<rect x="2069.7" y="778.7" width="5.0" height="4.3"/>
<rect x="2073.9" y="790.0" width="11.7" height="5.1"/>
<rect x="2074.6" y="804.1" width="9.7" height="3.2"/>
<rect x="2076.9" y="820.2" width="11.1" height="5.4"/>
<rect x="2071.6" y="829.1" width="5.7" height="4.9"/>
<rect x="2066.9" y="839.5" width="6.5" height="3.5"/>
<rect x="2066.7" y="854.7" width="5.0" height="3.5"/>
<rect x="2071.1" y="865.8" width="5.2" height="5.6"/>
<rect x="2068.1" y="882.9" width="6.8" height="4.0"/>
<rect x="2067.7" y="893.9" width="10.9" height="6.0"/>
<rect x="2072.8" y="907.7" width="5.6" height="3.3"/>
<rect x="2069.7" y="919.7" width="10.8" height="3.5"/>
<rect x="2079.3" y="930.2" width="8.7" height="3.4"/>
<rect x="2066.4" y="947.3" width="8.7" height="5.9"/>
<rect x="2075.7" y="962.9" width="6.8" height="4.1"/>
<rect x="2076.8" y="970.3" width="8.7" height="5.3"/>
<rect x="2069.1" y="984.6" width="10.7" height="6.0"/>
<rect x="2077.3" y="1001.8" width="10.7" height="5.2"/>
<rect x="2073.2" y="1009.8" width="7.5" height="3.1"/>
<rect x="2069.9" y="1021.2" width="6.8" height="5.1"/>
</g>
<g filter="url(#b15)">
<rect x="2065" y="39.3" width="49" height="5.2" fill="#46552f" opacity="1.00"/>
<rect x="2065" y="51.4" width="49" height="5.2" fill="#46552f" opacity="1.00"/>
<rect x="2065" y="63.0" width="85" height="6.0" fill="#46552f" opacity="1.00"/>
<rect x="2065" y="75.5" width="49" height="5.2" fill="#46552f" opacity="1.00"/>
<rect x="2065" y="87.5" width="49" height="5.2" fill="#46552f" opacity="1.00"/>
<rect x="2065" y="99.6" width="49" height="5.2" fill="#46552f" opacity="1.00"/>
<rect x="2065" y="111.6" width="49" height="5.2" fill="#46552f" opacity="1.00"/>
<rect x="2065" y="123.2" width="69" height="6.0" fill="#46552f" opacity="1.00"/>
<rect x="2065" y="135.7" width="49" height="5.2" fill="#46552f" opacity="1.00"/>
<rect x="2065" y="147.8" width="49" height="5.2" fill="#46552f" opacity="1.00"/>
<rect x="2065" y="159.8" width="49" height="5.2" fill="#46552f" opacity="1.00"/>
<rect x="2065" y="171.8" width="49" height="5.2" fill="#46552f" opacity="1.00"/>
<rect x="2065" y="183.5" width="85" height="6.0" fill="#46552f" opacity="1.00"/>
<rect x="2065" y="196.0" width="49" height="5.2" fill="#46552f" opacity="1.00"/>
<rect x="2065" y="208.0" width="49" height="5.2" fill="#46552f" opacity="1.00"/>
<rect x="2065" y="220.1" width="49" height="5.2" fill="#46552f" opacity="1.00"/>
<rect x="2065" y="232.1" width="49" height="5.2" fill="#46552f" opacity="1.00"/>
<rect x="2065" y="243.8" width="69" height="6.0" fill="#46552f" opacity="1.00"/>
<rect x="2065" y="256.2" width="49" height="5.2" fill="#46552f" opacity="1.00"/>
<rect x="2065" y="268.2" width="49" height="5.2" fill="#46552f" opacity="1.00"/>
<rect x="2065" y="280.3" width="49" height="5.2" fill="#46552f" opacity="1.00"/>
<rect x="2065" y="292.4" width="49" height="5.2" fill="#46552f" opacity="1.00"/>
<rect x="2065" y="304.0" width="85" height="6.0" fill="#46552f" opacity="1.00"/>
<rect x="2065" y="316.4" width="49" height="5.2" fill="#46552f" opacity="1.00"/>
<rect x="2065" y="328.5" width="49" height="5.2" fill="#46552f" opacity="1.00"/>
<rect x="2065" y="340.6" width="49" height="5.2" fill="#46552f" opacity="1.00"/>
<rect x="2065" y="352.6" width="49" height="5.2" fill="#46552f" opacity="1.00"/>
<rect x="2065" y="364.2" width="69" height="6.0" fill="#46552f" opacity="1.00"/>
<rect x="2065" y="376.7" width="49" height="5.2" fill="#46552f" opacity="1.00"/>
<rect x="2065" y="388.8" width="49" height="5.2" fill="#46552f" opacity="1.00"/>
<rect x="2065" y="400.8" width="49" height="5.2" fill="#46552f" opacity="1.00"/>
<rect x="2065" y="412.9" width="49" height="5.2" fill="#46552f" opacity="1.00"/>
<rect x="2097" y="424.5" width="53" height="6.0" fill="#46552f" opacity="0.72"/>
<rect x="2097" y="437.1" width="15" height="5.0" fill="#46552f" opacity="0.72"/>
<rect x="2097" y="449.1" width="15" height="5.0" fill="#46552f" opacity="0.72"/>
<rect x="2097" y="461.2" width="15" height="5.0" fill="#46552f" opacity="0.72"/>
<rect x="2097" y="473.2" width="15" height="5.0" fill="#46552f" opacity="0.72"/>
<rect x="2097" y="484.8" width="37" height="6.0" fill="#46552f" opacity="0.72"/>
<rect x="2097" y="497.3" width="15" height="5.0" fill="#46552f" opacity="0.72"/>
<rect x="2097" y="509.4" width="15" height="5.0" fill="#46552f" opacity="0.72"/>
<rect x="2097" y="521.4" width="15" height="5.0" fill="#46552f" opacity="0.72"/>
<rect x="2097" y="533.5" width="15" height="5.0" fill="#46552f" opacity="0.72"/>
<rect x="2097" y="545.0" width="53" height="6.0" fill="#46552f" opacity="0.72"/>
<rect x="2097" y="557.5" width="15" height="5.0" fill="#46552f" opacity="0.72"/>
<rect x="2097" y="569.6" width="15" height="5.0" fill="#46552f" opacity="0.72"/>
<rect x="2097" y="581.6" width="15" height="5.0" fill="#46552f" opacity="0.72"/>
<rect x="2097" y="593.7" width="15" height="5.0" fill="#46552f" opacity="0.72"/>
<rect x="2097" y="605.2" width="37" height="6.0" fill="#46552f" opacity="0.72"/>
<rect x="2097" y="617.8" width="15" height="5.0" fill="#46552f" opacity="0.72"/>
<rect x="2097" y="629.9" width="15" height="5.0" fill="#46552f" opacity="0.72"/>
<rect x="2097" y="641.9" width="15" height="5.0" fill="#46552f" opacity="0.72"/>
<rect x="2097" y="654.0" width="15" height="5.0" fill="#46552f" opacity="0.72"/>
<rect x="2097" y="665.5" width="53" height="6.0" fill="#46552f" opacity="0.72"/>
<rect x="2097" y="678.1" width="15" height="5.0" fill="#46552f" opacity="0.72"/>
<rect x="2097" y="690.1" width="15" height="5.0" fill="#46552f" opacity="0.72"/>
<rect x="2097" y="702.2" width="15" height="5.0" fill="#46552f" opacity="0.72"/>
<rect x="2097" y="714.2" width="15" height="5.0" fill="#46552f" opacity="0.72"/>
<rect x="2097" y="725.8" width="37" height="6.0" fill="#46552f" opacity="0.55"/>
<rect x="2097" y="738.3" width="15" height="5.0" fill="#46552f" opacity="0.55"/>
<rect x="2097" y="750.4" width="15" height="5.0" fill="#46552f" opacity="0.55"/>
<rect x="2097" y="762.4" width="15" height="5.0" fill="#46552f" opacity="0.55"/>
<rect x="2097" y="774.5" width="15" height="5.0" fill="#46552f" opacity="0.55"/>
<rect x="2097" y="786.0" width="53" height="6.0" fill="#46552f" opacity="0.55"/>
<rect x="2097" y="798.6" width="15" height="5.0" fill="#46552f" opacity="0.55"/>
<rect x="2097" y="810.6" width="15" height="5.0" fill="#46552f" opacity="0.55"/>
<rect x="2097" y="822.7" width="15" height="5.0" fill="#46552f" opacity="0.55"/>
<rect x="2097" y="834.7" width="15" height="5.0" fill="#46552f" opacity="0.55"/>
<rect x="2097" y="846.2" width="37" height="6.0" fill="#46552f" opacity="0.55"/>
<rect x="2097" y="858.8" width="15" height="5.0" fill="#46552f" opacity="0.55"/>
<rect x="2097" y="870.9" width="15" height="5.0" fill="#46552f" opacity="0.55"/>
<rect x="2097" y="882.9" width="15" height="5.0" fill="#46552f" opacity="0.55"/>
<rect x="2097" y="895.0" width="15" height="5.0" fill="#46552f" opacity="0.55"/>
<rect x="2097" y="906.5" width="53" height="6.0" fill="#46552f" opacity="0.55"/>
<rect x="2097" y="919.1" width="15" height="5.0" fill="#46552f" opacity="0.55"/>
<rect x="2097" y="931.1" width="15" height="5.0" fill="#46552f" opacity="0.55"/>
<rect x="2097" y="943.2" width="15" height="5.0" fill="#46552f" opacity="0.55"/>
<rect x="2097" y="955.2" width="15" height="5.0" fill="#46552f" opacity="0.55"/>
<rect x="2097" y="966.8" width="37" height="6.0" fill="#46552f" opacity="0.55"/>
<rect x="2097" y="979.3" width="15" height="5.0" fill="#46552f" opacity="0.55"/>
<rect x="2097" y="991.4" width="15" height="5.0" fill="#46552f" opacity="0.55"/>
<rect x="2097" y="1003.4" width="15" height="5.0" fill="#46552f" opacity="0.55"/>
<rect x="2097" y="1015.5" width="15" height="5.0" fill="#46552f" opacity="0.55"/>
<rect x="2097" y="1027.0" width="53" height="6.0" fill="#46552f" opacity="0.55"/>
</g>
<g filter="url(#b15)" fill="#2a3618" font-size="37" font-weight="bold">
<text transform="translate(2120 74.0) rotate(90)" x="0" y="0" opacity="1.00">5</text>
<text transform="translate(2120 194.5) rotate(90)" x="0" y="0" opacity="1.00">4</text>
<text transform="translate(2120 315.0) rotate(90)" x="0" y="0" opacity="1.00">3</text>
<text transform="translate(2120 435.5) rotate(90)" x="0" y="0" opacity="0.90">2</text>
<text transform="translate(2120 556.0) rotate(90)" x="0" y="0" opacity="0.80">1</text>
<text transform="translate(2120 676.5) rotate(90)" x="0" y="0" opacity="0.75">0</text>
<text transform="translate(2120 797.0) rotate(90)" x="0" y="0" opacity="0.65">1</text>
<text transform="translate(2120 917.5) rotate(90)" x="0" y="0" opacity="0.60">2</text>
</g>
<rect x="2059" y="20" width="7" height="1030" fill="#1c2016" opacity="0.45" filter="url(#b2)"/>
</g>
</g>
<g filter="url(#b15)" fill="#e0e0e0" font-size="80" stroke="#e0e0e0" stroke-width="1.6">
<text x="73.5" y="106.5" textLength="70" lengthAdjust="spacingAndGlyphs">0°</text>
<text x="351.5" y="140.5" textLength="114" lengthAdjust="spacingAndGlyphs">30°</text>
<text x="674.5" y="288.0" textLength="114" lengthAdjust="spacingAndGlyphs">60°</text>
<text x="876.5" y="541.0" textLength="112" lengthAdjust="spacingAndGlyphs">90°</text>
<text x="1117.5" y="103.0" textLength="71" lengthAdjust="spacingAndGlyphs">0°</text>
<text x="1414.0" y="131.0" textLength="114" lengthAdjust="spacingAndGlyphs">30°</text>
<text x="1737.5" y="273.0" textLength="113" lengthAdjust="spacingAndGlyphs">60°</text>
<text x="1940.5" y="530.5" textLength="110" lengthAdjust="spacingAndGlyphs">90°</text>
</g>
<g filter="url(#b15)" fill="#e0e0e0" font-size="78" stroke="#e0e0e0" stroke-width="1.5">
<text x="444" y="984" textLength="226" lengthAdjust="spacingAndGlyphs">NIR off</text>
<text x="1575" y="980" textLength="224" lengthAdjust="spacingAndGlyphs">NIR on</text>
</g>
<text class="serif" x="74" y="990.5" font-size="137" font-weight="bold" fill="#ffffff" textLength="56.5" lengthAdjust="spacingAndGlyphs" filter="url(#b1)">a</text>
</g>
<g id="panel-b">
<text class="serif" x="70" y="1128" font-size="130" fill="#151515" textLength="64.5" lengthAdjust="spacingAndGlyphs" filter="url(#b1)">b</text>
<clipPath id="c00"><rect x="224.3" y="1168.0" width="111.0" height="148.0"/></clipPath>
<rect x="222.8" y="1166.5" width="114.0" height="151.0" fill="#e4e4e4" filter="url(#b2)"/>
<g clip-path="url(#c00)">
<rect x="224.3" y="1168.0" width="111.0" height="148.0" fill="#d2d2d2"/>
<g filter="url(#b5)">
<ellipse cx="222.3" cy="1308.6" rx="14.4" ry="26.6" fill="#9a9a9a"/>
<ellipse cx="337.3" cy="1310.1" rx="13.3" ry="20.7" fill="#a2a2a2"/>
<ellipse cx="279.8" cy="1286.4" rx="33.3" ry="14.8" fill="#e6e6e6"/>
<ellipse cx="279.8" cy="1256.8" rx="50.0" ry="5.9" fill="#b4b4b4"/>
<ellipse cx="279.8" cy="1230.2" rx="20.0" ry="14.8" fill="#dedede"/>
</g>
<g filter="url(#b5)">
<polygon points="224.3,1168.0 279.8,1168.0 274.2,1190.2 257.6,1212.4 241.0,1231.6 224.3,1234.6" fill="#565656"/>
<polygon points="295.3,1168.0 335.3,1168.0 335.3,1246.4 319.8,1242.0 313.1,1219.8 299.8,1197.6" fill="#565656"/>
<ellipse cx="233.2" cy="1262.7" rx="15.5" ry="5.9" fill="#858585"/>
<ellipse cx="318.6" cy="1274.6" rx="11.1" ry="10.4" fill="#9a9a9a"/>
</g>
<g filter="url(#b2)" opacity="0.55">
<rect x="231.9" y="1163.0" width="7" height="56.8" fill="#444"/>
<rect x="251.8" y="1163.0" width="5" height="37.6" fill="#8c8c8c"/>
<rect x="308.9" y="1163.0" width="4" height="34.6" fill="#8a8a8a"/>
<rect x="320.2" y="1163.0" width="8" height="56.8" fill="#444"/>
</g>
<rect x="286.5" y="1165.0" width="6.7" height="43.0" fill="#fbfbfb" filter="url(#b15)"/>
</g>
<rect x="224.3" y="1168.0" width="111.0" height="148.0" fill="none" stroke="#ffffff" stroke-opacity="0.35" stroke-width="3" filter="url(#b1)"/>
<clipPath id="c10"><rect x="351.2" y="1168.0" width="111.6" height="148.0"/></clipPath>
<rect x="349.7" y="1166.5" width="114.6" height="151.0" fill="#e4e4e4" filter="url(#b2)"/>
<g clip-path="url(#c10)">
<rect x="351.2" y="1168.0" width="111.6" height="148.0" fill="#d4d4d4"/>
<g filter="url(#b5)">
<ellipse cx="349.2" cy="1308.6" rx="14.5" ry="26.6" fill="#9a9a9a"/>
<ellipse cx="464.8" cy="1310.1" rx="13.4" ry="20.7" fill="#a2a2a2"/>
<ellipse cx="407.0" cy="1286.4" rx="33.5" ry="14.8" fill="#e6e6e6"/>
<ellipse cx="407.0" cy="1256.8" rx="50.2" ry="5.9" fill="#b4b4b4"/>
<ellipse cx="407.0" cy="1230.2" rx="20.1" ry="14.8" fill="#dedede"/>
</g>
<g filter="url(#b5)">
<polygon points="351.2,1168.0 407.0,1168.0 401.4,1197.6 384.7,1224.2 367.9,1242.0 351.2,1245.0" fill="#565656"/>
<polygon points="420.4,1168.0 462.8,1168.0 462.8,1253.8 449.4,1250.9 440.5,1227.2 424.9,1200.6" fill="#565656"/>
<ellipse cx="360.1" cy="1279.0" rx="7.8" ry="20.7" fill="#9a9a9a"/>
<ellipse cx="448.3" cy="1279.0" rx="10.0" ry="7.4" fill="#909090"/>
</g>
<g filter="url(#b2)" opacity="0.55">
<rect x="358.9" y="1163.0" width="7" height="56.8" fill="#444"/>
<rect x="378.8" y="1163.0" width="5" height="37.6" fill="#8c8c8c"/>
<rect x="436.2" y="1163.0" width="4" height="34.6" fill="#8a8a8a"/>
<rect x="447.6" y="1163.0" width="8" height="56.8" fill="#444"/>
</g>
<rect x="409.2" y="1165.0" width="8.9" height="38.5" fill="#fbfbfb" filter="url(#b15)"/>
<polygon points="447.2,1230.2 445.2,1239.5 439.3,1247.8 430.4,1253.9 419.5,1257.1 407.9,1257.1 397.0,1253.9 388.0,1247.8 382.2,1239.5 380.2,1230.2 382.2,1220.8 388.0,1212.6 397.0,1206.4 407.9,1203.2 419.5,1203.2 430.4,1206.4 439.3,1212.6 445.2,1220.8" fill="#d9ccf6" stroke="#d9ccf6" stroke-width="7" stroke-linejoin="round" filter="url(#b2)" opacity="0.8"/>
<polygon points="447.2,1230.2 445.2,1239.5 439.3,1247.8 430.4,1253.9 419.5,1257.1 407.9,1257.1 397.0,1253.9 388.0,1247.8 382.2,1239.5 380.2,1230.2 382.2,1220.8 388.0,1212.6 397.0,1206.4 407.9,1203.2 419.5,1203.2 430.4,1206.4 439.3,1212.6 445.2,1220.8" fill="#5a3fb2" stroke="#5a3fb2" stroke-width="3" stroke-linejoin="round" filter="url(#b15)"/>
<g filter="url(#b5)" transform="rotate(0 415.9 1230.2)">
<ellipse cx="415.9" cy="1230.2" rx="14.5" ry="13.3" fill="#4a44b6"/>
<ellipse cx="415.9" cy="1230.2" rx="7.8" ry="7.4" fill="#3a4ab2"/>
</g>
</g>
<rect x="351.2" y="1168.0" width="111.6" height="148.0" fill="none" stroke="#ffffff" stroke-opacity="0.35" stroke-width="3" filter="url(#b1)"/>
<clipPath id="c20"><rect x="474.0" y="1168.0" width="111.4" height="148.0"/></clipPath>
<rect x="472.5" y="1166.5" width="114.4" height="151.0" fill="#e4e4e4" filter="url(#b2)"/>
<g clip-path="url(#c20)">
<rect x="474.0" y="1168.0" width="111.4" height="148.0" fill="#d4d4d4"/>
<g filter="url(#b5)">
<ellipse cx="472.0" cy="1308.6" rx="14.5" ry="26.6" fill="#9a9a9a"/>
<ellipse cx="587.4" cy="1310.1" rx="13.4" ry="20.7" fill="#a2a2a2"/>
<ellipse cx="529.7" cy="1286.4" rx="33.4" ry="14.8" fill="#e6e6e6"/>
<ellipse cx="529.7" cy="1256.8" rx="50.1" ry="5.9" fill="#b4b4b4"/>
<ellipse cx="529.7" cy="1230.2" rx="20.1" ry="14.8" fill="#dedede"/>
</g>
<g filter="url(#b5)">
<polygon points="474.0,1168.0 518.6,1168.0 507.4,1205.0 490.7,1230.2 474.0,1236.1" fill="#565656"/>
<polygon points="529.7,1168.0 585.4,1168.0 585.4,1249.4 568.7,1242.0 552.0,1212.4" fill="#565656"/>
<ellipse cx="480.7" cy="1265.7" rx="7.8" ry="5.9" fill="#777"/>
<ellipse cx="480.7" cy="1280.5" rx="7.8" ry="4.4" fill="#888"/>
<ellipse cx="577.6" cy="1280.5" rx="7.8" ry="5.9" fill="#777"/>
</g>
<g filter="url(#b2)" opacity="0.55">
<rect x="481.6" y="1163.0" width="7" height="56.8" fill="#444"/>
<rect x="501.6" y="1163.0" width="5" height="37.6" fill="#8c8c8c"/>
<rect x="558.9" y="1163.0" width="4" height="34.6" fill="#8a8a8a"/>
<rect x="570.3" y="1163.0" width="8" height="56.8" fill="#444"/>
</g>
<rect x="510.8" y="1165.0" width="13.4" height="32.6" fill="#fbfbfb" filter="url(#b15)"/>
<polygon points="527.5,1193.2 507.4,1200.6 490.7,1206.5 487.4,1242.0 501.9,1252.4 518.6,1264.2 540.8,1270.1 552.0,1277.5 568.7,1280.5 583.2,1268.6 583.2,1256.8 568.7,1242.0 555.3,1230.2 552.0,1205.0 536.4,1196.1" fill="#d9ccf6" stroke="#d9ccf6" stroke-width="7" stroke-linejoin="round" filter="url(#b2)" opacity="0.8"/>
<polygon points="527.5,1193.2 507.4,1200.6 490.7,1206.5 487.4,1242.0 501.9,1252.4 518.6,1264.2 540.8,1270.1 552.0,1277.5 568.7,1280.5 583.2,1268.6 583.2,1256.8 568.7,1242.0 555.3,1230.2 552.0,1205.0 536.4,1196.1" fill="#5a3fb2" stroke="#5a3fb2" stroke-width="3" stroke-linejoin="round" filter="url(#b15)"/>
<g filter="url(#b2)" transform="rotate(0 531.9 1225.0)">
<ellipse cx="531.9" cy="1225.0" rx="16.7" ry="15.5" fill="#4248b8"/>
<ellipse cx="531.9" cy="1225.0" rx="11.1" ry="10.4" fill="#3462c4"/>
<ellipse cx="531.9" cy="1225.0" rx="7.8" ry="7.4" fill="#3ec0b0"/>
<ellipse cx="531.9" cy="1225.0" rx="4.5" ry="4.1" fill="#48d494"/>
</g>
</g>
<rect x="474.0" y="1168.0" width="111.4" height="148.0" fill="none" stroke="#ffffff" stroke-opacity="0.35" stroke-width="3" filter="url(#b1)"/>
<clipPath id="c01"><rect x="224.3" y="1331.0" width="111.0" height="148.5"/></clipPath>
<rect x="222.8" y="1329.5" width="114.0" height="151.5" fill="#e4e4e4" filter="url(#b2)"/>
<g clip-path="url(#c01)">
<rect x="224.3" y="1331.0" width="111.0" height="148.5" fill="#c6c6c6"/>
<g filter="url(#b5)">
<ellipse cx="222.3" cy="1472.1" rx="14.4" ry="26.7" fill="#9a9a9a"/>
<ellipse cx="337.3" cy="1473.6" rx="13.3" ry="20.8" fill="#a2a2a2"/>
<ellipse cx="279.8" cy="1449.8" rx="33.3" ry="14.9" fill="#e6e6e6"/>
<ellipse cx="279.8" cy="1420.1" rx="50.0" ry="5.9" fill="#b4b4b4"/>
<ellipse cx="279.8" cy="1393.4" rx="20.0" ry="14.9" fill="#dedede"/>
</g>
<g filter="url(#b5)">
<polygon points="224.3,1331.0 270.9,1331.0 268.7,1372.6 252.1,1393.4 241.0,1412.7 224.3,1420.1" fill="#565656"/>
<polygon points="288.7,1331.0 335.3,1331.0 335.3,1420.1 324.2,1412.7 313.1,1390.4 304.2,1372.6" fill="#565656"/>
<ellipse cx="232.1" cy="1449.8" rx="11.1" ry="6.7" fill="#7c7c7c"/>
<ellipse cx="327.5" cy="1449.8" rx="11.1" ry="6.7" fill="#7c7c7c"/>
</g>
<g filter="url(#b2)" opacity="0.55">
<rect x="231.9" y="1326.0" width="7" height="57.0" fill="#444"/>
<rect x="251.8" y="1326.0" width="5" height="37.7" fill="#8c8c8c"/>
<rect x="308.9" y="1326.0" width="4" height="34.7" fill="#8a8a8a"/>
<rect x="320.2" y="1326.0" width="8" height="57.0" fill="#444"/>
</g>
<rect x="270.9" y="1328.0" width="6.7" height="55.0" fill="#fbfbfb" filter="url(#b15)"/>
</g>
<rect x="224.3" y="1331.0" width="111.0" height="148.5" fill="none" stroke="#ffffff" stroke-opacity="0.35" stroke-width="3" filter="url(#b1)"/>
<clipPath id="c11"><rect x="351.2" y="1331.0" width="111.6" height="148.5"/></clipPath>
<rect x="349.7" y="1329.5" width="114.6" height="151.5" fill="#e4e4e4" filter="url(#b2)"/>
<g clip-path="url(#c11)">
<rect x="351.2" y="1331.0" width="111.6" height="148.5" fill="#d6d6d6"/>
<g filter="url(#b5)">
<ellipse cx="349.2" cy="1472.1" rx="14.5" ry="26.7" fill="#9a9a9a"/>
<ellipse cx="464.8" cy="1473.6" rx="13.4" ry="20.8" fill="#a2a2a2"/>
<ellipse cx="407.0" cy="1449.8" rx="33.5" ry="14.9" fill="#e6e6e6"/>
<ellipse cx="407.0" cy="1420.1" rx="50.2" ry="5.9" fill="#b4b4b4"/>
<ellipse cx="407.0" cy="1393.4" rx="20.1" ry="14.9" fill="#dedede"/>
</g>
<g filter="url(#b5)">
<polygon points="351.2,1331.0 395.8,1331.0 384.7,1360.7 362.4,1390.4 351.2,1397.8" fill="#565656"/>
<polygon points="420.4,1331.0 462.8,1331.0 462.8,1405.2 446.1,1383.0 434.9,1353.3" fill="#565656"/>
<ellipse cx="457.2" cy="1467.6" rx="8.9" ry="11.9" fill="#909090"/>
</g>
<g filter="url(#b2)" opacity="0.55">
<rect x="358.9" y="1326.0" width="7" height="57.0" fill="#444"/>
<rect x="378.8" y="1326.0" width="5" height="37.7" fill="#8c8c8c"/>
<rect x="436.2" y="1326.0" width="4" height="34.7" fill="#8a8a8a"/>
<rect x="447.6" y="1326.0" width="8" height="57.0" fill="#444"/>
</g>
<rect x="398.1" y="1328.0" width="20.1" height="22.3" fill="#fbfbfb" filter="url(#b15)"/>
<polygon points="381.3,1354.8 407.0,1350.3 433.8,1349.6 441.6,1371.1 446.6,1385.9 460.6,1396.3 460.6,1411.2 451.6,1429.0 432.7,1430.5 414.3,1424.6 398.1,1415.6 389.1,1407.5 374.6,1420.8 386.9,1427.5 376.9,1440.9 367.9,1451.3 353.4,1452.8 351.2,1393.4 366.8,1381.5 376.9,1365.2" fill="#d9ccf6" stroke="#d9ccf6" stroke-width="7" stroke-linejoin="round" filter="url(#b2)" opacity="0.8"/>
<polygon points="381.3,1354.8 407.0,1350.3 433.8,1349.6 441.6,1371.1 446.6,1385.9 460.6,1396.3 460.6,1411.2 451.6,1429.0 432.7,1430.5 414.3,1424.6 398.1,1415.6 389.1,1407.5 374.6,1420.8 386.9,1427.5 376.9,1440.9 367.9,1451.3 353.4,1452.8 351.2,1393.4 366.8,1381.5 376.9,1365.2" fill="#5a3fb2" stroke="#5a3fb2" stroke-width="3" stroke-linejoin="round" filter="url(#b15)"/>
<g filter="url(#b3)" transform="rotate(0 422.6 1381.5)">
<ellipse cx="422.6" cy="1381.5" rx="16.7" ry="16.3" fill="#4448b8"/>
<ellipse cx="422.6" cy="1381.5" rx="10.0" ry="9.7" fill="#3458c0"/>
<ellipse cx="422.6" cy="1381.5" rx="5.0" ry="4.8" fill="#4c8ce0"/>
</g>
</g>
<rect x="351.2" y="1331.0" width="111.6" height="148.5" fill="none" stroke="#ffffff" stroke-opacity="0.35" stroke-width="3" filter="url(#b1)"/>
<clipPath id="c21"><rect x="474.0" y="1331.0" width="111.4" height="148.5"/></clipPath>
<rect x="472.5" y="1329.5" width="114.4" height="151.5" fill="#e4e4e4" filter="url(#b2)"/>
<g clip-path="url(#c21)">
<rect x="474.0" y="1331.0" width="111.4" height="148.5" fill="#7a68b8"/>
<g filter="url(#b5)">
<ellipse cx="472.0" cy="1472.1" rx="14.5" ry="26.7" fill="#9a9a9a"/>
<ellipse cx="587.4" cy="1473.6" rx="13.4" ry="20.8" fill="#a2a2a2"/>
<ellipse cx="529.7" cy="1449.8" rx="33.4" ry="14.9" fill="#e6e6e6"/>
<ellipse cx="529.7" cy="1420.1" rx="50.1" ry="5.9" fill="#b4b4b4"/>
<ellipse cx="529.7" cy="1393.4" rx="20.1" ry="14.9" fill="#dedede"/>
</g>
<g filter="url(#b5)">
<polygon points="474.0,1331.0 513.0,1331.0 507.4,1353.3 474.0,1360.7" fill="#565656"/>
<polygon points="529.7,1331.0 585.4,1331.0 585.4,1390.4 568.7,1375.5 557.5,1348.8" fill="#565656"/>
</g>
<g filter="url(#b2)" opacity="0.55">
<rect x="481.6" y="1326.0" width="7" height="57.0" fill="#444"/>
<rect x="501.6" y="1326.0" width="5" height="37.7" fill="#8c8c8c"/>
<rect x="558.9" y="1326.0" width="4" height="34.7" fill="#8a8a8a"/>
<rect x="570.3" y="1326.0" width="8" height="57.0" fill="#444"/>
</g>
<rect x="514.1" y="1328.0" width="11.1" height="20.8" fill="#fbfbfb" filter="url(#b15)"/>
<polygon points="484.0,1351.8 518.6,1350.3 563.1,1350.3 569.8,1368.1 585.4,1375.5 585.4,1479.5 480.7,1479.5" fill="#d9ccf6" stroke="#d9ccf6" stroke-width="7" stroke-linejoin="round" filter="url(#b2)" opacity="0.8"/>
<polygon points="484.0,1351.8 518.6,1350.3 563.1,1350.3 569.8,1368.1 585.4,1375.5 585.4,1479.5 480.7,1479.5" fill="#5a3fb2" stroke="#5a3fb2" stroke-width="3" stroke-linejoin="round" filter="url(#b15)"/>
<g filter="url(#b2)" transform="rotate(25 544.2 1412.7)">
<ellipse cx="544.2" cy="1412.7" rx="35.6" ry="35.6" fill="#4846b6"/>
<ellipse cx="544.2" cy="1412.7" rx="27.8" ry="28.2" fill="#3656c0"/>
<ellipse cx="544.2" cy="1412.7" rx="24.0" ry="24.5" fill="#44b4dc"/>
<ellipse cx="544.2" cy="1412.7" rx="20.6" ry="20.8" fill="#58cc74"/>
<ellipse cx="544.2" cy="1412.7" rx="16.2" ry="16.3" fill="#c4d43c"/>
<ellipse cx="544.2" cy="1412.7" rx="13.4" ry="13.4" fill="#ee9030"/>
<ellipse cx="544.2" cy="1412.7" rx="9.5" ry="10.1" fill="#e82626"/>
</g>
</g>
<rect x="474.0" y="1331.0" width="111.4" height="148.5" fill="none" stroke="#ffffff" stroke-opacity="0.35" stroke-width="3" filter="url(#b1)"/>
<clipPath id="c02"><rect x="224.3" y="1493.0" width="111.0" height="149.5"/></clipPath>
<rect x="222.8" y="1491.5" width="114.0" height="152.5" fill="#e4e4e4" filter="url(#b2)"/>
<g clip-path="url(#c02)">
<rect x="224.3" y="1493.0" width="111.0" height="149.5" fill="#c6c6c6"/>
<g filter="url(#b5)">
<ellipse cx="222.3" cy="1635.0" rx="14.4" ry="26.9" fill="#9a9a9a"/>
<ellipse cx="337.3" cy="1636.5" rx="13.3" ry="20.9" fill="#a2a2a2"/>
<ellipse cx="279.8" cy="1612.6" rx="33.3" ry="15.0" fill="#e6e6e6"/>
<ellipse cx="279.8" cy="1582.7" rx="50.0" ry="6.0" fill="#b4b4b4"/>
<ellipse cx="279.8" cy="1555.8" rx="20.0" ry="15.0" fill="#dedede"/>
</g>
<g filter="url(#b5)">
<polygon points="224.3,1493.0 255.4,1493.0 252.1,1508.0 237.6,1537.8 227.6,1560.3 224.3,1560.3" fill="#565656"/>
<polygon points="270.9,1493.0 335.3,1493.0 335.3,1558.8 313.1,1561.8 304.2,1560.3 285.4,1530.4 273.1,1508.0" fill="#565656"/>
<ellipse cx="326.4" cy="1600.6" rx="11.1" ry="13.5" fill="#484848"/>
<ellipse cx="324.2" cy="1567.8" rx="13.3" ry="9.0" fill="#e8e8e8"/>
</g>
<g filter="url(#b2)" opacity="0.55">
<rect x="231.9" y="1488.0" width="7" height="57.3" fill="#444"/>
<rect x="251.8" y="1488.0" width="5" height="37.9" fill="#8c8c8c"/>
<rect x="308.9" y="1488.0" width="4" height="34.9" fill="#8a8a8a"/>
<rect x="320.2" y="1488.0" width="8" height="57.3" fill="#444"/>
</g>
<rect x="257.6" y="1490.0" width="11.1" height="35.9" fill="#fbfbfb" filter="url(#b15)"/>
</g>
<rect x="224.3" y="1493.0" width="111.0" height="149.5" fill="none" stroke="#ffffff" stroke-opacity="0.35" stroke-width="3" filter="url(#b1)"/>
<clipPath id="c12"><rect x="351.2" y="1493.0" width="111.6" height="149.5"/></clipPath>
<rect x="349.7" y="1491.5" width="114.6" height="152.5" fill="#e4e4e4" filter="url(#b2)"/>
<g clip-path="url(#c12)">
<rect x="351.2" y="1493.0" width="111.6" height="149.5" fill="#cecece"/>
<g filter="url(#b5)">
<ellipse cx="349.2" cy="1635.0" rx="14.5" ry="26.9" fill="#9a9a9a"/>
<ellipse cx="464.8" cy="1636.5" rx="13.4" ry="20.9" fill="#a2a2a2"/>
<ellipse cx="407.0" cy="1612.6" rx="33.5" ry="15.0" fill="#e6e6e6"/>
<ellipse cx="407.0" cy="1582.7" rx="50.2" ry="6.0" fill="#b4b4b4"/>
<ellipse cx="407.0" cy="1555.8" rx="20.1" ry="15.0" fill="#dedede"/>
</g>
<g filter="url(#b5)">
<polygon points="351.2,1493.0 407.0,1493.0 401.4,1530.4 379.1,1555.8 362.4,1575.2 351.2,1579.7" fill="#565656"/>
<polygon points="420.4,1493.0 462.8,1493.0 462.8,1582.7 451.6,1567.8 434.9,1537.8" fill="#565656"/>
<ellipse cx="355.7" cy="1609.6" rx="6.7" ry="9.0" fill="#777"/>
</g>
<g filter="url(#b2)" opacity="0.55">
<rect x="358.9" y="1488.0" width="7" height="57.3" fill="#444"/>
<rect x="378.8" y="1488.0" width="5" height="37.9" fill="#8c8c8c"/>
<rect x="436.2" y="1488.0" width="4" height="34.9" fill="#8a8a8a"/>
<rect x="447.6" y="1488.0" width="8" height="57.3" fill="#444"/>
</g>
<rect x="407.0" y="1490.0" width="13.4" height="35.9" fill="#fbfbfb" filter="url(#b15)"/>
<polygon points="402.5,1528.1 415.9,1524.4 428.2,1525.9 440.5,1534.9 448.3,1546.8 452.8,1575.2 448.3,1599.1 432.7,1600.6 412.6,1590.9 393.6,1576.7 385.8,1558.8 390.3,1540.8" fill="#d9ccf6" stroke="#d9ccf6" stroke-width="7" stroke-linejoin="round" filter="url(#b2)" opacity="0.8"/>
<polygon points="402.5,1528.1 415.9,1524.4 428.2,1525.9 440.5,1534.9 448.3,1546.8 452.8,1575.2 448.3,1599.1 432.7,1600.6 412.6,1590.9 393.6,1576.7 385.8,1558.8 390.3,1540.8" fill="#5a3fb2" stroke="#5a3fb2" stroke-width="3" stroke-linejoin="round" filter="url(#b15)"/>
<g filter="url(#b5)" transform="rotate(0 429.3 1560.3)">
<ellipse cx="429.3" cy="1560.3" rx="17.9" ry="16.4" fill="#4846b6"/>
<ellipse cx="429.3" cy="1560.3" rx="8.9" ry="8.2" fill="#3c4cb6"/>
</g>
</g>
<rect x="351.2" y="1493.0" width="111.6" height="149.5" fill="none" stroke="#ffffff" stroke-opacity="0.35" stroke-width="3" filter="url(#b1)"/>
<clipPath id="c22"><rect x="474.0" y="1493.0" width="111.4" height="149.5"/></clipPath>
<rect x="472.5" y="1491.5" width="114.4" height="152.5" fill="#e4e4e4" filter="url(#b2)"/>
<g clip-path="url(#c22)">
<rect x="474.0" y="1493.0" width="111.4" height="149.5" fill="#d0d0d0"/>
<g filter="url(#b5)">
<ellipse cx="472.0" cy="1635.0" rx="14.5" ry="26.9" fill="#9a9a9a"/>
<ellipse cx="587.4" cy="1636.5" rx="13.4" ry="20.9" fill="#a2a2a2"/>
<ellipse cx="529.7" cy="1612.6" rx="33.4" ry="15.0" fill="#e6e6e6"/>
<ellipse cx="529.7" cy="1582.7" rx="50.1" ry="6.0" fill="#b4b4b4"/>
<ellipse cx="529.7" cy="1555.8" rx="20.1" ry="15.0" fill="#dedede"/>
</g>
<g filter="url(#b5)">
<polygon points="474.0,1493.0 514.1,1493.0 507.4,1515.4 474.0,1537.8" fill="#565656"/>
<polygon points="531.9,1493.0 585.4,1493.0 585.4,1575.2 574.3,1567.8 557.5,1522.9" fill="#565656"/>
<ellipse cx="479.6" cy="1597.7" rx="6.7" ry="6.0" fill="#999"/>
</g>
<g filter="url(#b2)" opacity="0.55">
<rect x="481.6" y="1488.0" width="7" height="57.3" fill="#444"/>
<rect x="501.6" y="1488.0" width="5" height="37.9" fill="#8c8c8c"/>
<rect x="558.9" y="1488.0" width="4" height="34.9" fill="#8a8a8a"/>
<rect x="570.3" y="1488.0" width="8" height="57.3" fill="#444"/>
</g>
<rect x="516.3" y="1490.0" width="13.4" height="25.4" fill="#fbfbfb" filter="url(#b15)"/>
<polygon points="498.5,1516.2 530.8,1512.4 547.5,1519.9 550.9,1546.8 569.8,1560.3 573.1,1582.7 563.1,1606.6 547.5,1625.3 527.5,1619.3 503.0,1606.6 482.9,1590.9 474.0,1588.7 474.0,1536.4 486.3,1524.4" fill="#d9ccf6" stroke="#d9ccf6" stroke-width="7" stroke-linejoin="round" filter="url(#b2)" opacity="0.8"/>
<polygon points="498.5,1516.2 530.8,1512.4 547.5,1519.9 550.9,1546.8 569.8,1560.3 573.1,1582.7 563.1,1606.6 547.5,1625.3 527.5,1619.3 503.0,1606.6 482.9,1590.9 474.0,1588.7 474.0,1536.4 486.3,1524.4" fill="#5a3fb2" stroke="#5a3fb2" stroke-width="3" stroke-linejoin="round" filter="url(#b15)"/>
<g filter="url(#b3)" transform="rotate(0 531.9 1551.3)">
<ellipse cx="531.9" cy="1551.3" rx="26.7" ry="25.4" fill="#4248b8"/>
<ellipse cx="531.9" cy="1551.3" rx="16.7" ry="15.7" fill="#3056c0"/>
<ellipse cx="531.9" cy="1551.3" rx="8.4" ry="7.8" fill="#4a8ee0"/>
<ellipse cx="531.9" cy="1551.3" rx="4.5" ry="4.2" fill="#8cc8f4"/>
</g>
</g>
<rect x="474.0" y="1493.0" width="111.4" height="149.5" fill="none" stroke="#ffffff" stroke-opacity="0.35" stroke-width="3" filter="url(#b1)"/>
<clipPath id="c03"><rect x="224.3" y="1654.0" width="111.0" height="149.0"/></clipPath>
<rect x="222.8" y="1652.5" width="114.0" height="152.0" fill="#e4e4e4" filter="url(#b2)"/>
<g clip-path="url(#c03)">
<rect x="224.3" y="1654.0" width="111.0" height="149.0" fill="#cacaca"/>
<g filter="url(#b5)">
<ellipse cx="222.3" cy="1795.5" rx="14.4" ry="26.8" fill="#9a9a9a"/>
<ellipse cx="337.3" cy="1797.0" rx="13.3" ry="20.9" fill="#a2a2a2"/>
<ellipse cx="279.8" cy="1773.2" rx="33.3" ry="14.9" fill="#e6e6e6"/>
<ellipse cx="279.8" cy="1743.4" rx="50.0" ry="6.0" fill="#b4b4b4"/>
<ellipse cx="279.8" cy="1716.6" rx="20.0" ry="14.9" fill="#dedede"/>
</g>
<g filter="url(#b5)">
<polygon points="224.3,1654.0 270.9,1654.0 263.1,1683.8 246.5,1710.6 224.3,1743.4" fill="#565656"/>
<polygon points="288.7,1654.0 335.3,1654.0 335.3,1743.4 313.1,1713.6 293.1,1683.8" fill="#565656"/>
<ellipse cx="229.9" cy="1761.3" rx="8.9" ry="6.0" fill="#909090"/>
<ellipse cx="327.5" cy="1767.2" rx="8.9" ry="7.5" fill="#909090"/>
</g>
<g filter="url(#b2)" opacity="0.55">
<rect x="231.9" y="1649.0" width="7" height="57.1" fill="#444"/>
<rect x="251.8" y="1649.0" width="5" height="37.8" fill="#8c8c8c"/>
<rect x="308.9" y="1649.0" width="4" height="34.8" fill="#8a8a8a"/>
<rect x="320.2" y="1649.0" width="8" height="57.1" fill="#444"/>
</g>
<rect x="270.9" y="1651.0" width="8.9" height="40.2" fill="#fbfbfb" filter="url(#b15)"/>
</g>
<rect x="224.3" y="1654.0" width="111.0" height="149.0" fill="none" stroke="#ffffff" stroke-opacity="0.35" stroke-width="3" filter="url(#b1)"/>
<clipPath id="c13"><rect x="351.2" y="1654.0" width="111.6" height="149.0"/></clipPath>
<rect x="349.7" y="1652.5" width="114.6" height="152.0" fill="#e4e4e4" filter="url(#b2)"/>
<g clip-path="url(#c13)">
<rect x="351.2" y="1654.0" width="111.6" height="149.0" fill="#cccccc"/>
<g filter="url(#b5)">
<ellipse cx="349.2" cy="1795.5" rx="14.5" ry="26.8" fill="#9a9a9a"/>
<ellipse cx="464.8" cy="1797.0" rx="13.4" ry="20.9" fill="#a2a2a2"/>
<ellipse cx="407.0" cy="1773.2" rx="33.5" ry="14.9" fill="#e6e6e6"/>
<ellipse cx="407.0" cy="1743.4" rx="50.2" ry="6.0" fill="#b4b4b4"/>
<ellipse cx="407.0" cy="1716.6" rx="20.1" ry="14.9" fill="#dedede"/>
</g>
<g filter="url(#b5)">
<polygon points="351.2,1654.0 399.2,1654.0 391.4,1683.8 379.1,1701.7 351.2,1736.0" fill="#565656"/>
<polygon points="420.4,1654.0 462.8,1654.0 462.8,1743.4 446.1,1721.0 429.3,1695.7" fill="#565656"/>
<ellipse cx="361.2" cy="1752.3" rx="6.7" ry="6.0" fill="#505050"/>
<ellipse cx="453.9" cy="1765.8" rx="8.9" ry="8.9" fill="#777"/>
</g>
<g filter="url(#b2)" opacity="0.55">
<rect x="358.9" y="1649.0" width="7" height="57.1" fill="#444"/>
<rect x="378.8" y="1649.0" width="5" height="37.8" fill="#8c8c8c"/>
<rect x="436.2" y="1649.0" width="4" height="34.8" fill="#8a8a8a"/>
<rect x="447.6" y="1649.0" width="8" height="57.1" fill="#444"/>
</g>
<rect x="401.4" y="1651.0" width="16.7" height="40.2" fill="#fbfbfb" filter="url(#b15)"/>
<polygon points="394.2,1706.2 407.0,1703.2 418.2,1702.4 436.6,1712.1 442.7,1733.0 440.5,1752.3 428.2,1762.8 414.3,1760.5 400.3,1752.3 391.9,1740.4 395.8,1733.0 385.8,1726.3 388.0,1714.3" fill="#d9ccf6" stroke="#d9ccf6" stroke-width="7" stroke-linejoin="round" filter="url(#b2)" opacity="0.8"/>
<polygon points="394.2,1706.2 407.0,1703.2 418.2,1702.4 436.6,1712.1 442.7,1733.0 440.5,1752.3 428.2,1762.8 414.3,1760.5 400.3,1752.3 391.9,1740.4 395.8,1733.0 385.8,1726.3 388.0,1714.3" fill="#5a3fb2" stroke="#5a3fb2" stroke-width="3" stroke-linejoin="round" filter="url(#b15)"/>
<g filter="url(#b5)" transform="rotate(0 418.2 1736.0)">
<ellipse cx="418.2" cy="1736.0" rx="11.2" ry="10.4" fill="#4c44b4"/>
</g>
</g>
<rect x="351.2" y="1654.0" width="111.6" height="149.0" fill="none" stroke="#ffffff" stroke-opacity="0.35" stroke-width="3" filter="url(#b1)"/>
<clipPath id="c23"><rect x="474.0" y="1654.0" width="111.4" height="149.0"/></clipPath>
<rect x="472.5" y="1652.5" width="114.4" height="152.0" fill="#e4e4e4" filter="url(#b2)"/>
<g clip-path="url(#c23)">
<rect x="474.0" y="1654.0" width="111.4" height="149.0" fill="#d0d0d0"/>
<g filter="url(#b5)">
<ellipse cx="472.0" cy="1795.5" rx="14.5" ry="26.8" fill="#9a9a9a"/>
<ellipse cx="587.4" cy="1797.0" rx="13.4" ry="20.9" fill="#a2a2a2"/>
<ellipse cx="529.7" cy="1773.2" rx="33.4" ry="14.9" fill="#e6e6e6"/>
<ellipse cx="529.7" cy="1743.4" rx="50.1" ry="6.0" fill="#b4b4b4"/>
<ellipse cx="529.7" cy="1716.6" rx="20.1" ry="14.9" fill="#dedede"/>
</g>
<g filter="url(#b5)">
<polygon points="474.0,1654.0 518.6,1654.0 513.0,1691.2 496.3,1713.6 474.0,1743.4" fill="#565656"/>
<polygon points="538.6,1654.0 585.4,1654.0 585.4,1746.4 568.7,1721.0 547.5,1691.2" fill="#565656"/>
<ellipse cx="574.3" cy="1776.2" rx="11.1" ry="8.9" fill="#484848"/>
</g>
<g filter="url(#b2)" opacity="0.55">
<rect x="481.6" y="1649.0" width="7" height="57.1" fill="#444"/>
<rect x="501.6" y="1649.0" width="5" height="37.8" fill="#8c8c8c"/>
<rect x="558.9" y="1649.0" width="4" height="34.8" fill="#8a8a8a"/>
<rect x="570.3" y="1649.0" width="8" height="57.1" fill="#444"/>
</g>
<rect x="520.8" y="1651.0" width="8.9" height="47.7" fill="#fbfbfb" filter="url(#b15)"/>
<polygon points="523.0,1706.2 543.1,1702.4 559.8,1708.4 561.4,1728.5 555.3,1742.7 540.8,1746.4 530.8,1736.7 516.9,1724.0 514.1,1716.6" fill="#d9ccf6" stroke="#d9ccf6" stroke-width="7" stroke-linejoin="round" filter="url(#b2)" opacity="0.8"/>
<polygon points="523.0,1706.2 543.1,1702.4 559.8,1708.4 561.4,1728.5 555.3,1742.7 540.8,1746.4 530.8,1736.7 516.9,1724.0 514.1,1716.6" fill="#5a3fb2" stroke="#5a3fb2" stroke-width="3" stroke-linejoin="round" filter="url(#b15)"/>
</g>
<rect x="474.0" y="1654.0" width="111.4" height="149.0" fill="none" stroke="#ffffff" stroke-opacity="0.35" stroke-width="3" filter="url(#b1)"/>
<g filter="url(#b1)" stroke="#343434" stroke-width="1.5">
<text x="242.5" y="1164.0" font-size="31.0" fill="#343434" textLength="76.5" lengthAdjust="spacingAndGlyphs">Day 0</text>
<text x="373.0" y="1164.0" font-size="31.0" fill="#343434" textLength="76.5" lengthAdjust="spacingAndGlyphs">Day 6</text>
<text x="492.5" y="1164.0" font-size="31.0" fill="#343434" textLength="90.0" lengthAdjust="spacingAndGlyphs">Day 16</text>
<text x="610.0" y="1166.0" font-size="30.0" fill="#343434" textLength="195.0" lengthAdjust="spacingAndGlyphs">Luminescence</text>
<text x="45.0" y="1264.5" font-size="42.0" fill="#343434" textLength="172.5" lengthAdjust="spacingAndGlyphs">Untreated</text>
<text x="113.0" y="1422.0" font-size="42.0" fill="#343434" textLength="104.0" lengthAdjust="spacingAndGlyphs">5-ALA</text>
<text x="159.0" y="1580.0" font-size="42.0" fill="#343434" textLength="58.0" lengthAdjust="spacingAndGlyphs">NIR</text>
<text x="150.0" y="1737.5" font-size="42.0" fill="#343434" textLength="66.0" lengthAdjust="spacingAndGlyphs">PDT</text>
<text x="675.0" y="1294.8" font-size="40.0" fill="#343434" textLength="51.0" lengthAdjust="spacingAndGlyphs">0.8</text>
<text x="675.0" y="1396.8" font-size="40.0" fill="#343434" textLength="51.0" lengthAdjust="spacingAndGlyphs">0.6</text>
<text x="675.0" y="1498.3" font-size="40.0" fill="#343434" textLength="51.0" lengthAdjust="spacingAndGlyphs">0.4</text>
<text x="675.0" y="1603.3" font-size="40.0" fill="#343434" textLength="51.0" lengthAdjust="spacingAndGlyphs">0.2</text>
<text x="725" y="1462.5" font-size="39" fill="#343434" textLength="73" lengthAdjust="spacingAndGlyphs">x10<tspan dy="-13" font-size="24">9</tspan></text>
<text x="603.0" y="1726.0" font-size="42.0" fill="#343434" textLength="153.0" lengthAdjust="spacingAndGlyphs">Radiance</text>
<text x="602.0" y="1780.0" font-size="42.0" fill="#343434" textLength="240.0" lengthAdjust="spacingAndGlyphs">(p/sec/cm²/sr)</text>
</g>
<g filter="url(#b1)">
<rect x="641.5" y="1173" width="17" height="511" fill="url(#gCbar)"/>
<rect x="654.5" y="1173" width="4" height="511" fill="#000" opacity="0.22"/>
<rect x="658.5" y="1191.5" width="7" height="3" fill="#555" opacity="0.75"/>
<rect x="658.5" y="1211.8" width="7" height="3" fill="#555" opacity="0.75"/>
<rect x="658.5" y="1232.0" width="7" height="3" fill="#555" opacity="0.75"/>
<rect x="658.5" y="1252.2" width="7" height="3" fill="#555" opacity="0.75"/>
<rect x="658.5" y="1272.5" width="9" height="3" fill="#555" opacity="0.9"/>
<rect x="658.5" y="1292.8" width="7" height="3" fill="#555" opacity="0.75"/>
<rect x="658.5" y="1313.0" width="7" height="3" fill="#555" opacity="0.75"/>
<rect x="658.5" y="1333.2" width="7" height="3" fill="#555" opacity="0.75"/>
<rect x="658.5" y="1353.5" width="7" height="3" fill="#555" opacity="0.75"/>
<rect x="658.5" y="1373.8" width="9" height="3" fill="#555" opacity="0.9"/>
<rect x="658.5" y="1394.0" width="7" height="3" fill="#555" opacity="0.75"/>
<rect x="658.5" y="1414.2" width="7" height="3" fill="#555" opacity="0.75"/>
<rect x="658.5" y="1434.5" width="7" height="3" fill="#555" opacity="0.75"/>
<rect x="658.5" y="1454.8" width="7" height="3" fill="#555" opacity="0.75"/>
<rect x="658.5" y="1475.0" width="9" height="3" fill="#555" opacity="0.9"/>
<rect x="658.5" y="1495.2" width="7" height="3" fill="#555" opacity="0.75"/>
<rect x="658.5" y="1515.5" width="7" height="3" fill="#555" opacity="0.75"/>
<rect x="658.5" y="1535.8" width="7" height="3" fill="#555" opacity="0.75"/>
<rect x="658.5" y="1556.0" width="7" height="3" fill="#555" opacity="0.75"/>
<rect x="658.5" y="1576.2" width="9" height="3" fill="#555" opacity="0.9"/>
<rect x="658.5" y="1596.5" width="7" height="3" fill="#555" opacity="0.75"/>
<rect x="658.5" y="1616.8" width="7" height="3" fill="#555" opacity="0.75"/>
<rect x="658.5" y="1637.0" width="7" height="3" fill="#555" opacity="0.75"/>
<rect x="658.5" y="1657.2" width="7" height="3" fill="#555" opacity="0.75"/>
<rect x="658.5" y="1677.5" width="9" height="3" fill="#555" opacity="0.9"/>
</g>
</g>
<g id="panel-c">
<g filter="url(#b1)">
<rect x="1158.2" y="1208" width="5" height="513" fill="#767676"/>
<rect x="1143" y="1716" width="675" height="5" fill="#767676"/>
<rect x="1143" y="1546.9" width="17" height="4.6" fill="#767676"/>
<rect x="1143" y="1377.6" width="17" height="4.6" fill="#767676"/>
<rect x="1143" y="1208.3" width="17" height="4.6" fill="#767676"/>
<rect x="1289.5" y="1718" width="4.6" height="18" fill="#767676"/>
<rect x="1486.7" y="1718" width="4.6" height="18" fill="#767676"/>
<rect x="1683.7" y="1718" width="4.6" height="18" fill="#767676"/>
<rect x="1289.8" y="1474.5" width="4" height="155.0" fill="#a4a4a4"/>
<rect x="1285.3" y="1473.0" width="13" height="3" fill="#a4a4a4"/>
<rect x="1285.3" y="1628.0" width="13" height="3" fill="#a4a4a4"/>
<rect x="1487.0" y="1420.0" width="4" height="185.0" fill="#a4a4a4"/>
<rect x="1482.5" y="1418.5" width="13" height="3" fill="#a4a4a4"/>
<rect x="1482.5" y="1603.5" width="13" height="3" fill="#a4a4a4"/>
<rect x="1684.0" y="1259.5" width="4" height="330.5" fill="#a4a4a4"/>
<rect x="1679.5" y="1258.0" width="13" height="3" fill="#a4a4a4"/>
<rect x="1680.0" y="1537.5" width="12" height="3" fill="#808088"/>
<rect x="1487.5" y="1690" width="3" height="22" fill="#e8c8a0"/>
<rect x="1684.5" y="1680" width="3" height="32" fill="#e8c8a0"/>
<polyline points="1291.8,1695.0 1489.0,1695.0 1686.0,1693.0" fill="none" stroke="#f0a060" stroke-width="3" stroke-linejoin="round"/>
<circle cx="1291.8" cy="1695.0" r="5.5" fill="#e07a30"/>
<circle cx="1489.0" cy="1695.0" r="5.5" fill="#e07a30"/>
<circle cx="1686.0" cy="1693.0" r="5.5" fill="#e07a30"/>
<polyline points="1291.8,1690.5 1489.0,1683.5 1686.0,1612.5" fill="none" stroke="#c87888" stroke-width="3" stroke-linejoin="round"/>
<circle cx="1291.8" cy="1690.5" r="5.5" fill="#c8283c"/>
<circle cx="1489.0" cy="1683.5" r="5.5" fill="#c8283c"/>
<circle cx="1686.0" cy="1612.5" r="5.5" fill="#c8283c"/>
<polyline points="1291.8,1679.5 1489.0,1647.0 1686.0,1515.5" fill="none" stroke="#6a6a78" stroke-width="3" stroke-linejoin="round"/>
<circle cx="1291.8" cy="1679.5" r="6.5" fill="#2c3484"/>
<circle cx="1489.0" cy="1647.0" r="6.5" fill="#2c3484"/>
<circle cx="1686.0" cy="1515.5" r="6.5" fill="#2c3484"/>
<polyline points="1291.8,1553.0 1489.0,1513.3 1686.0,1398.7" fill="none" stroke="#444444" stroke-width="4" stroke-linejoin="round"/>
<circle cx="1291.8" cy="1553.0" r="7.5" fill="#0a0a0a"/>
<circle cx="1489.0" cy="1513.3" r="7.5" fill="#0a0a0a"/>
<circle cx="1686.0" cy="1398.7" r="7.5" fill="#0a0a0a"/>
<rect x="1790" y="1346.0" width="46" height="4" fill="#555555"/>
<circle cx="1813" cy="1348.0" r="6.3" fill="#0a0a0a"/>
<rect x="1790" y="1414.2" width="46" height="3.5" fill="#a8a8b4"/>
<circle cx="1813" cy="1416.0" r="5.2" fill="#3444a4"/>
<rect x="1790" y="1483.2" width="46" height="3.5" fill="#e0a8b8"/>
<circle cx="1813" cy="1485.0" r="4.8" fill="#d03060"/>
<rect x="1790" y="1547.8" width="46" height="3.5" fill="#f0c8a0"/>
<circle cx="1813" cy="1549.5" r="4.8" fill="#e08040"/>
</g>
<g filter="url(#b15)" stroke="#383838" stroke-width="1.3">
<text x="1284.0" y="1212.0" font-size="63.0" fill="#3a3a3a" textLength="396.0" lengthAdjust="spacingAndGlyphs">ΔTumor burden</text>
<text x="1076.0" y="1236.0" font-size="60.0" fill="#3a3a3a" textLength="62.0" lengthAdjust="spacingAndGlyphs">30</text>
<text x="1076.0" y="1404.5" font-size="60.0" fill="#3a3a3a" textLength="62.0" lengthAdjust="spacingAndGlyphs">20</text>
<text x="1078.0" y="1573.0" font-size="60.0" fill="#3a3a3a" textLength="60.0" lengthAdjust="spacingAndGlyphs">10</text>
<text x="1106.0" y="1740.0" font-size="60.0" fill="#3a3a3a" textLength="30.0" lengthAdjust="spacingAndGlyphs">0</text>
<text x="1259.0" y="1784.0" font-size="53.0" fill="#3a3a3a" textLength="57.0" lengthAdjust="spacingAndGlyphs">10</text>
<text x="1456.0" y="1784.0" font-size="53.0" fill="#3a3a3a" textLength="56.0" lengthAdjust="spacingAndGlyphs">13</text>
<text x="1653.0" y="1784.0" font-size="53.0" fill="#3a3a3a" textLength="57.0" lengthAdjust="spacingAndGlyphs">16</text>
<text x="1862.0" y="1361.0" font-size="57.5" fill="#3a3a3a" textLength="254.0" lengthAdjust="spacingAndGlyphs">Untreated</text>
<text x="1863.0" y="1430.0" font-size="57.5" fill="#3a3a3a" textLength="150.0" lengthAdjust="spacingAndGlyphs">5-ALA</text>
<text x="1863.0" y="1497.5" font-size="57.5" fill="#3a3a3a" textLength="85.0" lengthAdjust="spacingAndGlyphs">NIR</text>
<text x="1863.0" y="1563.5" font-size="57.5" fill="#3a3a3a" textLength="100.0" lengthAdjust="spacingAndGlyphs">PDT</text>
<text x="1662.0" y="1356.0" font-size="62.0" fill="#484848" textLength="25.0" lengthAdjust="spacingAndGlyphs" font-weight="bold" stroke="none">*</text>
<text x="1624.0" y="1523.0" font-size="62.0" fill="#484848" textLength="77.0" lengthAdjust="spacingAndGlyphs" font-weight="bold" stroke="none">***</text>
<text x="1600.0" y="1621.0" font-size="62.0" fill="#484848" textLength="105.0" lengthAdjust="spacingAndGlyphs" font-weight="bold" stroke="none">****</text>
<text transform="translate(987 1630) rotate(-90)" font-size="60" fill="#3a3a3a" textLength="287" lengthAdjust="spacingAndGlyphs">Normalized</text>
<text transform="translate(1062 1630) rotate(-90)" font-size="60" fill="#3a3a3a" textLength="272" lengthAdjust="spacingAndGlyphs">ΔTotal Flux</text>
</g>
</g>
</svg>
</body></html>
